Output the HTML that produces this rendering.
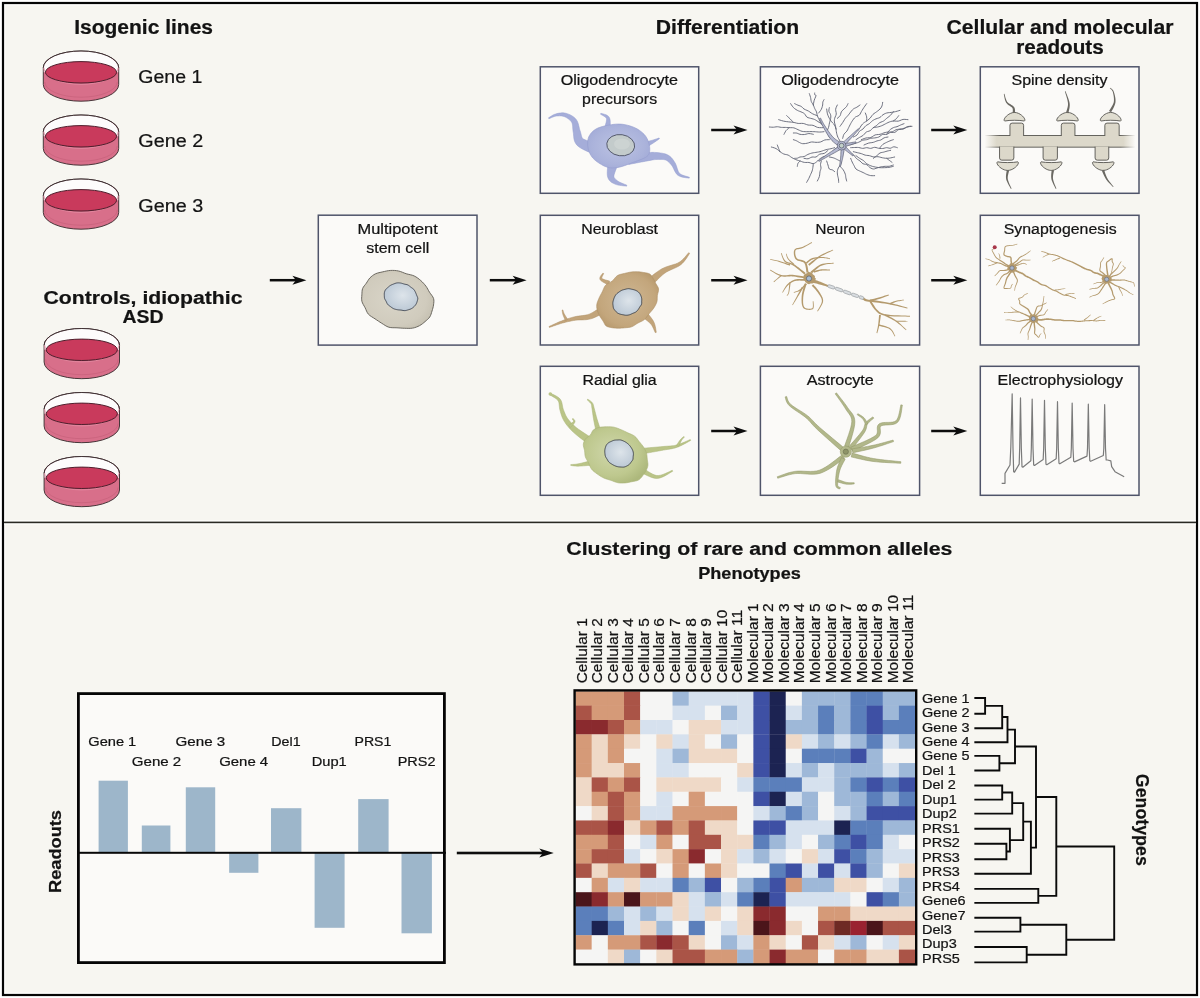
<!DOCTYPE html>
<html><head><meta charset="utf-8"><style>
html,body{margin:0;padding:0;background:#ffffff;}
svg{display:block;}
text{font-family:"Liberation Sans",sans-serif;fill:#131313;stroke:#131313;stroke-width:0.22px;}
svg{will-change:transform;}
</style></head><body>
<svg width="1200" height="998" viewBox="0 0 1200 998">
<rect x="0" y="0" width="1200" height="998" fill="#ffffff"/>
<rect x="4" y="4" width="1192" height="990" fill="#fcfcfa"/>
<rect x="5.5" y="5.5" width="1189" height="987" fill="#f7f6f1"/>
<rect x="3" y="3" width="1194" height="992" fill="none" stroke="#050505" stroke-width="2.2"/>
<rect x="4" y="520.2" width="1192" height="4.4" fill="#fdfdfb"/>
<rect x="4" y="521.6" width="1192" height="1.6" fill="#2a2a24"/>
<path d="M43.3 67.7 A37.7 16.7 0 0 1 118.7 67.7 L118.7 84.5 A37.7 16.7 0 0 1 43.3 84.5 Z" fill="#d86f8a" stroke="#3e3033" stroke-width="0.95"/>
<path d="M43.8 67.7 A37.2 16.4 0 0 1 118.2 67.7 L118.2 72.3 L43.8 72.3 Z" fill="#fdfcfc"/>
<path d="M43.9 67.7 A37.1 16.7 0 0 0 118.1 67.7" fill="none" stroke="#e48da3" stroke-width="0.8"/>
<path d="M44.8 82 A36.2 15.2 0 0 0 117.2 82" fill="none" stroke="#c9627c" stroke-width="0.8"/>
<ellipse cx="81" cy="72.3" rx="35.6" ry="10.7" fill="#c93a5c" stroke="#4e1e2c" stroke-width="1.0"/>
<path d="M43.3 67.7 A37.7 16.7 0 0 1 118.7 67.7" fill="none" stroke="#3e3033" stroke-width="0.95"/>
<path d="M43.3 131.7 A37.7 16.7 0 0 1 118.7 131.7 L118.7 148.5 A37.7 16.7 0 0 1 43.3 148.5 Z" fill="#d86f8a" stroke="#3e3033" stroke-width="0.95"/>
<path d="M43.8 131.7 A37.2 16.4 0 0 1 118.2 131.7 L118.2 136.3 L43.8 136.3 Z" fill="#fdfcfc"/>
<path d="M43.9 131.7 A37.1 16.7 0 0 0 118.1 131.7" fill="none" stroke="#e48da3" stroke-width="0.8"/>
<path d="M44.8 146 A36.2 15.2 0 0 0 117.2 146" fill="none" stroke="#c9627c" stroke-width="0.8"/>
<ellipse cx="81" cy="136.3" rx="35.6" ry="10.7" fill="#c93a5c" stroke="#4e1e2c" stroke-width="1.0"/>
<path d="M43.3 131.7 A37.7 16.7 0 0 1 118.7 131.7" fill="none" stroke="#3e3033" stroke-width="0.95"/>
<path d="M43.3 195.7 A37.7 16.7 0 0 1 118.7 195.7 L118.7 212.5 A37.7 16.7 0 0 1 43.3 212.5 Z" fill="#d86f8a" stroke="#3e3033" stroke-width="0.95"/>
<path d="M43.8 195.7 A37.2 16.4 0 0 1 118.2 195.7 L118.2 200.3 L43.8 200.3 Z" fill="#fdfcfc"/>
<path d="M43.9 195.7 A37.1 16.7 0 0 0 118.1 195.7" fill="none" stroke="#e48da3" stroke-width="0.8"/>
<path d="M44.8 210 A36.2 15.2 0 0 0 117.2 210" fill="none" stroke="#c9627c" stroke-width="0.8"/>
<ellipse cx="81" cy="200.3" rx="35.6" ry="10.7" fill="#c93a5c" stroke="#4e1e2c" stroke-width="1.0"/>
<path d="M43.3 195.7 A37.7 16.7 0 0 1 118.7 195.7" fill="none" stroke="#3e3033" stroke-width="0.95"/>
<path d="M44.1 345.2 A37.7 16.7 0 0 1 119.5 345.2 L119.5 362 A37.7 16.7 0 0 1 44.1 362 Z" fill="#d86f8a" stroke="#3e3033" stroke-width="0.95"/>
<path d="M44.6 345.2 A37.2 16.4 0 0 1 119 345.2 L119 349.8 L44.6 349.8 Z" fill="#fdfcfc"/>
<path d="M44.7 345.2 A37.1 16.7 0 0 0 118.9 345.2" fill="none" stroke="#e48da3" stroke-width="0.8"/>
<path d="M45.6 359.5 A36.2 15.2 0 0 0 118 359.5" fill="none" stroke="#c9627c" stroke-width="0.8"/>
<ellipse cx="81.8" cy="349.8" rx="35.6" ry="10.7" fill="#c93a5c" stroke="#4e1e2c" stroke-width="1.0"/>
<path d="M44.1 345.2 A37.7 16.7 0 0 1 119.5 345.2" fill="none" stroke="#3e3033" stroke-width="0.95"/>
<path d="M44.1 409.2 A37.7 16.7 0 0 1 119.5 409.2 L119.5 426 A37.7 16.7 0 0 1 44.1 426 Z" fill="#d86f8a" stroke="#3e3033" stroke-width="0.95"/>
<path d="M44.6 409.2 A37.2 16.4 0 0 1 119 409.2 L119 413.8 L44.6 413.8 Z" fill="#fdfcfc"/>
<path d="M44.7 409.2 A37.1 16.7 0 0 0 118.9 409.2" fill="none" stroke="#e48da3" stroke-width="0.8"/>
<path d="M45.6 423.5 A36.2 15.2 0 0 0 118 423.5" fill="none" stroke="#c9627c" stroke-width="0.8"/>
<ellipse cx="81.8" cy="413.8" rx="35.6" ry="10.7" fill="#c93a5c" stroke="#4e1e2c" stroke-width="1.0"/>
<path d="M44.1 409.2 A37.7 16.7 0 0 1 119.5 409.2" fill="none" stroke="#3e3033" stroke-width="0.95"/>
<path d="M44.1 473.2 A37.7 16.7 0 0 1 119.5 473.2 L119.5 490 A37.7 16.7 0 0 1 44.1 490 Z" fill="#d86f8a" stroke="#3e3033" stroke-width="0.95"/>
<path d="M44.6 473.2 A37.2 16.4 0 0 1 119 473.2 L119 477.8 L44.6 477.8 Z" fill="#fdfcfc"/>
<path d="M44.7 473.2 A37.1 16.7 0 0 0 118.9 473.2" fill="none" stroke="#e48da3" stroke-width="0.8"/>
<path d="M45.6 487.5 A36.2 15.2 0 0 0 118 487.5" fill="none" stroke="#c9627c" stroke-width="0.8"/>
<ellipse cx="81.8" cy="477.8" rx="35.6" ry="10.7" fill="#c93a5c" stroke="#4e1e2c" stroke-width="1.0"/>
<path d="M44.1 473.2 A37.7 16.7 0 0 1 119.5 473.2" fill="none" stroke="#3e3033" stroke-width="0.95"/>
<text x="74.2" y="34.1" font-size="19.33" font-weight="bold" textLength="138.81" lengthAdjust="spacingAndGlyphs">Isogenic lines</text>
<text x="138.3" y="83.3" font-size="19.19" textLength="64.01" lengthAdjust="spacingAndGlyphs">Gene 1</text>
<text x="138.3" y="147.4" font-size="19.19" textLength="65.01" lengthAdjust="spacingAndGlyphs">Gene 2</text>
<text x="138.3" y="211.6" font-size="19.19" textLength="65.01" lengthAdjust="spacingAndGlyphs">Gene 3</text>
<text x="43.5" y="303.5" font-size="19.19" font-weight="bold" textLength="198.99" lengthAdjust="spacingAndGlyphs">Controls, idiopathic</text>
<text x="122.5" y="323" font-size="19.19" font-weight="bold" textLength="41.01" lengthAdjust="spacingAndGlyphs">ASD</text>
<text x="655.8" y="34.3" font-size="19.33" font-weight="bold" textLength="143.3" lengthAdjust="spacingAndGlyphs">Differentiation</text>
<text x="946.5" y="34" font-size="19.33" font-weight="bold" textLength="226.99" lengthAdjust="spacingAndGlyphs">Cellular and molecular</text>
<text x="1016.3" y="54.2" font-size="19.33" font-weight="bold" textLength="87.5" lengthAdjust="spacingAndGlyphs">readouts</text>
<rect x="540.3" y="66.8" width="158.4" height="126.5" fill="#fbfaf8" stroke="#4f546a" stroke-width="1.5"/>
<rect x="540.3" y="215.3" width="158.4" height="129.7" fill="#fbfaf8" stroke="#4f546a" stroke-width="1.5"/>
<rect x="540.3" y="366.3" width="158.4" height="129" fill="#fbfaf8" stroke="#4f546a" stroke-width="1.5"/>
<rect x="760.4" y="66.8" width="159.2" height="126.5" fill="#fbfaf8" stroke="#4f546a" stroke-width="1.5"/>
<rect x="760.4" y="215.3" width="159.2" height="129.7" fill="#fbfaf8" stroke="#4f546a" stroke-width="1.5"/>
<rect x="760.4" y="366.3" width="159.2" height="129" fill="#fbfaf8" stroke="#4f546a" stroke-width="1.5"/>
<rect x="980.3" y="66.8" width="158.7" height="126.5" fill="#fbfaf8" stroke="#4f546a" stroke-width="1.5"/>
<rect x="980.3" y="215.3" width="158.7" height="129.7" fill="#fbfaf8" stroke="#4f546a" stroke-width="1.5"/>
<rect x="980.3" y="366.3" width="158.7" height="129" fill="#fbfaf8" stroke="#4f546a" stroke-width="1.5"/>
<rect x="318.3" y="215.2" width="158.7" height="129.9" fill="#fbfaf8" stroke="#4f546a" stroke-width="1.5"/>
<rect x="269.8" y="278.95" width="27.1" height="2.5" fill="#0d0d0d"/>
<path d="M306.4 280.2 L292.4 275.7 L295.9 280.2 L292.4 284.7Z" fill="#0d0d0d"/>
<rect x="489.8" y="278.95" width="27.3" height="2.5" fill="#0d0d0d"/>
<path d="M526.6 280.2 L512.6 275.7 L516.1 280.2 L512.6 284.7Z" fill="#0d0d0d"/>
<rect x="711.2" y="128.75" width="26.8" height="2.5" fill="#0d0d0d"/>
<path d="M747.5 130 L733.5 125.5 L737 130 L733.5 134.5Z" fill="#0d0d0d"/>
<rect x="931.2" y="128.75" width="26.6" height="2.5" fill="#0d0d0d"/>
<path d="M967.3 130 L953.3 125.5 L956.8 130 L953.3 134.5Z" fill="#0d0d0d"/>
<rect x="711.2" y="279" width="26.8" height="2.5" fill="#0d0d0d"/>
<path d="M747.5 280.25 L733.5 275.75 L737 280.25 L733.5 284.75Z" fill="#0d0d0d"/>
<rect x="931.2" y="279" width="26.6" height="2.5" fill="#0d0d0d"/>
<path d="M967.3 280.25 L953.3 275.75 L956.8 280.25 L953.3 284.75Z" fill="#0d0d0d"/>
<rect x="711.2" y="429.75" width="26.8" height="2.5" fill="#0d0d0d"/>
<path d="M747.5 431 L733.5 426.5 L737 431 L733.5 435.5Z" fill="#0d0d0d"/>
<rect x="931.2" y="429.75" width="26.6" height="2.5" fill="#0d0d0d"/>
<path d="M967.3 431 L953.3 426.5 L956.8 431 L953.3 435.5Z" fill="#0d0d0d"/>
<rect x="456.8" y="851.7" width="87" height="2.6" fill="#0d0d0d"/>
<path d="M553.8 853 L539.3 848.6 L542.8 853 L539.3 857.4Z" fill="#0d0d0d"/>
<text x="560.7" y="84.9" font-size="14.24" textLength="117.3" lengthAdjust="spacingAndGlyphs">Oligodendrocyte</text>
<text x="582.1" y="103.6" font-size="14.24" textLength="74.99" lengthAdjust="spacingAndGlyphs">precursors</text>
<text x="781.3" y="84.9" font-size="14.24" textLength="117.6" lengthAdjust="spacingAndGlyphs">Oligodendrocyte</text>
<text x="1011.5" y="84.5" font-size="14.24" textLength="96" lengthAdjust="spacingAndGlyphs">Spine density</text>
<text x="357.5" y="234.3" font-size="14.24" textLength="80.29" lengthAdjust="spacingAndGlyphs">Multipotent</text>
<text x="366.3" y="253.2" font-size="14.24" textLength="63.01" lengthAdjust="spacingAndGlyphs">stem cell</text>
<text x="581.2" y="234.2" font-size="14.24" textLength="76.8" lengthAdjust="spacingAndGlyphs">Neuroblast</text>
<text x="815.5" y="233.8" font-size="14.24" textLength="49.5" lengthAdjust="spacingAndGlyphs">Neuron</text>
<text x="1003.7" y="234.2" font-size="14.24" textLength="113" lengthAdjust="spacingAndGlyphs">Synaptogenesis</text>
<text x="582.5" y="384.7" font-size="14.24" textLength="74.19" lengthAdjust="spacingAndGlyphs">Radial glia</text>
<text x="806.7" y="384.7" font-size="14.24" textLength="67.1" lengthAdjust="spacingAndGlyphs">Astrocyte</text>
<text x="997.5" y="384.7" font-size="14.24" textLength="125.51" lengthAdjust="spacingAndGlyphs">Electrophysiology</text>
<text x="566.3" y="554.5" font-size="19.19" font-weight="bold" textLength="386.01" lengthAdjust="spacingAndGlyphs">Clustering of rare and common alleles</text>
<text x="698.2" y="579" font-size="16.28" font-weight="bold" textLength="102.6" lengthAdjust="spacingAndGlyphs">Phenotypes</text>
<defs><radialGradient id="gopc" cx="0.5" cy="0.5" r="0.6"><stop offset="0" stop-color="#bcc3e3"/><stop offset="0.7" stop-color="#abb3db"/><stop offset="1" stop-color="#a0a9d6"/></radialGradient><radialGradient id="gms" cx="0.45" cy="0.5" r="0.6"><stop offset="0" stop-color="#d9d5c8"/><stop offset="0.75" stop-color="#d0cbbd"/><stop offset="1" stop-color="#c4bfb0"/></radialGradient><radialGradient id="gnb" cx="0.5" cy="0.5" r="0.6"><stop offset="0" stop-color="#cfb793"/><stop offset="0.75" stop-color="#c3a67c"/><stop offset="1" stop-color="#b6986c"/></radialGradient><radialGradient id="grg" cx="0.45" cy="0.45" r="0.6"><stop offset="0" stop-color="#d0d7ab"/><stop offset="0.7" stop-color="#bec88e"/><stop offset="1" stop-color="#adb87c"/></radialGradient><radialGradient id="gnuc" cx="0.55" cy="0.45" r="0.6"><stop offset="0" stop-color="#dde4ea"/><stop offset="1" stop-color="#bac7d4"/></radialGradient></defs>
<path d="M595.07 142.9 L593.86 142.51 L592.24 142.05 L590.43 141.56 L588.54 141.01 L586.69 140.43 L585.04 139.82 L583.78 139.26 L583.06 138.86 L582.67 138.53 L582.29 138.04 L581.93 137.31 L581.59 136.34 L581.27 135.15 L580.96 133.8 L580.59 132.3 L580.14 130.88 L579.73 129.65 L579.4 128.4 L579.08 127.03 L578.74 125.56 L578.34 124.04 L577.83 122.49 L577.14 120.95 L576.23 119.52 L575.14 118.28 L573.94 117.21 L572.65 116.27 L571.31 115.44 L569.93 114.73 L568.55 114.13 L567.2 113.63 L565.87 113.24 L564.52 112.97 L563.16 112.85 L561.82 112.85 L560.51 112.94 L559.25 113.11 L558.03 113.34 L556.87 113.61 L555.76 113.91 L554.63 114.29 L553.51 114.79 L552.43 115.36 L551.42 115.97 L550.49 116.56 L549.67 117.09 L548.99 117.54 L548.47 117.85 L548.93 118.75 L549.51 118.51 L550.26 118.16 L551.14 117.76 L552.12 117.33 L553.16 116.92 L554.22 116.55 L555.25 116.27 L556.24 116.09 L557.27 115.99 L558.37 115.91 L559.49 115.87 L560.61 115.9 L561.72 115.99 L562.78 116.15 L563.78 116.41 L564.73 116.76 L565.72 117.23 L566.76 117.81 L567.81 118.48 L568.82 119.22 L569.76 120.02 L570.58 120.85 L571.27 121.69 L571.77 122.48 L572.1 123.28 L572.34 124.21 L572.51 125.33 L572.64 126.6 L572.74 127.99 L572.85 129.48 L573.02 131.05 L573.26 132.52 L573.45 133.77 L573.55 135.01 L573.66 136.41 L573.82 137.95 L574.12 139.63 L574.67 141.44 L575.57 143.31 L576.94 145.14 L578.72 146.73 L580.71 148.06 L582.78 149.23 L584.87 150.27 L586.87 151.2 L588.64 151.99 L590 152.62 L590.93 153.1Z" fill="#a5add9" stroke="#939cce" stroke-width="0.5" stroke-linejoin="round"/>
<path d="M609.97 130.42 L609.98 129.52 L610.05 128.22 L610.16 126.6 L610.25 124.78 L610.28 122.9 L610.21 121.05 L609.97 119.31 L609.46 117.73 L608.55 116.45 L607.39 115.53 L606.13 114.87 L604.83 114.38 L603.59 114 L602.46 113.71 L601.55 113.47 L600.92 113.25 L600.48 114.15 L601.09 114.54 L601.95 115.01 L602.95 115.55 L603.99 116.16 L604.97 116.84 L605.78 117.55 L606.32 118.25 L606.54 118.87 L606.56 119.7 L606.41 120.95 L606.1 122.47 L605.66 124.09 L605.18 125.72 L604.7 127.24 L604.29 128.58 L604.03 129.58Z" fill="#a5add9" stroke="#939cce" stroke-width="0.5" stroke-linejoin="round"/>
<path d="M646.09 147.52 L646.68 147.16 L647.47 146.67 L648.41 146.09 L649.46 145.44 L650.56 144.76 L651.66 144.07 L652.69 143.41 L653.62 142.81 L654.48 142.23 L655.36 141.63 L656.22 141.02 L657.04 140.43 L657.8 139.88 L658.48 139.38 L659.05 138.97 L659.48 138.66 L659.12 137.94 L658.6 138.12 L657.94 138.35 L657.15 138.63 L656.26 138.93 L655.31 139.25 L654.33 139.58 L653.34 139.89 L652.38 140.19 L651.36 140.48 L650.21 140.8 L648.98 141.13 L647.75 141.46 L646.56 141.77 L645.49 142.06 L644.58 142.3 L643.91 142.48Z" fill="#a5add9" stroke="#939cce" stroke-width="0.5" stroke-linejoin="round"/>
<path d="M628.65 164.46 L630 164.21 L631.83 163.85 L634 163.44 L636.4 162.98 L638.88 162.5 L641.3 162.04 L643.54 161.63 L645.48 161.27 L647.16 160.96 L648.69 160.67 L650.07 160.39 L651.33 160.14 L652.51 159.93 L653.63 159.75 L654.75 159.62 L655.95 159.53 L657.28 159.46 L658.64 159.41 L659.99 159.38 L661.29 159.39 L662.52 159.46 L663.65 159.58 L664.67 159.76 L665.55 160.01 L666.35 160.35 L667.1 160.76 L667.83 161.27 L668.55 161.88 L669.28 162.58 L670.02 163.38 L670.79 164.27 L671.54 165.16 L672.22 166.1 L672.86 167.23 L673.51 168.55 L674.18 169.98 L674.9 171.43 L675.72 172.85 L676.69 174.16 L677.86 175.28 L679.27 176.12 L680.83 176.72 L682.48 177.16 L684.14 177.48 L685.72 177.71 L687.15 177.88 L688.33 178.03 L689.18 178.18 L689.42 177.22 L688.57 176.94 L687.4 176.62 L686.02 176.25 L684.54 175.81 L683.04 175.3 L681.63 174.71 L680.43 174.04 L679.54 173.32 L678.88 172.47 L678.3 171.39 L677.79 170.12 L677.32 168.71 L676.86 167.22 L676.37 165.71 L675.77 164.21 L675.06 162.84 L674.33 161.68 L673.64 160.6 L672.91 159.55 L672.11 158.52 L671.23 157.54 L670.23 156.61 L669.11 155.75 L667.85 154.99 L666.45 154.35 L664.99 153.85 L663.48 153.47 L661.96 153.17 L660.44 152.94 L658.94 152.75 L657.48 152.61 L656.05 152.47 L654.61 152.38 L653.19 152.35 L651.81 152.37 L650.45 152.42 L649.08 152.5 L647.67 152.58 L646.17 152.66 L644.52 152.73 L642.55 152.81 L640.24 152.91 L637.76 153.03 L635.23 153.15 L632.78 153.27 L630.57 153.38 L628.71 153.47 L627.35 153.54Z" fill="#a5add9" stroke="#939cce" stroke-width="0.5" stroke-linejoin="round"/>
<path d="M608.66 158.69 L608.54 159.93 L608.32 161.69 L608.02 163.9 L607.72 166.35 L607.45 168.9 L607.27 171.41 L607.23 173.78 L607.43 175.91 L607.91 177.74 L608.61 179.28 L609.52 180.57 L610.56 181.61 L611.65 182.41 L612.75 183.03 L613.83 183.56 L614.99 184.09 L616.38 184.61 L617.98 185.02 L619.67 185.34 L621.36 185.59 L622.99 185.78 L624.46 185.93 L625.68 186.06 L626.57 186.18 L626.83 185.22 L626 184.86 L624.84 184.39 L623.48 183.85 L622 183.24 L620.51 182.58 L619.11 181.89 L617.93 181.19 L617.01 180.51 L616.21 179.82 L615.44 179.14 L614.83 178.51 L614.39 177.93 L614.12 177.39 L613.97 176.85 L613.92 176.23 L613.97 175.49 L614.22 174.35 L614.73 172.68 L615.46 170.68 L616.32 168.52 L617.23 166.38 L618.09 164.38 L618.83 162.62 L619.34 161.31Z" fill="#a5add9" stroke="#939cce" stroke-width="0.5" stroke-linejoin="round"/>
<path d="M596 129 L597.87 128.06 L599.99 127.25 L602.27 126.54 L604.64 125.94 L607.01 125.43 L609.3 125 L611.53 124.64 L613.76 124.35 L616 124.15 L618.24 124.06 L620.47 124.11 L622.7 124.3 L624.97 124.66 L627.29 125.16 L629.61 125.79 L631.87 126.54 L634.02 127.38 L636 128.3 L637.84 129.31 L639.59 130.44 L641.23 131.67 L642.74 132.97 L644.1 134.32 L645.3 135.7 L646.32 137.16 L647.17 138.71 L647.88 140.31 L648.46 141.93 L648.93 143.5 L649.3 145 L649.58 146.45 L649.74 147.89 L649.8 149.3 L649.74 150.64 L649.58 151.88 L649.3 153 L648.96 153.95 L648.56 154.75 L648.05 155.45 L647.37 156.11 L646.48 156.77 L645.3 157.5 L643.78 158.28 L641.94 159.08 L639.88 159.89 L637.69 160.7 L635.47 161.5 L633.3 162.3 L631.13 163.14 L628.87 164.02 L626.57 164.91 L624.29 165.73 L622.08 166.45 L620 167 L618.05 167.4 L616.19 167.7 L614.4 167.89 L612.67 167.96 L610.97 167.9 L609.3 167.7 L607.65 167.34 L606.05 166.81 L604.48 166.16 L602.95 165.41 L601.46 164.58 L600 163.7 L598.55 162.77 L597.09 161.76 L595.67 160.68 L594.32 159.53 L593.09 158.3 L592 157 L591.05 155.62 L590.2 154.14 L589.46 152.6 L588.84 151 L588.35 149.36 L588 147.7 L587.77 145.97 L587.64 144.14 L587.64 142.27 L587.8 140.42 L588.15 138.64 L588.7 137 L589.47 135.46 L590.42 133.99 L591.56 132.58 L592.88 131.27 L594.36 130.07Z" fill="url(#gopc)" stroke="#939cce" stroke-width="0.6"/>
<ellipse cx="620.7" cy="145.2" rx="14" ry="10.6" transform="rotate(8 620.7 145.2)" fill="#c3cbcb" stroke="#4f5468" stroke-width="0.9"/>
<ellipse cx="622" cy="144" rx="8" ry="5.5" fill="#d0d6d4" opacity="0.7"/>
<path d="M429.77 316.94 L428.79 318.2 L427.63 319.37 L426.37 320.48 L425.08 321.57 L423.8 322.66 L422.48 323.72 L421.09 324.72 L419.6 325.61 L418 326.4 L416.3 327.1 L414.52 327.69 L412.69 328.11 L410.78 328.33 L408.79 328.38 L406.77 328.34 L404.78 328.28 L402.83 328.21 L400.89 328.09 L398.94 327.94 L396.97 327.8 L394.93 327.74 L392.86 327.73 L390.8 327.6 L388.83 327.21 L386.95 326.46 L385.15 325.45 L383.4 324.32 L381.67 323.22 L379.99 322.17 L378.35 321.09 L376.72 319.99 L375.08 318.88 L373.34 317.77 L371.54 316.67 L369.84 315.5 L368.41 314.19 L367.35 312.71 L366.54 311.09 L365.85 309.41 L365.11 307.77 L364.22 306.17 L363.3 304.58 L362.49 302.98 L361.91 301.37 L361.66 299.75 L361.64 298.11 L361.75 296.47 L361.87 294.85 L361.94 293.22 L362.02 291.6 L362.21 290.01 L362.63 288.5 L363.34 287.11 L364.29 285.8 L365.33 284.53 L366.31 283.23 L367.17 281.87 L368 280.5 L368.88 279.16 L369.92 277.91 L371.13 276.75 L372.47 275.66 L373.92 274.67 L375.48 273.82 L377.18 273.16 L379.01 272.66 L380.91 272.25 L382.79 271.84 L384.65 271.41 L386.52 270.99 L388.42 270.65 L390.35 270.45 L392.35 270.39 L394.39 270.45 L396.44 270.64 L398.46 270.97 L400.41 271.51 L402.34 272.24 L404.26 273.02 L406.21 273.72 L408.21 274.25 L410.26 274.71 L412.27 275.23 L414.17 275.94 L415.95 276.9 L417.65 278.03 L419.25 279.27 L420.77 280.55 L422.19 281.86 L423.52 283.25 L424.76 284.68 L425.91 286.13 L426.91 287.62 L427.78 289.14 L428.62 290.68 L429.51 292.22 L430.58 293.76 L431.75 295.3 L432.81 296.85 L433.54 298.42 L433.86 300.04 L433.88 301.69 L433.73 303.34 L433.52 304.95 L433.27 306.51 L432.9 308.04 L432.47 309.55 L432.01 311.05 L431.56 312.56 L431.09 314.08 L430.52 315.56Z" fill="url(#gms)" stroke="#5e5a52" stroke-width="0.9"/>
<path d="M416.12 304.03 L415.71 304.68 L415.24 305.31 L414.73 305.91 L414.19 306.49 L413.61 307.05 L412.99 307.59 L412.33 308.09 L411.62 308.53 L410.86 308.91 L410.05 309.24 L409.2 309.53 L408.35 309.79 L407.5 310.06 L406.63 310.32 L405.74 310.53 L404.84 310.63 L403.91 310.59 L402.95 310.44 L401.99 310.24 L401.05 310.09 L400.11 310 L399.19 309.94 L398.26 309.86 L397.34 309.72 L396.4 309.54 L395.45 309.31 L394.52 309.04 L393.64 308.69 L392.81 308.25 L392.03 307.74 L391.27 307.19 L390.52 306.63 L389.76 306.09 L388.99 305.54 L388.28 304.96 L387.67 304.33 L387.19 303.64 L386.82 302.89 L386.5 302.12 L386.15 301.37 L385.74 300.64 L385.3 299.92 L384.91 299.2 L384.61 298.47 L384.44 297.72 L384.36 296.96 L384.33 296.19 L384.31 295.43 L384.29 294.67 L384.29 293.91 L384.33 293.15 L384.44 292.42 L384.63 291.69 L384.89 290.97 L385.21 290.28 L385.6 289.63 L386.1 289.04 L386.67 288.5 L387.29 287.98 L387.9 287.46 L388.49 286.94 L389.07 286.41 L389.68 285.92 L390.34 285.46 L391.06 285.07 L391.82 284.72 L392.61 284.4 L393.41 284.09 L394.22 283.76 L395.04 283.44 L395.89 283.16 L396.76 282.97 L397.68 282.88 L398.64 282.87 L399.6 282.93 L400.55 283.04 L401.47 283.23 L402.38 283.5 L403.3 283.79 L404.21 284.07 L405.15 284.27 L406.11 284.45 L407.04 284.67 L407.91 284.99 L408.7 285.45 L409.42 286.02 L410.12 286.62 L410.83 287.2 L411.59 287.73 L412.37 288.24 L413.12 288.78 L413.76 289.37 L414.28 290.03 L414.72 290.75 L415.1 291.49 L415.46 292.23 L415.79 292.96 L416.08 293.69 L416.35 294.42 L416.63 295.16 L416.96 295.92 L417.31 296.68 L417.61 297.45 L417.78 298.21 L417.77 298.96 L417.64 299.72 L417.44 300.46 L417.22 301.2 L417 301.93 L416.75 302.65 L416.46 303.35Z" fill="url(#gnuc)" stroke="#3c4350" stroke-width="0.9"/>
<path d="M651.48 285.81 L652.54 284.76 L653.91 283.35 L655.5 281.7 L657.26 279.89 L659.13 278.04 L661.04 276.24 L662.91 274.59 L664.67 273.21 L666.43 272.06 L668.39 271 L670.49 270.01 L672.67 269.04 L674.85 268.07 L676.99 267.06 L679.01 265.95 L680.83 264.71 L682.45 263.27 L683.92 261.68 L685.23 260.03 L686.41 258.38 L687.44 256.81 L688.33 255.4 L689.07 254.23 L689.67 253.37 L688.73 252.63 L688.01 253.43 L687.11 254.52 L686.07 255.79 L684.88 257.19 L683.57 258.61 L682.17 260 L680.69 261.25 L679.17 262.29 L677.5 263.15 L675.6 263.9 L673.51 264.6 L671.27 265.27 L668.94 265.97 L666.57 266.76 L664.21 267.68 L661.93 268.79 L659.69 270.15 L657.41 271.69 L655.14 273.36 L652.95 275.04 L650.92 276.67 L649.12 278.13 L647.64 279.32 L646.52 280.19Z" fill="#c2a47a" stroke="#ad8f64" stroke-width="0.5" stroke-linejoin="round"/>
<path d="M602.38 306.18 L601.3 306.87 L599.89 307.82 L598.26 308.92 L596.47 310.1 L594.59 311.3 L592.7 312.42 L590.87 313.39 L589.22 314.13 L587.62 314.65 L585.92 315.06 L584.13 315.37 L582.27 315.62 L580.38 315.84 L578.46 316.07 L576.54 316.36 L574.68 316.74 L572.92 317.19 L571.23 317.66 L569.59 318.14 L567.98 318.65 L566.39 319.18 L564.81 319.74 L563.23 320.31 L561.63 320.91 L559.94 321.59 L558.14 322.35 L556.3 323.17 L554.49 323.99 L552.79 324.78 L551.26 325.5 L549.98 326.09 L549.01 326.54 L549.39 327.46 L550.39 327.11 L551.73 326.64 L553.32 326.07 L555.08 325.45 L556.94 324.8 L558.83 324.17 L560.66 323.59 L562.37 323.09 L563.97 322.65 L565.57 322.23 L567.16 321.84 L568.75 321.47 L570.35 321.13 L571.98 320.81 L573.64 320.52 L575.32 320.26 L577.03 320.07 L578.81 319.97 L580.67 319.92 L582.6 319.88 L584.59 319.8 L586.63 319.64 L588.7 319.35 L590.78 318.87 L592.91 318.16 L595.1 317.25 L597.29 316.22 L599.4 315.15 L601.38 314.09 L603.12 313.14 L604.55 312.36 L605.62 311.82Z" fill="#c2a47a" stroke="#ad8f64" stroke-width="0.5" stroke-linejoin="round"/>
<path d="M567.66 319.41 L567.37 318.94 L566.97 318.32 L566.5 317.58 L565.99 316.77 L565.47 315.93 L564.97 315.12 L564.53 314.36 L564.19 313.72 L563.92 313.16 L563.7 312.59 L563.5 312.04 L563.34 311.52 L563.2 311.03 L563.08 310.59 L562.98 310.21 L562.89 309.92 L562.11 310.08 L562.15 310.38 L562.18 310.75 L562.23 311.21 L562.29 311.73 L562.37 312.31 L562.47 312.94 L562.62 313.6 L562.81 314.28 L563.07 315.03 L563.39 315.88 L563.75 316.8 L564.14 317.73 L564.51 318.62 L564.86 319.43 L565.14 320.1 L565.34 320.59Z" fill="#c2a47a" stroke="#ad8f64" stroke-width="0.5" stroke-linejoin="round"/>
<path d="M609.79 281.16 L609.03 280.92 L607.97 280.62 L606.75 280.29 L605.46 279.93 L604.21 279.53 L603.11 279.1 L602.31 278.7 L601.94 278.45 L601.83 278.26 L601.82 277.79 L601.99 277.09 L602.31 276.28 L602.71 275.46 L603.12 274.68 L603.48 274.01 L603.69 273.52 L602.91 273.08 L602.62 273.49 L602.17 274.04 L601.6 274.73 L600.99 275.52 L600.43 276.39 L599.99 277.33 L599.79 278.4 L600.06 279.55 L600.81 280.51 L601.81 281.32 L602.99 282.08 L604.25 282.79 L605.52 283.44 L606.67 284.02 L607.59 284.49 L608.21 284.84Z" fill="#c2a47a" stroke="#ad8f64" stroke-width="0.5" stroke-linejoin="round"/>
<path d="M643.83 318.07 L644.45 318.58 L645.28 319.24 L646.24 319.97 L647.27 320.78 L648.32 321.64 L649.33 322.52 L650.23 323.39 L650.97 324.21 L651.63 325.11 L652.28 326.21 L652.92 327.43 L653.52 328.68 L654.06 329.9 L654.54 331.02 L654.95 331.97 L655.28 332.67 L656.32 332.33 L656.18 331.59 L656.02 330.59 L655.83 329.38 L655.6 328.03 L655.31 326.6 L654.97 325.15 L654.55 323.73 L654.03 322.39 L653.36 321.11 L652.57 319.82 L651.7 318.57 L650.82 317.37 L649.96 316.27 L649.2 315.3 L648.6 314.52 L648.17 313.93Z" fill="#c2a47a" stroke="#ad8f64" stroke-width="0.5" stroke-linejoin="round"/>
<path d="M655.95 283.77 L656.69 285.02 L657.49 286.27 L658.18 287.56 L658.56 288.96 L658.51 290.5 L658.15 292.15 L657.69 293.83 L657.36 295.49 L657.25 297.09 L657.25 298.68 L657.18 300.27 L656.89 301.85 L656.31 303.45 L655.53 305.06 L654.63 306.65 L653.65 308.18 L652.59 309.63 L651.41 311.03 L650.2 312.4 L649 313.8 L647.89 315.28 L646.82 316.81 L645.68 318.26 L644.4 319.54 L642.91 320.57 L641.27 321.42 L639.58 322.2 L637.93 323.05 L636.35 324.03 L634.79 325.09 L633.22 326.06 L631.62 326.81 L629.96 327.27 L628.27 327.53 L626.58 327.67 L624.91 327.81 L623.28 327.97 L621.66 328.08 L620.05 328.15 L618.44 328.16 L616.84 328.14 L615.23 328.08 L613.64 327.95 L612.08 327.73 L610.49 327.45 L608.9 327.11 L607.4 326.64 L606.13 325.93 L605.15 324.9 L604.4 323.62 L603.74 322.25 L603.03 320.95 L602.23 319.79 L601.42 318.65 L600.63 317.51 L599.9 316.32 L599.21 315.06 L598.55 313.77 L597.96 312.43 L597.49 311.03 L597.12 309.55 L596.82 308 L596.68 306.41 L596.75 304.81 L597.08 303.16 L597.63 301.48 L598.32 299.8 L599.03 298.14 L599.77 296.54 L600.59 294.97 L601.45 293.4 L602.29 291.8 L603.03 290.13 L603.72 288.4 L604.52 286.73 L605.57 285.26 L607.01 284.09 L608.73 283.12 L610.51 282.18 L612.14 281.1 L613.52 279.73 L614.78 278.2 L616.05 276.73 L617.47 275.55 L619.1 274.77 L620.86 274.25 L622.66 273.86 L624.42 273.46 L626.12 273.03 L627.79 272.63 L629.45 272.29 L631.1 272.03 L632.74 271.86 L634.37 271.77 L635.98 271.75 L637.57 271.78 L639.15 271.87 L640.71 272.03 L642.25 272.24 L643.79 272.51 L645.38 272.77 L646.99 273.05 L648.52 273.45 L649.86 274.09 L650.93 275.02 L651.81 276.2 L652.59 277.48 L653.34 278.74 L654.05 279.97 L654.7 281.22 L655.32 282.49Z" fill="url(#gnb)" stroke="#ad8f64" stroke-width="0.6"/>
<path d="M641.68 298.42 L641.75 299.13 L641.75 299.86 L641.72 300.6 L641.68 301.33 L641.69 302.08 L641.71 302.83 L641.67 303.58 L641.51 304.31 L641.18 305.01 L640.72 305.68 L640.22 306.35 L639.75 307.02 L639.34 307.7 L638.95 308.38 L638.54 309.05 L638.07 309.7 L637.55 310.34 L636.99 310.96 L636.39 311.55 L635.73 312.06 L635.01 312.47 L634.22 312.79 L633.41 313.09 L632.62 313.41 L631.85 313.76 L631.1 314.13 L630.33 314.47 L629.55 314.75 L628.74 314.96 L627.92 315.12 L627.09 315.22 L626.27 315.26 L625.47 315.22 L624.69 315.1 L623.91 314.94 L623.13 314.78 L622.36 314.65 L621.58 314.51 L620.82 314.34 L620.08 314.13 L619.35 313.87 L618.64 313.57 L617.95 313.23 L617.32 312.83 L616.75 312.37 L616.23 311.85 L615.74 311.3 L615.27 310.74 L614.8 310.19 L614.33 309.62 L613.92 309.02 L613.58 308.4 L613.36 307.72 L613.22 307.01 L613.12 306.28 L613.04 305.55 L612.95 304.83 L612.87 304.11 L612.84 303.39 L612.86 302.67 L612.95 301.94 L613.11 301.21 L613.3 300.49 L613.52 299.76 L613.74 299.03 L613.99 298.31 L614.27 297.59 L614.59 296.88 L614.96 296.18 L615.37 295.48 L615.83 294.8 L616.35 294.17 L616.93 293.59 L617.59 293.06 L618.28 292.55 L618.97 292.06 L619.66 291.57 L620.36 291.1 L621.08 290.65 L621.83 290.27 L622.61 289.97 L623.42 289.74 L624.24 289.53 L625.06 289.34 L625.88 289.12 L626.7 288.91 L627.52 288.75 L628.33 288.67 L629.13 288.71 L629.92 288.84 L630.71 289.01 L631.48 289.19 L632.25 289.34 L633.01 289.5 L633.76 289.69 L634.5 289.91 L635.22 290.17 L635.93 290.47 L636.62 290.8 L637.27 291.18 L637.88 291.61 L638.45 292.09 L638.98 292.61 L639.46 293.16 L639.88 293.74 L640.25 294.37 L640.58 295.01 L640.87 295.67 L641.14 296.34 L641.37 297.02 L641.55 297.71Z" fill="url(#gnuc)" stroke="#3b3f47" stroke-width="0.9"/>
<path d="M592.03 438.15 L590.78 437.33 L589.09 436.25 L587.08 434.97 L584.89 433.55 L582.64 432.07 L580.45 430.59 L578.46 429.19 L576.79 427.92 L575.36 426.75 L574.03 425.58 L572.8 424.44 L571.66 423.3 L570.6 422.18 L569.61 421.06 L568.69 419.93 L567.84 418.8 L567.07 417.68 L566.41 416.56 L565.81 415.43 L565.27 414.28 L564.77 413.1 L564.3 411.9 L563.83 410.68 L563.37 409.49 L563 408.34 L562.71 407.13 L562.48 405.85 L562.24 404.51 L561.96 403.15 L561.59 401.8 L561.05 400.47 L560.28 399.23 L559.24 398.12 L557.99 397.15 L556.63 396.29 L555.24 395.53 L553.89 394.85 L552.66 394.28 L551.66 393.8 L550.96 393.42 L550.04 394.98 L550.76 395.44 L551.75 396.01 L552.91 396.68 L554.15 397.42 L555.39 398.24 L556.52 399.09 L557.46 399.95 L558.12 400.77 L558.55 401.63 L558.85 402.61 L559.06 403.73 L559.21 404.96 L559.33 406.28 L559.47 407.67 L559.69 409.11 L560.03 410.51 L560.41 411.82 L560.78 413.1 L561.18 414.4 L561.62 415.72 L562.12 417.07 L562.7 418.44 L563.38 419.82 L564.16 421.2 L565.03 422.56 L565.95 423.9 L566.94 425.23 L568.01 426.57 L569.16 427.92 L570.41 429.28 L571.75 430.66 L573.21 432.08 L574.92 433.62 L576.91 435.28 L579.05 437 L581.24 438.7 L583.34 440.31 L585.24 441.75 L586.82 442.96 L587.97 443.85Z" fill="#bac487" stroke="#a7b275" stroke-width="0.5" stroke-linejoin="round"/>
<path d="M570.46 427.52 L570.81 427.12 L571.34 426.55 L571.99 425.86 L572.7 425.09 L573.41 424.29 L574.05 423.5 L574.57 422.73 L574.93 421.98 L575.02 421.21 L574.84 420.52 L574.5 419.96 L574.1 419.51 L573.69 419.14 L573.31 418.83 L573.03 418.6 L572.85 418.42 L572.15 418.98 L572.32 419.24 L572.6 419.56 L572.9 419.91 L573.18 420.29 L573.41 420.66 L573.53 420.99 L573.54 421.23 L573.47 421.42 L573.2 421.76 L572.68 422.28 L571.99 422.87 L571.21 423.48 L570.41 424.08 L569.65 424.64 L569 425.12 L568.54 425.48Z" fill="#bac487" stroke="#a7b275" stroke-width="0.5" stroke-linejoin="round"/>
<path d="M601.41 432.34 L601.08 431.34 L600.63 430.01 L600.09 428.43 L599.5 426.67 L598.89 424.83 L598.28 422.98 L597.71 421.21 L597.21 419.59 L596.76 418.04 L596.32 416.43 L595.89 414.81 L595.48 413.21 L595.09 411.67 L594.72 410.22 L594.37 408.91 L594.06 407.77 L593.81 406.86 L593.63 406.12 L593.49 405.5 L593.36 404.95 L593.21 404.43 L593.01 403.92 L592.74 403.4 L592.37 402.84 L591.87 402.25 L591.27 401.68 L590.61 401.13 L589.93 400.61 L589.27 400.14 L588.67 399.72 L588.17 399.38 L587.82 399.12 L587.18 399.88 L587.52 400.2 L587.98 400.6 L588.52 401.08 L589.11 401.6 L589.7 402.16 L590.24 402.72 L590.7 403.26 L591.03 403.76 L591.25 404.19 L591.39 404.57 L591.48 404.92 L591.55 405.33 L591.61 405.83 L591.69 406.46 L591.79 407.26 L591.94 408.23 L592.12 409.38 L592.32 410.7 L592.53 412.17 L592.75 413.75 L592.98 415.4 L593.23 417.08 L593.5 418.77 L593.79 420.41 L594.12 422.12 L594.5 423.98 L594.9 425.91 L595.31 427.83 L595.71 429.64 L596.07 431.27 L596.37 432.64 L596.59 433.66Z" fill="#bac487" stroke="#a7b275" stroke-width="0.5" stroke-linejoin="round"/>
<path d="M643.36 453.73 L644.96 453.44 L647.14 453.05 L649.75 452.59 L652.61 452.08 L655.59 451.55 L658.51 451.03 L661.22 450.53 L663.54 450.1 L665.51 449.75 L667.31 449.46 L668.98 449.2 L670.59 448.94 L672.16 448.66 L673.74 448.32 L675.36 447.89 L677.06 447.34 L678.89 446.61 L680.84 445.72 L682.83 444.73 L684.79 443.7 L686.63 442.69 L688.29 441.77 L689.67 441 L690.71 440.45 L690.29 439.55 L689.19 440.01 L687.73 440.65 L686 441.41 L684.09 442.24 L682.07 443.08 L680.05 443.86 L678.11 444.54 L676.34 445.06 L674.75 445.42 L673.23 445.68 L671.74 445.86 L670.22 445.99 L668.64 446.1 L666.95 446.2 L665.09 446.33 L663.06 446.5 L660.69 446.72 L657.96 446.97 L655.01 447.22 L652.01 447.48 L649.11 447.73 L646.48 447.95 L644.27 448.13 L642.64 448.27Z" fill="#bac487" stroke="#a7b275" stroke-width="0.5" stroke-linejoin="round"/>
<path d="M678.54 446.59 L678.79 446.08 L679.11 445.39 L679.49 444.58 L679.9 443.69 L680.34 442.77 L680.78 441.88 L681.2 441.08 L681.58 440.42 L681.95 439.86 L682.35 439.33 L682.77 438.82 L683.18 438.36 L683.58 437.94 L683.94 437.57 L684.24 437.25 L684.48 436.99 L683.92 436.41 L683.67 436.63 L683.33 436.89 L682.92 437.22 L682.45 437.59 L681.95 438.02 L681.44 438.49 L680.92 439.01 L680.42 439.58 L679.9 440.24 L679.35 441.02 L678.77 441.86 L678.2 442.73 L677.65 443.56 L677.16 444.32 L676.76 444.95 L676.46 445.41Z" fill="#bac487" stroke="#a7b275" stroke-width="0.5" stroke-linejoin="round"/>
<path d="M638.79 471.19 L640.07 471.8 L641.82 472.73 L643.96 473.9 L646.37 475.15 L648.93 476.36 L651.55 477.4 L654.14 478.15 L656.62 478.46 L659.04 478.18 L661.44 477.46 L663.8 476.43 L666.05 475.24 L668.15 474 L670.01 472.84 L671.55 471.89 L672.71 471.25 L672.29 470.35 L671.02 470.86 L669.36 471.65 L667.4 472.59 L665.23 473.56 L662.97 474.45 L660.72 475.15 L658.62 475.54 L656.78 475.54 L654.94 475.1 L652.84 474.22 L650.61 473.02 L648.36 471.63 L646.2 470.18 L644.23 468.81 L642.52 467.63 L641.21 466.81Z" fill="#bac487" stroke="#a7b275" stroke-width="0.5" stroke-linejoin="round"/>
<path d="M590.63 460.78 L589.62 461.04 L588.25 461.4 L586.62 461.82 L584.83 462.29 L582.99 462.75 L581.2 463.19 L579.56 463.57 L578.19 463.86 L577 464.06 L575.86 464.2 L574.78 464.3 L573.78 464.37 L572.87 464.41 L572.06 464.44 L571.36 464.47 L570.81 464.5 L570.79 465.5 L571.32 465.56 L572 465.65 L572.8 465.76 L573.73 465.88 L574.77 465.99 L575.9 466.08 L577.12 466.13 L578.41 466.14 L579.89 466.09 L581.62 465.99 L583.49 465.86 L585.4 465.71 L587.26 465.56 L588.94 465.42 L590.34 465.3 L591.37 465.22Z" fill="#bac487" stroke="#a7b275" stroke-width="0.5" stroke-linejoin="round"/>
<circle cx="550.3" cy="394" r="1.8" fill="#bac487"/>
<path d="M642.66 475.76 L641.72 476.94 L640.74 478.11 L639.65 479.19 L638.4 480.07 L636.92 480.68 L635.26 481.09 L633.53 481.41 L631.82 481.73 L630.18 482.09 L628.54 482.43 L626.88 482.72 L625.18 482.92 L623.43 483.03 L621.64 483.07 L619.84 483.01 L618.04 482.78 L616.25 482.33 L614.47 481.71 L612.68 481.01 L610.9 480.36 L609.1 479.8 L607.3 479.26 L605.52 478.68 L603.78 477.98 L602.09 477.12 L600.43 476.15 L598.82 475.1 L597.25 474 L595.69 472.86 L594.14 471.67 L592.71 470.4 L591.48 469.04 L590.55 467.56 L589.85 465.97 L589.23 464.34 L588.55 462.77 L587.71 461.26 L586.81 459.78 L585.98 458.3 L585.35 456.81 L585 455.3 L584.85 453.78 L584.76 452.26 L584.59 450.71 L584.23 449.11 L583.77 447.47 L583.4 445.86 L583.32 444.32 L583.57 442.84 L584.07 441.41 L584.75 440.06 L585.57 438.82 L586.62 437.78 L587.88 436.89 L589.17 436.01 L590.31 435 L591.15 433.74 L591.82 432.33 L592.54 430.97 L593.51 429.83 L594.81 428.97 L596.32 428.29 L597.95 427.75 L599.62 427.33 L601.32 427.04 L603.1 426.88 L604.92 426.82 L606.73 426.8 L608.53 426.77 L610.34 426.79 L612.15 426.9 L613.96 427.17 L615.76 427.63 L617.56 428.26 L619.34 428.97 L621.09 429.69 L622.8 430.43 L624.46 431.21 L626.12 432.02 L627.79 432.83 L629.54 433.59 L631.33 434.33 L633.06 435.15 L634.62 436.13 L635.94 437.36 L637.1 438.76 L638.18 440.24 L639.28 441.67 L640.42 443.04 L641.57 444.39 L642.66 445.77 L643.64 447.18 L644.52 448.65 L645.3 450.15 L645.98 451.68 L646.52 453.2 L646.86 454.71 L647.03 456.23 L647.14 457.75 L647.27 459.27 L647.5 460.82 L647.76 462.39 L647.93 463.93 L647.9 465.43 L647.62 466.86 L647.15 468.25 L646.57 469.6 L645.92 470.91 L645.22 472.18 L644.43 473.41 L643.58 474.6Z" fill="url(#grg)" stroke="#a7b275" stroke-width="0.6"/>
<path d="M629.4 464.34 L628.83 464.8 L628.21 465.23 L627.56 465.61 L626.89 465.96 L626.21 466.3 L625.5 466.61 L624.78 466.87 L624.03 467.05 L623.25 467.13 L622.44 467.12 L621.62 467.07 L620.81 467.02 L620.01 466.97 L619.21 466.91 L618.42 466.83 L617.63 466.68 L616.84 466.48 L616.06 466.23 L615.29 465.94 L614.53 465.62 L613.78 465.27 L613.05 464.89 L612.33 464.47 L611.63 464.03 L610.91 463.58 L610.19 463.11 L609.51 462.61 L608.9 462.05 L608.39 461.41 L607.95 460.71 L607.54 459.99 L607.13 459.27 L606.69 458.58 L606.24 457.89 L605.82 457.19 L605.49 456.47 L605.26 455.72 L605.1 454.95 L604.99 454.18 L604.91 453.41 L604.83 452.65 L604.79 451.89 L604.78 451.14 L604.81 450.39 L604.9 449.66 L605.03 448.93 L605.2 448.21 L605.4 447.5 L605.62 446.79 L605.88 446.09 L606.18 445.41 L606.55 444.78 L606.99 444.2 L607.5 443.65 L608.05 443.15 L608.64 442.7 L609.26 442.31 L609.93 441.97 L610.63 441.67 L611.32 441.37 L612 441.05 L612.68 440.74 L613.37 440.47 L614.09 440.25 L614.84 440.13 L615.61 440.06 L616.4 440.03 L617.19 440 L617.99 439.95 L618.8 439.91 L619.6 439.9 L620.41 439.97 L621.21 440.15 L622.02 440.41 L622.81 440.71 L623.59 441.05 L624.36 441.41 L625.11 441.82 L625.84 442.25 L626.55 442.72 L627.23 443.22 L627.9 443.76 L628.54 444.33 L629.13 444.92 L629.69 445.55 L630.21 446.21 L630.7 446.89 L631.17 447.58 L631.61 448.29 L632.03 449.01 L632.41 449.74 L632.73 450.49 L632.99 451.25 L633.19 452.03 L633.34 452.81 L633.42 453.59 L633.43 454.35 L633.36 455.1 L633.26 455.85 L633.17 456.6 L633.12 457.37 L633.09 458.14 L633.01 458.89 L632.83 459.6 L632.51 460.25 L632.09 460.85 L631.62 461.44 L631.17 462.02 L630.75 462.62 L630.34 463.23 L629.89 463.81Z" fill="url(#gnuc)" stroke="#3b3f47" stroke-width="0.9"/>
<path d="M838.67 143.67 L837.74 143.26 L836.42 142.67 L835.18 141.96 L834.21 141.13 L833.32 140.19 L832.4 139.29 L831.34 138.54 L830.26 137.84 L829.33 137 L828.72 135.89 L828.26 134.64 L827.75 133.42 L827.08 132.31 L826.36 131.23 L825.65 130.14 L825 129.02 L824.37 127.89 L823.69 126.79 L822.93 125.76 L822.12 124.76 L821.33 123.67 L820.6 122.42 L819.9 121.07 L819.23 119.72 L818.54 118.37 L817.88 117 L817.33 115.67 L817.01 114.38 L816.81 113.13 L816.51 111.92 L815.97 110.77 L815.32 109.66 L814.72 108.53 L814.25 107.37 L813.83 106.18 L813.33 105 L812.65 103.84 L811.89 102.68 L811.29 101.47 L810.98 100.17 L810.82 98.81 L810.59 97.47 L810.17 96.05 L809.68 94.65 L809.33 93.67" fill="none" stroke="#5f6273" stroke-width="0.9" stroke-linecap="round" stroke-linejoin="round"/>
<path d="M837.33 147.67 L836.37 148.3 L835 149.22 L833.69 150.22 L832.63 151.28 L831.63 152.41 L830.55 153.44 L829.31 154.29 L827.98 155.03 L826.67 155.67 L825.39 156.14 L824.12 156.5 L822.9 156.95 L821.76 157.55 L820.66 158.25 L819.61 159.01 L818.63 159.89 L817.69 160.85 L816.7 161.72 L815.65 162.54 L814.55 163.28 L813.33 163.67 L811.95 163.47 L810.46 162.92 L808.95 162.49 L807.42 162.43 L805.87 162.48 L804.34 162.39 L802.87 162.03 L801.43 161.51 L800 161 L798.58 160.55 L797.17 160.1 L795.79 159.59 L794.44 158.99 L793.13 158.33 L791.84 157.61 L790.61 156.76 L789.42 155.84 L788.15 155.09 L786.72 154.66 L785.22 154.4 L783.78 154 L782.48 153.34 L781.25 152.55 L780 151.67 L778.73 150.64 L777.44 149.53 L776.07 148.59 L774.37 147.89 L772.59 147.36 L771.33 147" fill="none" stroke="#5f6273" stroke-width="0.9" stroke-linecap="round" stroke-linejoin="round"/>
<path d="M842.67 150.33 L842.77 151.28 L842.89 152.64 L842.85 153.97 L842.49 155.13 L841.97 156.27 L841.57 157.42 L841.43 158.6 L841.41 159.79 L841.33 161 L841.17 162.26 L840.94 163.54 L840.56 164.76 L839.87 165.86 L839.02 166.89 L838.31 167.98 L837.84 169.18 L837.52 170.43 L837.33 171.67 L837.3 172.87 L837.41 174.06 L837.59 175.25 L837.84 176.42 L838.17 177.58 L838.43 178.75 L838.56 180.07 L838.63 181.4 L838.67 182.33" fill="none" stroke="#5f6273" stroke-width="0.9" stroke-linecap="round" stroke-linejoin="round"/>
<path d="M845.33 142.33 L846.23 141.85 L847.49 141.13 L848.61 140.28 L849.33 139.22 L849.92 138.03 L850.61 136.94 L851.56 136.12 L852.62 135.4 L853.61 134.61 L854.43 133.65 L855.18 132.63 L856 131.67 L856.98 130.87 L858.03 130.14 L858.97 129.3 L859.69 128.24 L860.3 127.08 L860.97 125.97 L861.74 124.96 L862.56 124.01 L863.46 123.13 L864.47 122.39 L865.55 121.74 L866.67 121 L867.83 120.13 L869.01 119.18 L870.12 118.14 L871.06 116.94 L871.92 115.66 L872.88 114.49 L874.03 113.54 L875.29 112.7 L876.52 111.84 L877.75 110.92 L878.96 109.97 L880 109 L880.82 108.01 L881.47 107 L881.98 105.93 L882.33 104.63 L882.54 103.28 L882.67 102.33" fill="none" stroke="#5f6273" stroke-width="0.9" stroke-linecap="round" stroke-linejoin="round"/>
<path d="M846.67 145 L847.77 144.97 L849.34 144.9 L850.88 144.73 L852.22 144.4 L853.53 143.96 L854.84 143.51 L856.16 143.11 L857.48 142.69 L858.77 142.2 L860.03 141.55 L861.26 140.83 L862.54 140.26 L863.9 139.99 L865.29 139.87 L866.67 139.67 L867.98 139.23 L869.27 138.72 L870.59 138.31 L871.97 138.12 L873.37 138.04 L874.77 137.91 L876.14 137.7 L877.5 137.43 L878.81 137 L880.03 136.22 L881.2 135.27 L882.44 134.56 L883.82 134.38 L885.27 134.45 L886.67 134.33 L887.95 133.76 L889.18 132.99 L890.48 132.43 L891.94 132.36 L893.46 132.49 L894.89 132.34 L896.11 131.56 L897.24 130.5 L898.45 129.68 L899.85 129.43 L901.33 129.43 L902.76 129.27 L904.05 128.71 L905.3 128 L906.57 127.38 L908.07 126.93 L909.59 126.57 L910.67 126.33" fill="none" stroke="#5f6273" stroke-width="0.9" stroke-linecap="round" stroke-linejoin="round"/>
<path d="M846.67 149 L847.37 149.95 L848.4 151.3 L849.54 152.51 L850.83 153.31 L852.24 153.98 L853.52 154.8 L854.5 155.94 L855.36 157.22 L856.32 158.39 L857.51 159.33 L858.8 160.16 L860 161 L860.99 161.96 L861.9 162.92 L862.92 163.7 L864.19 164.1 L865.57 164.31 L866.84 164.71 L867.86 165.53 L868.77 166.53 L869.75 167.41 L870.88 168.12 L872.09 168.71 L873.33 169 L874.62 168.83 L875.95 168.37 L877.27 167.91 L878.58 167.52 L879.89 167.13 L881.21 166.81 L882.56 166.59 L883.91 166.44 L885.28 166.33 L886.66 166.32 L888.06 166.34 L889.42 166.24 L890.89 165.87 L892.33 165.37 L893.33 165" fill="none" stroke="#5f6273" stroke-width="0.9" stroke-linecap="round" stroke-linejoin="round"/>
<path d="M821.33 123.67 L820.46 123.12 L819.2 122.33 L817.95 121.55 L816.83 120.82 L815.72 120.09 L814.55 119.47 L813.28 119.02 L811.97 118.68 L810.67 118.33 L809.35 118 L808.05 117.66 L806.89 117.08 L806 116.04 L805.26 114.75 L804.41 113.65 L803.34 112.92 L802.16 112.36 L800.96 111.84 L799.78 111.36 L798.57 110.92 L797.33 110.33 L796.01 109.55 L794.66 108.62 L793.44 107.56 L792.33 106.2 L791.34 104.72 L790.67 103.67" fill="none" stroke="#5f6273" stroke-width="0.9" stroke-linecap="round" stroke-linejoin="round"/>
<path d="M817.33 115.67 L816.11 115.23 L814.37 114.59 L812.68 113.85 L811.27 112.98 L809.91 112 L808.51 111.09 L806.96 110.36 L805.38 109.7 L804 109 L802.99 108.15 L802.19 107.25 L801.31 106.48 L800.23 105.97 L799.07 105.6 L797.92 105.2 L796.7 104.65 L795.5 104.07 L794.67 103.67" fill="none" stroke="#5f6273" stroke-width="0.9" stroke-linecap="round" stroke-linejoin="round"/>
<path d="M822.67 127.67 L821.36 127.68 L819.49 127.66 L817.66 127.43 L816.09 126.8 L814.56 125.97 L812.99 125.33 L811.34 125.13 L809.66 125.14 L808 125 L806.41 124.51 L804.83 123.89 L803.23 123.44 L801.56 123.36 L799.86 123.45 L798.19 123.43 L796.56 123.12 L794.95 122.69 L793.33 122.33 L791.69 122.13 L790.03 122 L788.37 121.84 L786.73 121.64 L785.09 121.4 L783.46 121.09 L781.67 120.62 L779.9 120.06 L778.67 119.67" fill="none" stroke="#5f6273" stroke-width="0.9" stroke-linecap="round" stroke-linejoin="round"/>
<path d="M824 131.67 L822.88 131.8 L821.27 131.97 L819.67 132.06 L818.22 132 L816.78 131.86 L815.33 131.74 L813.89 131.67 L812.44 131.61 L811 131.58 L809.56 131.61 L808.12 131.66 L806.67 131.67 L805.17 131.65 L803.65 131.58 L802.17 131.37 L800.76 130.91 L799.38 130.29 L798 129.66 L796.63 129.01 L795.26 128.35 L793.85 127.87 L792.35 127.68 L790.81 127.68 L789.33 127.67 L787.96 127.58 L786.65 127.49 L785.34 127.42 L784 127.41 L782.67 127.42 L781.33 127.37 L780.01 127.16 L778.68 126.89 L777.35 126.75 L776.01 126.85 L774.67 127.07 L773.33 127.22 L771.85 127.19 L770.37 127.08 L769.33 127" fill="none" stroke="#5f6273" stroke-width="0.9" stroke-linecap="round" stroke-linejoin="round"/>
<path d="M813.33 134.33 L812.18 134.07 L810.53 133.71 L808.89 133.55 L807.41 133.79 L805.93 134.23 L804.44 134.53 L802.92 134.59 L801.39 134.52 L800 134.33 L798.84 133.96 L797.82 133.46 L796.78 133.1 L795.52 132.98 L794.24 132.98 L793.33 133" fill="none" stroke="#5f6273" stroke-width="0.9" stroke-linecap="round" stroke-linejoin="round"/>
<path d="M829.33 139.67 L828.14 139.69 L826.44 139.74 L824.77 139.98 L823.35 140.57 L821.97 141.35 L820.55 141.95 L819.05 142.22 L817.53 142.32 L816 142.33 L814.48 142.21 L812.97 142.01 L811.48 141.99 L810.01 142.31 L808.57 142.82 L807.11 143.23 L805.59 143.5 L804.06 143.67 L802.67 143.67 L801.5 143.42 L800.48 142.99 L799.48 142.5 L798.49 141.96 L797.52 141.35 L796.53 140.81 L795.36 140.34 L794.17 139.94 L793.33 139.67" fill="none" stroke="#5f6273" stroke-width="0.9" stroke-linecap="round" stroke-linejoin="round"/>
<path d="M834.67 147.67 L833.72 147.95 L832.37 148.34 L831.01 148.7 L829.76 148.94 L828.5 149.14 L827.25 149.38 L826.03 149.7 L824.82 150.07 L823.61 150.46 L822.42 150.87 L821.24 151.3 L820 151.67 L818.67 151.94 L817.29 152.17 L815.91 152.39 L814.54 152.6 L813.17 152.82 L811.81 153.1 L810.48 153.47 L809.17 153.91 L807.88 154.43 L806.64 155.13 L805.42 155.91 L804.16 156.52 L802.74 156.77 L801.28 156.85 L800 157 L799.04 157.37 L798.26 157.82 L797.46 158.15 L796.44 158.29 L795.4 158.32 L794.67 158.33" fill="none" stroke="#5f6273" stroke-width="0.9" stroke-linecap="round" stroke-linejoin="round"/>
<path d="M828 150.33 L827.11 151.18 L825.82 152.35 L824.41 153.29 L822.88 153.68 L821.22 153.83 L819.68 154.2 L818.39 155.09 L817.21 156.2 L816 157 L814.67 157.16 L813.3 157.01 L811.96 157.05 L810.66 157.57 L809.39 158.28 L808.1 158.75 L806.6 158.75 L805.07 158.52 L804 158.33" fill="none" stroke="#5f6273" stroke-width="0.9" stroke-linecap="round" stroke-linejoin="round"/>
<path d="M813.33 105 L813.53 103.75 L813.82 101.96 L814.22 100.21 L814.86 98.54 L815.6 96.91 L816 95.67 L815.74 95.09 L815.14 94.91 L814.69 94.66 L814.58 94.09 L814.62 93.45 L814.67 93" fill="none" stroke="#5f6273" stroke-width="0.9" stroke-linecap="round" stroke-linejoin="round"/>
<path d="M818.67 113 L819.4 112.07 L820.42 110.73 L821.3 109.32 L821.9 107.87 L822.35 106.35 L822.67 105 L822.76 103.94 L822.73 103.06 L822.8 102.2 L823.17 101.24 L823.65 100.31 L824 99.67" fill="none" stroke="#5f6273" stroke-width="0.9" stroke-linecap="round" stroke-linejoin="round"/>
<path d="M826.67 131.67 L827.19 130.57 L827.92 128.99 L828.55 127.39 L828.93 125.89 L829.21 124.35 L829.51 122.83 L829.92 121.29 L830.36 119.76 L830.67 118.33 L830.8 117.06 L830.8 115.88 L830.62 114.73 L830.09 113.59 L829.38 112.48 L828.9 111.33 L828.9 109.99 L829.14 108.63 L829.33 107.67" fill="none" stroke="#5f6273" stroke-width="0.9" stroke-linecap="round" stroke-linejoin="round"/>
<path d="M813.33 163.67 L813.23 164.62 L813.08 165.98 L812.9 167.34 L812.7 168.54 L812.46 169.74 L812.14 170.92 L811.72 172.05 L811.21 173.15 L810.67 174.33 L810.09 175.65 L809.48 177.04 L808.83 178.41 L808.05 179.88 L807.24 181.32 L806.67 182.33" fill="none" stroke="#5f6273" stroke-width="0.9" stroke-linecap="round" stroke-linejoin="round"/>
<path d="M821.33 161 L821.07 161.9 L820.72 163.2 L820.51 164.51 L820.64 165.73 L820.91 166.97 L821.01 168.18 L820.77 169.31 L820.37 170.41 L820 171.67 L819.81 173.2 L819.66 174.89 L819.36 176.53 L818.71 178.22 L817.91 179.86 L817.33 181" fill="none" stroke="#5f6273" stroke-width="0.9" stroke-linecap="round" stroke-linejoin="round"/>
<path d="M800 161 L799.43 161.58 L798.63 162.41 L797.98 163.32 L797.64 164.39 L797.45 165.53 L797.33 166.33" fill="none" stroke="#5f6273" stroke-width="0.9" stroke-linecap="round" stroke-linejoin="round"/>
<path d="M826.67 161 L827 162.04 L827.49 163.53 L827.97 165.01 L828.37 166.46 L828.76 167.9 L829.33 169 L830.21 169.47 L831.26 169.6 L832.25 169.83 L833.18 170.44 L834.06 171.15 L834.67 171.67" fill="none" stroke="#5f6273" stroke-width="0.9" stroke-linecap="round" stroke-linejoin="round"/>
<path d="M840 166.33 L840.9 167.23 L842.16 168.53 L843.28 169.92 L844.12 171.37 L844.81 172.91 L845.33 174.33 L845.61 175.53 L845.71 176.62 L845.85 177.7 L846.13 178.92 L846.44 180.15 L846.67 181" fill="none" stroke="#5f6273" stroke-width="0.9" stroke-linecap="round" stroke-linejoin="round"/>
<path d="M840 161 L839.31 160.65 L838.33 160.15 L837.34 159.65 L836.45 159.19 L835.56 158.74 L834.67 158.33 L833.79 158.01 L832.92 157.73 L832.04 157.5 L831.05 157.29 L830.04 157.12 L829.33 157" fill="none" stroke="#5f6273" stroke-width="0.9" stroke-linecap="round" stroke-linejoin="round"/>
<path d="M840 141 L839.43 140.04 L838.62 138.66 L837.9 137.25 L837.39 135.94 L836.97 134.6 L836.63 133.23 L836.37 131.81 L836.18 130.37 L836 129 L835.81 127.77 L835.62 126.61 L835.39 125.47 L835.04 124.3 L834.66 123.15 L834.41 121.98 L834.35 120.8 L834.44 119.6 L834.67 118.33 L835.18 116.96 L835.85 115.52 L836.26 114.03 L836.13 112.46 L835.75 110.85 L835.63 109.28 L836.09 107.66 L836.8 106.09 L837.33 105" fill="none" stroke="#5f6273" stroke-width="0.9" stroke-linecap="round" stroke-linejoin="round"/>
<path d="M836 129 L835.66 127.93 L835.14 126.42 L834.48 125 L833.61 123.9 L832.59 122.89 L831.63 121.84 L830.81 120.74 L830.05 119.59 L829.33 118.33 L828.63 116.92 L827.97 115.39 L827.44 113.83 L827.07 112.06 L826.83 110.26 L826.67 109" fill="none" stroke="#5f6273" stroke-width="0.9" stroke-linecap="round" stroke-linejoin="round"/>
<path d="M837.33 118.33 L838.12 117.68 L839.22 116.72 L840.14 115.64 L840.62 114.41 L840.92 113.06 L841.37 111.82 L842.15 110.79 L843.09 109.87 L844 109 L844.86 108.21 L845.7 107.48 L846.44 106.67 L847.09 105.6 L847.63 104.47 L848 103.67" fill="none" stroke="#5f6273" stroke-width="0.9" stroke-linecap="round" stroke-linejoin="round"/>
<path d="M840 126.33 L840.73 125.32 L841.76 123.87 L842.78 122.41 L843.64 121.02 L844.47 119.62 L845.33 118.33 L846.25 117.26 L847.19 116.3 L848.11 115.31 L848.95 114.24 L849.77 113.14 L850.61 112.06 L851.47 110.98 L852.36 109.92 L853.33 109 L854.44 108.33 L855.64 107.8 L856.8 107.22 L858.01 106.43 L859.18 105.59 L860 105" fill="none" stroke="#5f6273" stroke-width="0.9" stroke-linecap="round" stroke-linejoin="round"/>
<path d="M842.67 138.33 L842.94 137.25 L843.35 135.71 L843.95 134.27 L844.84 133.17 L845.9 132.17 L846.86 131.11 L847.57 129.91 L848.17 128.65 L848.77 127.39 L849.39 126.14 L850.02 124.89 L850.67 123.67 L851.34 122.47 L852.04 121.31 L852.79 120.19 L853.57 119.09 L854.4 118.03 L855.37 117.1 L856.63 116.44 L858.05 115.91 L859.26 115.19 L860.07 114.16 L860.68 112.94 L861.33 111.67 L862.13 110.34 L862.98 108.95 L863.86 107.57 L864.88 106.11 L865.93 104.67 L866.67 103.67" fill="none" stroke="#5f6273" stroke-width="0.9" stroke-linecap="round" stroke-linejoin="round"/>
<path d="M853.33 137 L854.34 136.52 L855.77 135.82 L857.04 134.94 L857.89 133.8 L858.6 132.47 L859.43 131.3 L860.55 130.47 L861.79 129.79 L862.95 129.02 L863.89 127.98 L864.75 126.85 L865.71 125.83 L866.88 125.06 L868.14 124.4 L869.33 123.67 L870.36 122.73 L871.33 121.72 L872.36 120.81 L873.5 120.08 L874.7 119.44 L875.94 118.87 L877.25 118.41 L878.6 118.02 L879.86 117.48 L880.94 116.63 L881.92 115.64 L882.97 114.75 L884.13 114.05 L885.35 113.46 L886.67 113 L888.11 112.72 L889.64 112.58 L891.17 112.41 L892.66 112.17 L894.15 111.91 L895.63 111.6 L897.26 111.16 L898.87 110.68 L900 110.33" fill="none" stroke="#5f6273" stroke-width="0.9" stroke-linecap="round" stroke-linejoin="round"/>
<path d="M856 139.67 L856.92 139.07 L858.23 138.22 L859.55 137.39 L860.8 136.72 L862.05 136.06 L863.22 135.28 L864.21 134.25 L865.13 133.1 L866.17 132.13 L867.48 131.56 L868.93 131.18 L870.26 130.64 L871.32 129.67 L872.26 128.54 L873.33 127.67 L874.66 127.29 L876.12 127.18 L877.55 127 L878.92 126.66 L880.27 126.25 L881.59 125.78 L882.88 125.2 L884.14 124.54 L885.41 123.89 L886.67 123.24 L887.94 122.6 L889.24 122.04 L890.55 121.59 L891.9 121.23 L893.33 121 L894.92 121.02 L896.61 121.18 L898.27 121.13 L899.87 120.62 L901.45 119.91 L903.05 119.42 L904.87 119.36 L906.71 119.53 L908 119.67" fill="none" stroke="#5f6273" stroke-width="0.9" stroke-linecap="round" stroke-linejoin="round"/>
<path d="M873.33 127.67 L874.21 127.08 L875.47 126.24 L876.69 125.36 L877.71 124.45 L878.7 123.5 L879.77 122.67 L881.01 122.08 L882.34 121.61 L883.58 121.02 L884.64 120.21 L885.62 119.29 L886.67 118.33 L887.89 117.4 L889.17 116.43 L890.38 115.38 L891.53 114.06 L892.6 112.66 L893.33 111.67" fill="none" stroke="#5f6273" stroke-width="0.9" stroke-linecap="round" stroke-linejoin="round"/>
<path d="M861.33 139.67 L862.51 139.2 L864.19 138.54 L865.91 138.01 L867.54 137.82 L869.2 137.75 L870.8 137.47 L872.26 136.7 L873.67 135.72 L875.13 134.95 L876.75 134.64 L878.43 134.53 L880 134.33 L881.37 133.89 L882.63 133.36 L883.9 132.9 L885.23 132.53 L886.58 132.23 L887.95 132.01 L889.36 131.96 L890.8 131.99 L892.18 131.82 L893.46 131.24 L894.67 130.45 L895.93 129.8 L897.26 129.44 L898.63 129.22 L900 129 L901.36 128.79 L902.71 128.59 L904.04 128.28 L905.31 127.71 L906.56 127.03 L907.84 126.52 L909.36 126.33 L910.91 126.32 L912 126.33" fill="none" stroke="#5f6273" stroke-width="0.9" stroke-linecap="round" stroke-linejoin="round"/>
<path d="M850.67 147.67 L851.7 147.62 L853.19 147.56 L854.67 147.51 L856 147.46 L857.33 147.43 L858.67 147.5 L860 147.79 L861.33 148.17 L862.67 148.38 L864 148.21 L865.33 147.86 L866.67 147.67 L868 147.87 L869.33 148.22 L870.67 148.38 L872 148.09 L873.33 147.59 L874.67 147.32 L876 147.52 L877.33 147.95 L878.67 148.29 L880 148.46 L881.33 148.53 L882.67 148.49 L884.02 148.24 L885.37 147.87 L886.67 147.67 L887.88 147.84 L889.05 148.17 L890.22 148.27 L891.41 147.85 L892.59 147.2 L893.78 146.81 L895.09 146.96 L896.41 147.36 L897.33 147.67" fill="none" stroke="#5f6273" stroke-width="0.9" stroke-linecap="round" stroke-linejoin="round"/>
<path d="M853.33 151.67 L854.37 151.92 L855.85 152.29 L857.34 152.66 L858.68 152.96 L860.02 153.27 L861.34 153.64 L862.63 154.13 L863.91 154.69 L865.22 155.14 L866.57 155.36 L867.94 155.48 L869.33 155.67 L870.73 156.07 L872.15 156.55 L873.58 156.88 L875.06 156.88 L876.56 156.73 L878.04 156.71 L879.48 156.99 L880.9 157.39 L882.32 157.75 L883.78 158.01 L885.24 158.23 L886.67 158.33 L888.04 158.28 L889.37 158.1 L890.7 157.88 L892.18 157.59 L893.64 157.24 L894.67 157" fill="none" stroke="#5f6273" stroke-width="0.9" stroke-linecap="round" stroke-linejoin="round"/>
<path d="M856 155.67 L856.92 156.37 L858.23 157.36 L859.57 158.31 L860.86 159.06 L862.18 159.77 L863.44 160.57 L864.52 161.57 L865.54 162.67 L866.67 163.67 L867.98 164.49 L869.41 165.22 L870.86 165.83 L872.33 166.33 L873.83 166.72 L875.34 167.04 L876.89 167.32 L878.45 167.53 L880 167.67 L881.51 167.72 L883 167.71 L884.49 167.66 L885.98 167.62 L887.47 167.54 L888.95 167.38 L890.58 167.05 L892.2 166.63 L893.33 166.33" fill="none" stroke="#5f6273" stroke-width="0.9" stroke-linecap="round" stroke-linejoin="round"/>
<path d="M850.67 158.33 L851.04 159.3 L851.59 160.67 L852.17 162.03 L852.76 163.21 L853.38 164.38 L854.02 165.55 L854.61 166.76 L855.22 167.97 L856 169 L857.05 169.76 L858.26 170.35 L859.49 170.91 L860.69 171.47 L861.91 171.99 L863.12 172.54 L864.3 173.14 L865.46 173.77 L866.67 174.33 L867.93 174.83 L869.24 175.26 L870.57 175.57 L872.07 175.69 L873.6 175.68 L874.67 175.67" fill="none" stroke="#5f6273" stroke-width="0.9" stroke-linecap="round" stroke-linejoin="round"/>
<path d="M873.33 158.33 L874.23 157.68 L875.5 156.74 L876.75 155.77 L877.84 154.79 L878.9 153.79 L880 153 L881.17 152.58 L882.37 152.38 L883.57 152.16 L884.74 151.81 L885.91 151.44 L887.08 151.11 L888.4 150.8 L889.73 150.52 L890.67 150.33" fill="none" stroke="#5f6273" stroke-width="0.9" stroke-linecap="round" stroke-linejoin="round"/>
<path d="M880 147.67 L880.7 146.77 L881.72 145.52 L882.85 144.4 L884.07 143.6 L885.4 142.93 L886.67 142.33 L887.79 141.78 L888.86 141.3 L889.94 140.85 L891.19 140.39 L892.45 139.96 L893.33 139.67" fill="none" stroke="#5f6273" stroke-width="0.9" stroke-linecap="round" stroke-linejoin="round"/>
<path d="M864 145 L865.16 144.48 L866.82 143.75 L868.52 143.14 L870.14 142.81 L871.8 142.61 L873.33 142.33 L874.63 141.89 L875.79 141.37 L876.97 140.92 L878.25 140.62 L879.54 140.38 L880.79 140 L881.93 139.32 L883.01 138.51 L884.15 137.84 L885.54 137.43 L886.99 137.17 L888 137" fill="none" stroke="#5f6273" stroke-width="0.9" stroke-linecap="round" stroke-linejoin="round"/>
<path d="M886.67 134.33 L887.32 133.26 L888.27 131.74 L889.37 130.37 L890.6 129.31 L891.99 128.39 L893.33 127.67 L894.59 127.23 L895.81 126.98 L897.01 126.66 L898.18 126.17 L899.32 125.6 L900.47 125.07 L901.77 124.53 L903.08 124.02 L904 123.67" fill="none" stroke="#5f6273" stroke-width="0.9" stroke-linecap="round" stroke-linejoin="round"/>
<path d="M893.33 121 L894.14 120.42 L895.28 119.59 L896.35 118.68 L897.26 117.61 L898.09 116.47 L898.67 115.67" fill="none" stroke="#5f6273" stroke-width="0.9" stroke-linecap="round" stroke-linejoin="round"/>
<path d="M886.67 158.33 L887.35 158.86 L888.33 159.61 L889.31 160.36 L890.31 161.09 L891.3 161.82 L892 162.33" fill="none" stroke="#5f6273" stroke-width="0.9" stroke-linecap="round" stroke-linejoin="round"/>
<path d="M793.33 122.33 L792.5 121.43 L791.32 120.15 L790.11 118.89 L788.85 117.68 L787.57 116.5 L786.67 115.67" fill="none" stroke="#5f6273" stroke-width="0.9" stroke-linecap="round" stroke-linejoin="round"/>
<path d="M789.33 127.67 L788.45 128.38 L787.21 129.41 L786.1 130.54 L785.23 131.88 L784.5 133.32 L784 134.33" fill="none" stroke="#5f6273" stroke-width="0.9" stroke-linecap="round" stroke-linejoin="round"/>
<path d="M780 151.67 L779.63 150.81 L779.09 149.59 L778.58 148.37 L778.11 147.13 L777.65 145.88 L777.33 145" fill="none" stroke="#5f6273" stroke-width="0.9" stroke-linecap="round" stroke-linejoin="round"/>
<path d="M866.67 121 L866.71 119.93 L866.76 118.4 L866.66 116.89 L866.26 115.43 L865.73 114 L865.33 113" fill="none" stroke="#5f6273" stroke-width="0.9" stroke-linecap="round" stroke-linejoin="round"/>
<path d="M841.82 143.37 L841.1 142.9 L840.15 142.32 L839.06 141.67 L837.87 140.93 L836.63 140.12 L835.4 139.24 L834.22 138.29 L833.15 137.29 L832.11 136.14 L831.01 134.79 L829.88 133.3 L828.77 131.74 L827.68 130.16 L826.64 128.61 L825.69 127.15 L824.83 125.84 L824.07 124.65 L823.38 123.47 L822.75 122.34 L822.17 121.26 L821.67 120.28 L821.23 119.4 L820.85 118.66 L820.54 118.08 L819.46 118.59 L819.71 119.19 L820.02 119.95 L820.39 120.86 L820.83 121.9 L821.32 123.04 L821.87 124.26 L822.49 125.53 L823.17 126.82 L823.92 128.21 L824.76 129.75 L825.68 131.39 L826.65 133.09 L827.67 134.79 L828.71 136.44 L829.77 137.98 L830.85 139.37 L832 140.64 L833.25 141.83 L834.53 142.92 L835.8 143.9 L836.98 144.78 L838.04 145.53 L838.89 146.15 L839.51 146.63Z" fill="#b6bad2" stroke="#5f6273" stroke-width="0.7" stroke-linejoin="round"/>
<path d="M839.05 146.14 L838.25 146.7 L837.19 147.44 L835.93 148.32 L834.53 149.3 L833.05 150.33 L831.55 151.38 L830.08 152.41 L828.72 153.36 L827.36 154.31 L825.9 155.33 L824.4 156.38 L822.92 157.42 L821.52 158.4 L820.26 159.28 L819.2 160.02 L818.4 160.58 L818.93 161.42 L819.78 160.95 L820.91 160.33 L822.25 159.58 L823.75 158.75 L825.33 157.87 L826.93 156.98 L828.49 156.11 L829.94 155.31 L831.39 154.5 L832.95 153.64 L834.56 152.75 L836.14 151.87 L837.63 151.04 L838.98 150.29 L840.1 149.66 L840.95 149.19Z" fill="#b6bad2" stroke="#5f6273" stroke-width="0.7" stroke-linejoin="round"/>
<path d="M841.08 148.83 L841.04 149.57 L841 150.56 L840.96 151.73 L840.9 153.02 L840.84 154.38 L840.77 155.74 L840.69 157.02 L840.6 158.18 L840.49 159.29 L840.35 160.45 L840.19 161.63 L840.03 162.77 L839.87 163.84 L839.72 164.8 L839.6 165.61 L839.51 166.23 L840.49 166.44 L840.65 165.84 L840.88 165.05 L841.14 164.12 L841.44 163.06 L841.74 161.94 L842.05 160.78 L842.34 159.61 L842.6 158.49 L842.84 157.31 L843.09 156.01 L843.33 154.66 L843.56 153.31 L843.78 152.02 L843.97 150.86 L844.13 149.89 L844.26 149.17Z" fill="#b6bad2" stroke="#5f6273" stroke-width="0.7" stroke-linejoin="round"/>
<path d="M845.13 144.8 L845.72 144.14 L846.52 143.25 L847.47 142.19 L848.52 141.02 L849.63 139.8 L850.72 138.58 L851.77 137.42 L852.71 136.37 L853.6 135.38 L854.52 134.36 L855.44 133.33 L856.34 132.34 L857.17 131.41 L857.92 130.58 L858.54 129.89 L859.02 129.35 L858.31 128.65 L857.78 129.12 L857.08 129.75 L856.26 130.5 L855.33 131.33 L854.34 132.22 L853.31 133.14 L852.29 134.07 L851.29 134.96 L850.25 135.9 L849.09 136.94 L847.87 138.04 L846.64 139.14 L845.47 140.19 L844.42 141.14 L843.53 141.94 L842.87 142.54Z" fill="#b6bad2" stroke="#5f6273" stroke-width="0.7" stroke-linejoin="round"/>
<path d="M845.7 146.46 L847 146 L848.3 145.55 L849.61 145.09 L850.91 144.64 L852.21 144.18 L853.52 143.73 L854.82 143.27 L856.12 142.82 L855.88 141.85 L854.52 142.06 L853.15 142.27 L851.79 142.48 L850.42 142.7 L849.06 142.91 L847.7 143.12 L846.33 143.33 L844.97 143.54Z" fill="#b6bad2" stroke="#5f6273" stroke-width="0.7" stroke-linejoin="round"/>
<path d="M844.39 149.37 L845.46 150.2 L846.54 151.03 L847.62 151.87 L848.69 152.7 L849.77 153.53 L850.84 154.37 L851.92 155.2 L853 156.04 L853.67 155.3 L852.75 154.3 L851.82 153.3 L850.9 152.3 L849.98 151.3 L849.05 150.3 L848.13 149.3 L847.2 148.3 L846.28 147.3Z" fill="#b6bad2" stroke="#5f6273" stroke-width="0.7" stroke-linejoin="round"/>
<circle cx="841.6" cy="145.67" r="4.3" fill="#b6bad2" stroke="#5f6273" stroke-width="0.7"/>
<circle cx="841.6" cy="145.67" r="2.4" fill="#c2d0c8" stroke="#4b4f60" stroke-width="0.7"/>
<defs><linearGradient id="shaftg" x1="0" x2="1" y1="0" y2="0"><stop offset="0" stop-color="#dcd8ca" stop-opacity="0"/><stop offset="0.08" stop-color="#dcd8ca"/><stop offset="0.92" stop-color="#dcd8ca"/><stop offset="1" stop-color="#dcd8ca" stop-opacity="0"/></linearGradient><linearGradient id="shafte" x1="0" x2="1" y1="0" y2="0"><stop offset="0" stop-color="#55544f" stop-opacity="0"/><stop offset="0.1" stop-color="#55544f"/><stop offset="0.9" stop-color="#55544f"/><stop offset="1" stop-color="#55544f" stop-opacity="0"/></linearGradient></defs>
<rect x="984.6" y="135.45" width="150.81" height="11.7" fill="url(#shaftg)"/>
<rect x="984.6" y="135" width="150.81" height="0.9" fill="url(#shafte)"/>
<rect x="984.6" y="146.7" width="150.81" height="0.9" fill="url(#shafte)"/>
<path d="M1009.95 135.95 L1009.95 125.3 Q1009.95 123.1 1012.15 123.1 L1021.4 123.1 Q1023.6 123.1 1023.6 125.3 L1023.6 135.95Z" fill="#dcd8ca"/>
<path d="M1009.95 135.95 L1009.95 125.3 Q1009.95 123.1 1012.15 123.1 L1021.4 123.1 Q1023.6 123.1 1023.6 125.3 L1023.6 135.95" fill="none" stroke="#55544f" stroke-width="0.9"/>
<path d="M1061.3 135.95 L1061.3 125.3 Q1061.3 123.1 1063.5 123.1 L1072.75 123.1 Q1074.95 123.1 1074.95 125.3 L1074.95 135.95Z" fill="#dcd8ca"/>
<path d="M1061.3 135.95 L1061.3 125.3 Q1061.3 123.1 1063.5 123.1 L1072.75 123.1 Q1074.95 123.1 1074.95 125.3 L1074.95 135.95" fill="none" stroke="#55544f" stroke-width="0.9"/>
<path d="M1104.85 135.95 L1104.85 125.3 Q1104.85 123.1 1107.05 123.1 L1116.96 123.1 Q1119.16 123.1 1119.16 125.3 L1119.16 135.95Z" fill="#dcd8ca"/>
<path d="M1104.85 135.95 L1104.85 125.3 Q1104.85 123.1 1107.05 123.1 L1116.96 123.1 Q1119.16 123.1 1119.16 125.3 L1119.16 135.95" fill="none" stroke="#55544f" stroke-width="0.9"/>
<path d="M999.55 146.65 L999.55 157.95 Q999.55 160.15 1001.75 160.15 L1011.65 160.15 Q1013.85 160.15 1013.85 157.95 L1013.85 146.65Z" fill="#dcd8ca"/>
<path d="M999.55 146.65 L999.55 157.95 Q999.55 160.15 1001.75 160.15 L1011.65 160.15 Q1013.85 160.15 1013.85 157.95 L1013.85 146.65" fill="none" stroke="#55544f" stroke-width="0.9"/>
<path d="M1043.1 146.65 L1043.1 157.95 Q1043.1 160.15 1045.3 160.15 L1055.2 160.15 Q1057.4 160.15 1057.4 157.95 L1057.4 146.65Z" fill="#dcd8ca"/>
<path d="M1043.1 146.65 L1043.1 157.95 Q1043.1 160.15 1045.3 160.15 L1055.2 160.15 Q1057.4 160.15 1057.4 157.95 L1057.4 146.65" fill="none" stroke="#55544f" stroke-width="0.9"/>
<path d="M1095.1 146.65 L1095.1 157.95 Q1095.1 160.15 1097.3 160.15 L1106.56 160.15 Q1108.76 160.15 1108.76 157.95 L1108.76 146.65Z" fill="#dcd8ca"/>
<path d="M1095.1 146.65 L1095.1 157.95 Q1095.1 160.15 1097.3 160.15 L1106.56 160.15 Q1108.76 160.15 1108.76 157.95 L1108.76 146.65" fill="none" stroke="#55544f" stroke-width="0.9"/>
<path d="M1004.65 121.02 C1002.25 119.52 1008.45 112.44 1014.5 112.44 C1020.55 112.44 1026.75 119.52 1024.35 121.02 C1019.55 120.02 1009.45 120.02 1004.65 121.02 Z" fill="#e0ddd0" stroke="#55544f" stroke-width="0.9"/>
<path d="M1057.3 121.02 C1054.9 119.52 1061.1 112.44 1067.48 112.44 C1073.85 112.44 1080.05 119.52 1077.65 121.02 C1072.85 120.02 1062.1 120.02 1057.3 121.02 Z" fill="#e0ddd0" stroke="#55544f" stroke-width="0.9"/>
<path d="M1100.85 121.02 C1098.45 119.52 1104.65 112.44 1110.71 112.44 C1116.76 112.44 1122.96 119.52 1120.56 121.02 C1115.76 120.02 1105.65 120.02 1100.85 121.02 Z" fill="#e0ddd0" stroke="#55544f" stroke-width="0.9"/>
<path d="M997.5 161.84 C995.1 163.34 1001.3 170.42 1007.68 170.42 C1014.05 170.42 1020.25 163.34 1017.85 161.84 C1013.05 162.84 1002.3 162.84 997.5 161.84 Z" fill="#e0ddd0" stroke="#55544f" stroke-width="0.9"/>
<path d="M1041.05 161.84 C1038.65 163.34 1044.85 170.42 1051.23 170.42 C1057.6 170.42 1063.8 163.34 1061.4 161.84 C1056.6 162.84 1045.85 162.84 1041.05 161.84 Z" fill="#e0ddd0" stroke="#55544f" stroke-width="0.9"/>
<path d="M1093.05 161.84 C1090.65 163.34 1096.85 170.42 1103.23 170.42 C1109.61 170.42 1115.81 163.34 1113.41 161.84 C1108.61 162.84 1097.85 162.84 1093.05 161.84 Z" fill="#e0ddd0" stroke="#55544f" stroke-width="0.9"/>
<path d="M1015.05 112.93 L1015.03 112.56 L1015.03 112.04 L1015.05 111.35 L1015.04 110.55 L1014.98 109.67 L1014.82 108.75 L1014.52 107.83 L1014.02 106.94 L1013.3 106.16 L1012.44 105.51 L1011.5 104.93 L1010.52 104.37 L1009.56 103.81 L1008.66 103.23 L1007.88 102.6 L1007.26 101.92 L1006.75 101.07 L1006.28 100.02 L1005.85 98.85 L1005.48 97.63 L1005.16 96.44 L1004.88 95.36 L1004.64 94.44 L1004.44 93.76 L1003.76 93.94 L1003.91 94.61 L1004.08 95.53 L1004.27 96.64 L1004.51 97.87 L1004.8 99.15 L1005.16 100.42 L1005.59 101.62 L1006.14 102.68 L1006.85 103.61 L1007.72 104.42 L1008.66 105.14 L1009.62 105.8 L1010.54 106.42 L1011.35 107 L1011.98 107.56 L1012.38 108.06 L1012.62 108.59 L1012.76 109.2 L1012.83 109.87 L1012.82 110.56 L1012.78 111.25 L1012.71 111.91 L1012.66 112.51 L1012.65 112.99Z" fill="#6a6862"/>
<path d="M1068.32 113.24 L1068.45 112.56 L1068.67 111.67 L1068.95 110.56 L1069.24 109.31 L1069.5 107.93 L1069.69 106.49 L1069.77 105.01 L1069.68 103.53 L1069.39 101.97 L1068.92 100.25 L1068.33 98.46 L1067.67 96.66 L1067.01 94.94 L1066.4 93.39 L1065.89 92.1 L1065.54 91.14 L1064.87 91.36 L1065.15 92.35 L1065.57 93.69 L1066.06 95.27 L1066.58 97.02 L1067.09 98.83 L1067.53 100.62 L1067.85 102.27 L1068.01 103.68 L1067.99 104.95 L1067.82 106.25 L1067.55 107.55 L1067.21 108.8 L1066.84 109.97 L1066.49 111.03 L1066.19 111.96 L1065.99 112.68Z" fill="#6a6862"/>
<path d="M1111.11 112.24 L1111.46 111.53 L1111.99 110.59 L1112.63 109.44 L1113.33 108.14 L1114.02 106.75 L1114.65 105.31 L1115.15 103.86 L1115.45 102.45 L1115.55 101.05 L1115.51 99.59 L1115.35 98.12 L1115.11 96.65 L1114.81 95.25 L1114.48 93.93 L1114.13 92.75 L1113.79 91.73 L1113.41 90.86 L1112.93 90.11 L1112.41 89.5 L1111.88 89 L1111.37 88.59 L1110.92 88.25 L1110.56 87.98 L1110.3 87.75 L1109.81 88.25 L1110.08 88.53 L1110.45 88.84 L1110.87 89.2 L1111.32 89.6 L1111.76 90.08 L1112.17 90.64 L1112.53 91.29 L1112.82 92.07 L1113.07 93.04 L1113.33 94.2 L1113.57 95.49 L1113.77 96.86 L1113.91 98.27 L1113.96 99.65 L1113.92 100.97 L1113.76 102.15 L1113.42 103.31 L1112.9 104.56 L1112.24 105.85 L1111.5 107.12 L1110.74 108.32 L1110.03 109.42 L1109.43 110.36 L1109 111.09Z" fill="#6a6862"/>
<path d="M1006.82 169.96 L1006.74 170.61 L1006.59 171.49 L1006.39 172.57 L1006.2 173.79 L1006.04 175.1 L1005.95 176.46 L1005.98 177.83 L1006.16 179.14 L1006.55 180.47 L1007.11 181.86 L1007.8 183.28 L1008.54 184.68 L1009.28 186 L1009.97 187.18 L1010.54 188.17 L1010.94 188.91 L1011.57 188.6 L1011.23 187.82 L1010.74 186.78 L1010.16 185.54 L1009.54 184.18 L1008.94 182.76 L1008.41 181.35 L1008 180.02 L1007.76 178.86 L1007.71 177.76 L1007.79 176.58 L1007.97 175.36 L1008.23 174.16 L1008.51 173.02 L1008.79 171.97 L1009.03 171.07 L1009.18 170.37Z" fill="#6a6862"/>
<path d="M1051.66 170.02 L1051.61 170.67 L1051.51 171.55 L1051.39 172.63 L1051.26 173.84 L1051.17 175.15 L1051.14 176.5 L1051.21 177.84 L1051.4 179.14 L1051.77 180.45 L1052.3 181.84 L1052.93 183.26 L1053.6 184.66 L1054.28 185.98 L1054.9 187.17 L1055.42 188.16 L1055.78 188.89 L1056.42 188.61 L1056.12 187.84 L1055.69 186.8 L1055.17 185.56 L1054.62 184.2 L1054.08 182.78 L1053.6 181.37 L1053.22 180.04 L1053 178.86 L1052.93 177.75 L1052.98 176.55 L1053.11 175.32 L1053.31 174.11 L1053.53 172.96 L1053.75 171.91 L1053.93 171 L1054.04 170.31Z" fill="#6a6862"/>
<path d="M1101.79 170.62 L1102.1 171.28 L1102.49 172.18 L1102.97 173.27 L1103.5 174.48 L1104.1 175.76 L1104.74 177.04 L1105.42 178.28 L1106.14 179.42 L1106.95 180.51 L1107.88 181.63 L1108.88 182.74 L1109.89 183.82 L1110.87 184.82 L1111.76 185.72 L1112.5 186.46 L1113.04 187.03 L1113.57 186.57 L1113.07 185.95 L1112.39 185.14 L1111.59 184.17 L1110.71 183.1 L1109.8 181.96 L1108.92 180.79 L1108.13 179.65 L1107.47 178.59 L1106.91 177.49 L1106.37 176.28 L1105.86 175 L1105.39 173.71 L1104.97 172.49 L1104.6 171.37 L1104.27 170.42 L1104.01 169.71Z" fill="#6a6862"/>
<path d="M808.52 272.31 L808.36 271.53 L808.2 270.42 L808 269.07 L807.76 267.57 L807.44 266.02 L807.02 264.51 L806.46 263.11 L805.69 261.92 L804.64 261.02 L803.4 260.42 L802.07 260.03 L800.74 259.72 L799.47 259.45 L798.34 259.13 L797.45 258.74 L796.84 258.24 L796.36 257.49 L795.92 256.51 L795.57 255.39 L795.33 254.2 L795.21 253.02 L795.22 251.92 L795.35 251 L795.58 250.34 L795.93 249.92 L796.48 249.59 L797.25 249.34 L798.2 249.13 L799.27 248.95 L800.41 248.74 L801.58 248.45 L802.72 248.03 L803.89 247.46 L805.18 246.79 L806.54 246.05 L807.9 245.28 L809.2 244.54 L810.37 243.86 L811.36 243.3 L812.09 242.89 L811.66 242.11 L810.92 242.51 L809.92 243.05 L808.73 243.7 L807.42 244.41 L806.04 245.13 L804.68 245.83 L803.4 246.46 L802.28 246.97 L801.25 247.33 L800.17 247.57 L799.07 247.74 L797.98 247.9 L796.93 248.09 L795.95 248.4 L795.08 248.9 L794.42 249.66 L794.02 250.66 L793.83 251.81 L793.79 253.07 L793.89 254.4 L794.13 255.73 L794.49 257.02 L794.99 258.21 L795.66 259.26 L796.6 260.09 L797.77 260.65 L799.05 261.05 L800.35 261.37 L801.62 261.69 L802.75 262.06 L803.67 262.51 L804.31 263.08 L804.8 263.92 L805.23 265.08 L805.57 266.45 L805.84 267.9 L806.04 269.35 L806.2 270.69 L806.34 271.84 L806.48 272.69Z" fill="#b49a6d"/>
<path d="M806.75 263.76 L807.21 263.38 L807.8 262.86 L808.47 262.25 L809.22 261.6 L810.04 260.95 L810.91 260.33 L811.81 259.8 L812.73 259.39 L813.75 259.07 L814.92 258.79 L816.17 258.55 L817.49 258.36 L818.81 258.22 L820.12 258.11 L821.36 258.05 L822.49 258.01 L823.57 258.04 L824.66 258.14 L825.75 258.29 L826.79 258.48 L827.75 258.67 L828.62 258.86 L829.35 259.02 L829.92 259.13 L830.08 258.37 L829.52 258.25 L828.8 258.07 L827.94 257.85 L826.96 257.62 L825.9 257.39 L824.79 257.2 L823.65 257.05 L822.51 256.99 L821.33 256.99 L820.06 257.01 L818.72 257.08 L817.36 257.18 L816 257.33 L814.67 257.53 L813.42 257.79 L812.27 258.11 L811.19 258.55 L810.15 259.12 L809.18 259.76 L808.28 260.43 L807.47 261.08 L806.77 261.67 L806.2 262.15 L805.75 262.49Z" fill="#b49a6d"/>
<path d="M809.33 265.72 L810.18 265 L811.29 264.04 L812.6 262.9 L814.06 261.64 L815.62 260.33 L817.23 259.05 L818.82 257.85 L820.34 256.81 L821.94 255.85 L823.72 254.89 L825.59 253.94 L827.47 253.04 L829.27 252.2 L830.9 251.46 L832.26 250.84 L833.28 250.35 L832.97 249.65 L831.94 250.09 L830.55 250.67 L828.89 251.35 L827.06 252.12 L825.13 252.96 L823.2 253.84 L821.34 254.76 L819.66 255.69 L818.03 256.72 L816.36 257.88 L814.68 259.13 L813.05 260.39 L811.52 261.6 L810.17 262.7 L809.03 263.61 L808.17 264.28Z" fill="#b49a6d"/>
<path d="M811.91 273.3 L812.66 272.65 L813.63 271.75 L814.77 270.7 L816.04 269.55 L817.39 268.4 L818.79 267.31 L820.18 266.37 L821.52 265.66 L822.96 265.13 L824.61 264.71 L826.38 264.37 L828.18 264.12 L829.91 263.93 L831.48 263.77 L832.8 263.64 L833.79 263.51 L833.71 262.74 L832.73 262.82 L831.41 262.89 L829.83 262.96 L828.07 263.07 L826.23 263.23 L824.37 263.48 L822.6 263.84 L820.98 264.34 L819.44 265.06 L817.89 266 L816.36 267.06 L814.9 268.18 L813.54 269.28 L812.34 270.29 L811.35 271.11 L810.59 271.7Z" fill="#b49a6d"/>
<path d="M813.99 272.76 L814.57 272.58 L815.32 272.33 L816.2 272.04 L817.17 271.72 L818.21 271.4 L819.27 271.1 L820.32 270.85 L821.33 270.66 L822.38 270.54 L823.57 270.46 L824.82 270.42 L826.08 270.39 L827.29 270.39 L828.38 270.39 L829.31 270.39 L829.99 270.38 L830.01 269.62 L829.33 269.58 L828.41 269.52 L827.32 269.45 L826.11 269.37 L824.83 269.31 L823.54 269.27 L822.31 269.28 L821.17 269.34 L820.08 269.46 L818.95 269.66 L817.82 269.9 L816.73 270.16 L815.72 270.42 L814.82 270.66 L814.07 270.85 L813.51 270.99Z" fill="#b49a6d"/>
<path d="M805.65 272.94 L804.75 272.25 L803.54 271.3 L802.09 270.16 L800.49 268.9 L798.81 267.62 L797.15 266.38 L795.57 265.27 L794.14 264.36 L792.82 263.67 L791.51 263.16 L790.26 262.78 L789.09 262.46 L788 262.16 L787.02 261.82 L786.15 261.4 L785.39 260.84 L784.71 260.07 L784.08 259.09 L783.51 257.97 L783.01 256.79 L782.58 255.63 L782.2 254.56 L781.88 253.65 L781.61 252.99 L780.89 253.26 L781.13 253.92 L781.41 254.82 L781.75 255.91 L782.14 257.12 L782.61 258.36 L783.17 259.58 L783.83 260.7 L784.61 261.66 L785.52 262.39 L786.53 262.93 L787.61 263.35 L788.72 263.71 L789.87 264.06 L791.03 264.47 L792.19 264.98 L793.36 265.64 L794.66 266.56 L796.16 267.7 L797.75 268.98 L799.35 270.31 L800.9 271.62 L802.3 272.82 L803.48 273.83 L804.35 274.56Z" fill="#b49a6d"/>
<path d="M794.23 263.88 L793.75 263.44 L793.09 262.87 L792.31 262.19 L791.46 261.45 L790.6 260.66 L789.78 259.88 L789.07 259.14 L788.51 258.48 L788.1 257.84 L787.74 257.17 L787.45 256.47 L787.21 255.79 L787.01 255.14 L786.84 254.55 L786.7 254.04 L786.57 253.65 L785.93 253.85 L786.04 254.22 L786.16 254.72 L786.29 255.33 L786.46 256.01 L786.68 256.75 L786.95 257.51 L787.3 258.28 L787.74 259.02 L788.31 259.79 L789.02 260.61 L789.81 261.46 L790.65 262.3 L791.47 263.11 L792.21 263.83 L792.83 264.43 L793.27 264.87Z" fill="#b49a6d"/>
<path d="M790.22 264.35 L789.33 264.06 L788.13 263.67 L786.7 263.19 L785.12 262.68 L783.46 262.15 L781.82 261.63 L780.26 261.17 L778.88 260.78 L777.59 260.46 L776.28 260.18 L774.99 259.92 L773.75 259.69 L772.6 259.49 L771.58 259.32 L770.72 259.17 L770.06 259.05 L769.94 259.7 L770.59 259.84 L771.45 260.02 L772.46 260.23 L773.6 260.47 L774.82 260.73 L776.08 261.03 L777.36 261.36 L778.62 261.72 L779.96 262.14 L781.48 262.65 L783.1 263.22 L784.73 263.81 L786.29 264.38 L787.71 264.9 L788.9 265.33 L789.78 265.65Z" fill="#b49a6d"/>
<path d="M805.17 276.48 L804.2 276.34 L802.89 276.14 L801.34 275.9 L799.6 275.64 L797.78 275.38 L795.95 275.14 L794.18 274.95 L792.56 274.82 L791.03 274.79 L789.56 274.87 L788.13 275 L786.74 275.15 L785.38 275.27 L784.05 275.32 L782.73 275.25 L781.4 275.03 L779.97 274.61 L778.4 273.98 L776.77 273.22 L775.16 272.39 L773.62 271.55 L772.24 270.77 L771.07 270.12 L770.18 269.66 L769.82 270.34 L770.67 270.82 L771.81 271.51 L773.17 272.34 L774.69 273.24 L776.3 274.14 L777.95 274.98 L779.56 275.7 L781.1 276.22 L782.57 276.51 L784.02 276.64 L785.44 276.64 L786.85 276.57 L788.25 276.47 L789.64 276.38 L791.03 276.36 L792.44 276.43 L793.99 276.62 L795.71 276.87 L797.51 277.17 L799.3 277.49 L801.01 277.8 L802.56 278.1 L803.86 278.35 L804.83 278.52Z" fill="#b49a6d"/>
<path d="M780.85 275.14 L779.93 275.95 L779.02 276.76 L778.11 277.57 L777.19 278.38 L776.28 279.19 L775.37 280 L774.45 280.81 L773.54 281.62 L773.96 282.13 L774.92 281.38 L775.88 280.62 L776.85 279.87 L777.81 279.12 L778.77 278.37 L779.73 277.62 L780.69 276.86 L781.65 276.11Z" fill="#b49a6d"/>
<path d="M806.26 279.08 L805.38 279.09 L804.18 279.06 L802.72 279.02 L801.11 279 L799.43 279.02 L797.77 279.1 L796.2 279.27 L794.83 279.56 L793.63 279.96 L792.52 280.45 L791.48 281.02 L790.51 281.65 L789.59 282.34 L788.73 283.06 L787.91 283.82 L787.11 284.62 L786.31 285.52 L785.55 286.56 L784.82 287.68 L784.14 288.81 L783.52 289.9 L782.98 290.88 L782.53 291.7 L782.17 292.3 L782.83 292.7 L783.21 292.11 L783.7 291.3 L784.28 290.34 L784.92 289.28 L785.63 288.2 L786.37 287.15 L787.13 286.2 L787.89 285.38 L788.68 284.66 L789.49 283.96 L790.34 283.3 L791.21 282.69 L792.13 282.15 L793.09 281.66 L794.1 281.26 L795.17 280.94 L796.4 280.73 L797.86 280.63 L799.45 280.61 L801.08 280.65 L802.66 280.73 L804.1 280.82 L805.33 280.89 L806.24 280.92Z" fill="#b49a6d"/>
<path d="M789.37 282.43 L789.3 283.25 L789.2 284.4 L789.09 285.76 L788.97 287.25 L788.83 288.75 L788.68 290.19 L788.52 291.44 L788.35 292.4 L788.16 293.11 L787.94 293.67 L787.7 294.11 L787.46 294.46 L787.21 294.74 L786.98 294.98 L786.77 295.21 L786.61 295.42 L787.14 295.83 L787.28 295.65 L787.47 295.47 L787.72 295.22 L788.01 294.91 L788.32 294.51 L788.62 294 L788.9 293.37 L789.15 292.6 L789.37 291.58 L789.59 290.31 L789.81 288.87 L790.02 287.36 L790.21 285.88 L790.38 284.52 L790.52 283.38 L790.63 282.57Z" fill="#b49a6d"/>
<path d="M805.67 283.2 L805.19 283.72 L804.57 284.45 L803.83 285.31 L803.02 286.25 L802.16 287.21 L801.29 288.12 L800.46 288.92 L799.69 289.56 L798.93 290.07 L798.09 290.51 L797.22 290.91 L796.35 291.25 L795.52 291.54 L794.77 291.79 L794.13 292 L793.64 292.19 L793.86 292.81 L794.34 292.66 L794.98 292.49 L795.75 292.28 L796.62 292.04 L797.54 291.74 L798.49 291.38 L799.42 290.95 L800.31 290.44 L801.19 289.79 L802.12 288.99 L803.08 288.11 L804.01 287.19 L804.89 286.29 L805.69 285.47 L806.34 284.79 L806.83 284.3Z" fill="#b49a6d"/>
<path d="M801.8 287.1 L801.43 287.78 L800.94 288.69 L800.35 289.78 L799.7 290.98 L799.02 292.25 L798.32 293.54 L797.64 294.8 L797.01 295.97 L796.38 297.14 L795.7 298.39 L795 299.68 L794.31 300.96 L793.66 302.16 L793.07 303.24 L792.58 304.15 L792.21 304.84 L792.79 305.16 L793.19 304.5 L793.72 303.61 L794.36 302.56 L795.06 301.39 L795.81 300.15 L796.57 298.89 L797.31 297.67 L797.99 296.53 L798.68 295.39 L799.42 294.17 L800.17 292.92 L800.92 291.68 L801.63 290.5 L802.26 289.45 L802.8 288.57 L803.2 287.9Z" fill="#b49a6d"/>
<path d="M804.63 283.47 L804.38 284.44 L804.01 285.74 L803.56 287.3 L803.08 289.04 L802.6 290.88 L802.18 292.73 L801.86 294.52 L801.67 296.17 L801.59 297.74 L801.55 299.37 L801.56 301.01 L801.65 302.63 L801.84 304.17 L802.14 305.6 L802.6 306.86 L803.25 307.92 L804.19 308.73 L805.38 309.3 L806.71 309.67 L808.1 309.87 L809.49 309.92 L810.77 309.82 L811.89 309.58 L812.8 309.16 L813.41 308.41 L813.71 307.41 L813.82 306.27 L813.8 305.07 L813.72 303.87 L813.61 302.77 L813.53 301.87 L813.51 301.25 L812.74 301.25 L812.74 301.91 L812.8 302.84 L812.87 303.93 L812.91 305.09 L812.89 306.22 L812.77 307.22 L812.53 307.95 L812.2 308.34 L811.59 308.58 L810.64 308.76 L809.48 308.81 L808.22 308.72 L806.97 308.5 L805.82 308.15 L804.89 307.66 L804.25 307.08 L803.81 306.3 L803.47 305.24 L803.24 303.96 L803.11 302.53 L803.08 300.99 L803.11 299.4 L803.2 297.83 L803.33 296.33 L803.55 294.8 L803.91 293.11 L804.37 291.33 L804.89 289.55 L805.42 287.86 L805.92 286.31 L806.33 285.01 L806.62 284.03Z" fill="#b49a6d"/>
<path d="M811.72 285.68 L812.24 286.25 L812.95 286.99 L813.78 287.86 L814.68 288.83 L815.62 289.86 L816.52 290.91 L817.35 291.95 L818.06 292.95 L818.72 293.96 L819.41 294.98 L820.08 296.01 L820.68 297.05 L821.2 298.09 L821.59 299.12 L821.82 300.16 L821.88 301.2 L821.69 302.35 L821.23 303.67 L820.58 305.1 L819.81 306.55 L819 307.93 L818.24 309.19 L817.6 310.26 L817.17 311.06 L817.83 311.44 L818.29 310.68 L818.97 309.65 L819.79 308.42 L820.66 307.05 L821.52 305.59 L822.27 304.12 L822.83 302.67 L823.12 301.3 L823.11 300.01 L822.88 298.77 L822.49 297.56 L821.97 296.39 L821.37 295.26 L820.73 294.16 L820.08 293.09 L819.44 292.05 L818.74 290.95 L817.91 289.81 L817.01 288.68 L816.1 287.58 L815.22 286.56 L814.42 285.65 L813.76 284.89 L813.28 284.32Z" fill="#b49a6d"/>
<path d="M811.34 282.39 L811.98 282.54 L812.83 282.75 L813.84 282.99 L814.96 283.26 L816.14 283.55 L817.33 283.84 L818.49 284.14 L819.57 284.42 L820.65 284.72 L821.82 285.05 L823.02 285.4 L824.2 285.75 L825.32 286.08 L826.34 286.38 L827.19 286.64 L827.83 286.83 L828.42 285.17 L827.81 284.91 L826.99 284.57 L826.02 284.15 L824.94 283.69 L823.79 283.21 L822.63 282.72 L821.49 282.26 L820.43 281.83 L819.36 281.42 L818.22 280.99 L817.05 280.56 L815.9 280.13 L814.82 279.74 L813.84 279.38 L813.02 279.09 L812.41 278.86Z" fill="#b49a6d"/>
<path d="M862.62 299.54 L863 299.7 L863.44 299.99 L864.07 300.41 L864.89 300.88 L865.89 301.31 L867.1 301.62 L868.51 301.73 L870.13 301.6 L872.12 301.17 L874.53 300.49 L877.23 299.62 L880.04 298.67 L882.79 297.7 L885.3 296.8 L887.4 296.04 L888.92 295.52 L888.58 294.48 L887.04 294.93 L884.9 295.59 L882.35 296.38 L879.57 297.22 L876.74 298.05 L874.05 298.78 L871.69 299.34 L869.87 299.65 L868.54 299.7 L867.47 299.56 L866.61 299.29 L865.9 298.95 L865.28 298.55 L864.72 298.14 L864.15 297.74 L863.63 297.46Z" fill="#b49a6d"/>
<path d="M869.85 301.65 L871.41 301.86 L873.51 302.13 L876.01 302.45 L878.77 302.81 L881.67 303.21 L884.57 303.62 L887.35 304.05 L889.85 304.48 L892.27 304.96 L894.8 305.52 L897.36 306.11 L899.85 306.72 L902.18 307.3 L904.27 307.83 L906.04 308.28 L907.38 308.6 L907.62 307.65 L906.3 307.28 L904.55 306.79 L902.48 306.2 L900.15 305.55 L897.67 304.87 L895.12 304.2 L892.58 303.57 L890.15 303.02 L887.62 302.5 L884.84 301.99 L881.94 301.49 L879.04 301.02 L876.28 300.58 L873.79 300.18 L871.71 299.86 L870.15 299.6Z" fill="#b49a6d"/>
<path d="M890.29 304.44 L890.77 304.22 L891.39 303.93 L892.11 303.58 L892.92 303.2 L893.79 302.81 L894.67 302.43 L895.56 302.09 L896.4 301.81 L897.3 301.57 L898.31 301.34 L899.38 301.13 L900.46 300.93 L901.49 300.76 L902.43 300.61 L903.22 300.48 L903.81 300.38 L903.69 299.62 L903.11 299.69 L902.32 299.78 L901.37 299.88 L900.32 300 L899.22 300.14 L898.12 300.3 L897.06 300.49 L896.1 300.69 L895.18 300.95 L894.23 301.26 L893.29 301.6 L892.39 301.96 L891.55 302.3 L890.8 302.62 L890.18 302.88 L889.71 303.06Z" fill="#b49a6d"/>
<path d="M869.12 301.17 L869.59 301.9 L870.19 302.92 L870.92 304.15 L871.75 305.5 L872.65 306.91 L873.61 308.29 L874.61 309.56 L875.61 310.62 L876.49 311.48 L877.28 312.26 L878.08 313 L878.98 313.69 L880.04 314.32 L881.33 314.87 L882.91 315.34 L884.87 315.75 L887.44 316.07 L890.65 316.29 L894.25 316.44 L898.03 316.53 L901.73 316.58 L905.12 316.62 L907.95 316.65 L909.98 316.69 L910.02 315.81 L907.97 315.71 L905.14 315.61 L901.76 315.49 L898.07 315.35 L894.31 315.16 L890.74 314.92 L887.6 314.62 L885.13 314.25 L883.31 313.83 L881.89 313.36 L880.79 312.86 L879.93 312.32 L879.19 311.72 L878.49 311.03 L877.73 310.24 L876.89 309.38 L876 308.39 L875.12 307.2 L874.24 305.87 L873.41 304.5 L872.63 303.15 L871.94 301.91 L871.34 300.85 L870.88 300.08Z" fill="#b49a6d"/>
<path d="M884.62 315.71 L885.51 316.17 L886.7 316.75 L888.11 317.44 L889.67 318.21 L891.3 319.05 L892.93 319.93 L894.49 320.84 L895.9 321.74 L897.28 322.73 L898.72 323.88 L900.19 325.11 L901.63 326.37 L902.98 327.58 L904.19 328.68 L905.21 329.6 L905.99 330.29 L906.51 329.71 L905.76 329.01 L904.77 328.06 L903.59 326.92 L902.28 325.66 L900.87 324.35 L899.42 323.05 L897.98 321.84 L896.6 320.76 L895.16 319.78 L893.59 318.8 L891.96 317.85 L890.33 316.95 L888.79 316.12 L887.4 315.38 L886.24 314.76 L885.38 314.29Z" fill="#b49a6d"/>
<path d="M879.09 314.89 L879.01 315.68 L878.92 316.74 L878.82 318.01 L878.7 319.4 L878.56 320.85 L878.42 322.3 L878.26 323.67 L878.1 324.89 L877.92 326.04 L877.7 327.23 L877.46 328.41 L877.22 329.56 L876.98 330.63 L876.76 331.59 L876.58 332.4 L876.45 333.02 L877.3 333.23 L877.47 332.62 L877.69 331.83 L877.96 330.88 L878.25 329.81 L878.56 328.67 L878.86 327.48 L879.15 326.28 L879.4 325.11 L879.63 323.87 L879.86 322.49 L880.08 321.04 L880.29 319.58 L880.48 318.19 L880.66 316.94 L880.8 315.89 L880.91 315.11Z" fill="#b49a6d"/>
<path d="M878.54 325.72 L879.47 325.97 L880.74 326.27 L882.25 326.63 L883.89 327.03 L885.56 327.5 L887.15 328.01 L888.57 328.58 L889.69 329.2 L890.59 329.93 L891.41 330.84 L892.15 331.87 L892.81 332.95 L893.38 334.02 L893.88 335 L894.31 335.83 L894.67 336.44 L895.33 336.06 L895.01 335.46 L894.62 334.63 L894.15 333.63 L893.6 332.52 L892.95 331.36 L892.2 330.23 L891.32 329.19 L890.31 328.3 L889.06 327.57 L887.57 326.91 L885.93 326.31 L884.24 325.78 L882.59 325.31 L881.09 324.9 L879.85 324.56 L878.96 324.28Z" fill="#b49a6d"/>
<path d="M896.25 321.88 L896.74 321.87 L897.4 321.85 L898.19 321.83 L899.06 321.81 L899.97 321.78 L900.88 321.76 L901.74 321.73 L902.5 321.71 L903.22 321.7 L903.96 321.68 L904.69 321.66 L905.39 321.64 L906.05 321.62 L906.63 321.6 L907.12 321.59 L907.5 321.58 L907.5 320.92 L907.12 320.91 L906.63 320.9 L906.05 320.88 L905.39 320.86 L904.69 320.84 L903.96 320.82 L903.22 320.8 L902.5 320.79 L901.74 320.77 L900.88 320.74 L899.97 320.72 L899.06 320.69 L898.19 320.67 L897.4 320.65 L896.74 320.63 L896.25 320.62Z" fill="#b49a6d"/>
<path d="M814.16 282.38 L813.95 282.62 L813.69 282.82 L813.39 283 L813.09 283.15 L812.79 283.29 L812.47 283.4 L812.15 283.49 L811.82 283.55 L811.48 283.56 L811.15 283.53 L810.81 283.5 L810.47 283.53 L810.14 283.67 L809.83 283.87 L809.5 284.06 L809.17 284.16 L808.82 284.17 L808.45 284.11 L808.09 284 L807.75 283.87 L807.44 283.69 L807.14 283.46 L806.85 283.22 L806.57 282.99 L806.27 282.79 L805.98 282.6 L805.69 282.4 L805.45 282.17 L805.24 281.9 L805.06 281.6 L804.91 281.3 L804.77 280.99 L804.66 280.7 L804.58 280.4 L804.49 280.1 L804.37 279.81 L804.19 279.53 L803.97 279.26 L803.76 279 L803.58 278.71 L803.43 278.4 L803.3 278.07 L803.22 277.74 L803.22 277.42 L803.36 277.15 L803.61 276.9 L803.86 276.64 L804.01 276.34 L803.97 275.98 L803.82 275.57 L803.69 275.17 L803.7 274.85 L803.92 274.64 L804.27 274.5 L804.66 274.38 L805 274.24 L805.26 274.05 L805.48 273.84 L805.7 273.64 L805.94 273.48 L806.23 273.39 L806.54 273.36 L806.85 273.3 L807.14 273.16 L807.39 272.86 L807.61 272.47 L807.83 272.09 L808.1 271.85 L808.44 271.81 L808.81 271.91 L809.2 272.04 L809.58 272.15 L809.95 272.18 L810.32 272.2 L810.68 272.23 L811.02 272.31 L811.35 272.47 L811.68 272.67 L811.97 272.91 L812.24 273.17 L812.44 273.47 L812.6 273.82 L812.75 274.16 L812.95 274.45 L813.2 274.67 L813.5 274.84 L813.8 275 L814.07 275.2 L814.32 275.44 L814.56 275.7 L814.77 275.98 L814.91 276.27 L814.94 276.58 L814.88 276.9 L814.83 277.24 L814.88 277.57 L815.11 277.9 L815.47 278.23 L815.8 278.56 L815.96 278.87 L815.87 279.17 L815.63 279.47 L815.33 279.75 L815.08 280.02 L814.89 280.27 L814.7 280.51 L814.53 280.75 L814.4 281.02 L814.32 281.35 L814.3 281.72 L814.26 282.07Z" fill="#b49a6d"/>
<circle cx="809" cy="278.5" r="2.6" fill="#a8bcd2" stroke="#4a5060" stroke-width="0.6"/>
<rect x="827.6" y="285.43" width="7.31" height="2.9" rx="1.4" transform="rotate(18.43 831.25 286.88)" fill="#d8dce0" stroke="#8d9296" stroke-width="0.55"/>
<rect x="835.05" y="288.11" width="8.02" height="2.9" rx="1.4" transform="rotate(19.49 839.06 289.56)" fill="#d8dce0" stroke="#8d9296" stroke-width="0.55"/>
<rect x="843.16" y="291.05" width="8.06" height="2.9" rx="1.4" transform="rotate(20.27 847.19 292.5)" fill="#d8dce0" stroke="#8d9296" stroke-width="0.55"/>
<rect x="851.33" y="293.86" width="7.35" height="2.9" rx="1.4" transform="rotate(19.29 855 295.31)" fill="#d8dce0" stroke="#8d9296" stroke-width="0.55"/>
<rect x="858.89" y="296.11" width="4.97" height="2.9" rx="1.4" transform="rotate(19.65 861.38 297.56)" fill="#d8dce0" stroke="#8d9296" stroke-width="0.55"/>
<path d="M1012.78 265.16 L1012.71 264.85 L1012.61 264.44 L1012.49 263.96 L1012.36 263.43 L1012.22 262.87 L1012.09 262.3 L1011.98 261.75 L1011.88 261.26 L1011.82 260.79 L1011.8 260.28 L1011.79 259.72 L1011.78 259.15 L1011.75 258.57 L1011.68 257.99 L1011.51 257.43 L1011.2 256.9 L1010.74 256.5 L1010.22 256.26 L1009.69 256.13 L1009.17 256.07 L1008.66 256.02 L1008.19 255.98 L1007.76 255.91 L1007.38 255.8 L1006.95 255.65 L1006.47 255.49 L1006.01 255.33 L1005.57 255.17 L1005.19 254.99 L1004.88 254.8 L1004.66 254.62 L1004.54 254.43 L1004.47 254.19 L1004.46 253.85 L1004.5 253.42 L1004.6 252.93 L1004.73 252.4 L1004.88 251.85 L1005.02 251.29 L1005.13 250.74 L1005.19 250.18 L1005.22 249.62 L1005.23 249.06 L1005.26 248.52 L1005.3 248.03 L1005.39 247.6 L1005.51 247.25 L1005.68 246.98 L1005.93 246.78 L1006.27 246.6 L1006.69 246.45 L1007.18 246.33 L1007.72 246.23 L1008.27 246.15 L1008.82 246.07 L1009.35 245.98 L1009.85 245.89 L1010.34 245.83 L1010.85 245.79 L1011.36 245.76 L1011.88 245.72 L1012.41 245.67 L1012.94 245.61 L1013.46 245.52 L1014.01 245.39 L1014.58 245.23 L1015.15 245.05 L1015.72 244.87 L1016.25 244.69 L1016.73 244.52 L1017.12 244.38 L1017.42 244.29 L1017.24 243.71 L1016.94 243.81 L1016.53 243.93 L1016.05 244.08 L1015.52 244.25 L1014.96 244.42 L1014.39 244.57 L1013.84 244.71 L1013.33 244.82 L1012.84 244.89 L1012.34 244.93 L1011.84 244.96 L1011.32 244.99 L1010.8 245.01 L1010.27 245.04 L1009.74 245.09 L1009.22 245.16 L1008.7 245.23 L1008.15 245.3 L1007.59 245.37 L1007.01 245.46 L1006.45 245.58 L1005.92 245.75 L1005.42 246 L1004.99 246.35 L1004.66 246.81 L1004.46 247.33 L1004.33 247.87 L1004.26 248.44 L1004.22 249.01 L1004.19 249.56 L1004.15 250.09 L1004.08 250.57 L1003.98 251.05 L1003.83 251.57 L1003.67 252.11 L1003.52 252.67 L1003.39 253.23 L1003.31 253.79 L1003.32 254.35 L1003.46 254.9 L1003.76 255.38 L1004.16 255.75 L1004.61 256.05 L1005.09 256.28 L1005.58 256.49 L1006.06 256.67 L1006.52 256.83 L1006.97 257 L1007.47 257.16 L1008 257.26 L1008.52 257.33 L1009.01 257.38 L1009.44 257.45 L1009.78 257.54 L1010 257.65 L1010.13 257.76 L1010.23 257.95 L1010.3 258.26 L1010.35 258.68 L1010.36 259.17 L1010.35 259.72 L1010.34 260.3 L1010.35 260.89 L1010.41 261.47 L1010.5 262.03 L1010.61 262.61 L1010.72 263.2 L1010.85 263.77 L1010.96 264.31 L1011.07 264.8 L1011.16 265.21 L1011.22 265.51Z" fill="#b49a6d"/>
<path d="M1013.08 264.56 L1013.38 264.33 L1013.79 264.03 L1014.28 263.66 L1014.82 263.25 L1015.4 262.81 L1015.97 262.35 L1016.53 261.89 L1017.04 261.43 L1017.5 260.96 L1017.94 260.46 L1018.36 259.95 L1018.76 259.45 L1019.15 258.96 L1019.54 258.51 L1019.93 258.1 L1020.32 257.75 L1020.73 257.45 L1021.16 257.19 L1021.6 256.96 L1022.06 256.75 L1022.54 256.55 L1023.02 256.33 L1023.51 256.1 L1023.98 255.84 L1024.44 255.56 L1024.89 255.28 L1025.34 254.99 L1025.78 254.7 L1026.22 254.4 L1026.65 254.1 L1027.08 253.8 L1027.51 253.49 L1027.96 253.16 L1028.44 252.8 L1028.92 252.42 L1029.4 252.05 L1029.85 251.69 L1030.25 251.37 L1030.59 251.11 L1030.85 250.91 L1030.49 250.43 L1030.22 250.62 L1029.87 250.88 L1029.46 251.18 L1029 251.52 L1028.51 251.87 L1028.02 252.23 L1027.53 252.57 L1027.08 252.88 L1026.65 253.16 L1026.21 253.45 L1025.77 253.73 L1025.33 254.01 L1024.89 254.28 L1024.44 254.55 L1024 254.81 L1023.55 255.06 L1023.1 255.28 L1022.65 255.48 L1022.17 255.67 L1021.68 255.86 L1021.19 256.07 L1020.68 256.3 L1020.18 256.58 L1019.68 256.92 L1019.2 257.32 L1018.74 257.76 L1018.31 258.24 L1017.89 258.73 L1017.47 259.21 L1017.05 259.68 L1016.64 260.13 L1016.21 260.53 L1015.73 260.93 L1015.19 261.35 L1014.62 261.78 L1014.04 262.19 L1013.49 262.57 L1012.99 262.92 L1012.57 263.21 L1012.25 263.44Z" fill="#b49a6d"/>
<path d="M1014.31 265.96 L1014.54 265.84 L1014.85 265.68 L1015.22 265.49 L1015.63 265.27 L1016.07 265.04 L1016.51 264.8 L1016.94 264.56 L1017.34 264.32 L1017.72 264.08 L1018.08 263.83 L1018.43 263.58 L1018.78 263.33 L1019.13 263.08 L1019.47 262.83 L1019.81 262.58 L1020.16 262.33 L1020.51 262.06 L1020.86 261.77 L1021.18 261.48 L1021.5 261.21 L1021.81 260.97 L1022.12 260.76 L1022.44 260.59 L1022.78 260.46 L1023.16 260.39 L1023.58 260.36 L1024.05 260.37 L1024.55 260.4 L1025.07 260.45 L1025.6 260.5 L1026.13 260.54 L1026.66 260.55 L1027.2 260.53 L1027.77 260.5 L1028.36 260.47 L1028.93 260.43 L1029.48 260.39 L1029.96 260.35 L1030.37 260.32 L1030.68 260.3 L1030.65 259.7 L1030.34 259.71 L1029.93 259.72 L1029.44 259.74 L1028.9 259.75 L1028.33 259.77 L1027.75 259.78 L1027.19 259.78 L1026.67 259.77 L1026.18 259.74 L1025.68 259.69 L1025.16 259.62 L1024.64 259.54 L1024.11 259.48 L1023.58 259.45 L1023.06 259.46 L1022.55 259.54 L1022.07 259.69 L1021.63 259.89 L1021.23 260.14 L1020.86 260.41 L1020.51 260.68 L1020.18 260.95 L1019.86 261.2 L1019.52 261.43 L1019.17 261.66 L1018.81 261.89 L1018.46 262.13 L1018.11 262.37 L1017.76 262.6 L1017.41 262.82 L1017.06 263.04 L1016.71 263.24 L1016.33 263.44 L1015.91 263.66 L1015.48 263.87 L1015.04 264.08 L1014.62 264.27 L1014.25 264.45 L1013.93 264.59 L1013.69 264.71Z" fill="#b49a6d"/>
<path d="M1014.84 266.57 L1015.15 266.48 L1015.56 266.34 L1016.05 266.19 L1016.6 266.01 L1017.17 265.82 L1017.76 265.63 L1018.33 265.44 L1018.86 265.25 L1019.38 265.05 L1019.92 264.83 L1020.45 264.6 L1020.97 264.38 L1021.47 264.17 L1021.94 263.98 L1022.37 263.83 L1022.75 263.73 L1023.07 263.67 L1023.35 263.64 L1023.59 263.64 L1023.8 263.66 L1024.01 263.71 L1024.23 263.76 L1024.45 263.83 L1024.69 263.9 L1024.92 263.99 L1025.18 264.11 L1025.44 264.25 L1025.7 264.41 L1025.94 264.56 L1026.17 264.71 L1026.36 264.83 L1026.51 264.92 L1026.83 264.41 L1026.69 264.32 L1026.51 264.2 L1026.29 264.04 L1026.05 263.87 L1025.78 263.69 L1025.5 263.52 L1025.21 263.37 L1024.93 263.25 L1024.68 263.16 L1024.44 263.07 L1024.2 262.99 L1023.93 262.93 L1023.64 262.89 L1023.33 262.87 L1022.98 262.89 L1022.59 262.94 L1022.15 263.04 L1021.67 263.18 L1021.16 263.35 L1020.64 263.55 L1020.1 263.75 L1019.57 263.95 L1019.04 264.14 L1018.54 264.3 L1018.02 264.46 L1017.45 264.62 L1016.86 264.78 L1016.28 264.94 L1015.73 265.09 L1015.23 265.23 L1014.81 265.34 L1014.5 265.43Z" fill="#b49a6d"/>
<path d="M1009.04 265.41 L1008.78 265.25 L1008.44 265.05 L1008.04 264.81 L1007.6 264.54 L1007.13 264.25 L1006.66 263.96 L1006.2 263.68 L1005.78 263.41 L1005.39 263.15 L1005 262.89 L1004.61 262.62 L1004.22 262.34 L1003.82 262.06 L1003.43 261.79 L1003.03 261.51 L1002.62 261.24 L1002.21 260.98 L1001.79 260.72 L1001.38 260.47 L1000.97 260.22 L1000.56 259.98 L1000.15 259.73 L999.75 259.48 L999.36 259.22 L998.95 258.95 L998.55 258.69 L998.14 258.44 L997.75 258.18 L997.37 257.91 L997.01 257.63 L996.67 257.34 L996.35 257.02 L996.05 256.66 L995.77 256.27 L995.49 255.86 L995.22 255.42 L994.96 254.96 L994.7 254.5 L994.45 254.03 L994.19 253.56 L993.91 253.08 L993.62 252.57 L993.31 252.05 L993.03 251.54 L992.77 251.05 L992.56 250.61 L992.41 250.23 L992.35 249.97 L992.35 249.84 L992.38 249.79 L992.45 249.74 L992.6 249.67 L992.81 249.61 L993.05 249.54 L993.31 249.45 L993.55 249.32 L993.74 249.17 L993.93 249.02 L994.12 248.86 L994.3 248.7 L994.47 248.56 L994.63 248.43 L994.76 248.31 L994.86 248.23 L994.48 247.77 L994.38 247.85 L994.24 247.96 L994.08 248.08 L993.91 248.22 L993.72 248.37 L993.53 248.52 L993.35 248.66 L993.19 248.78 L993.05 248.85 L992.86 248.91 L992.63 248.97 L992.38 249.04 L992.11 249.15 L991.86 249.34 L991.68 249.65 L991.65 250.03 L991.73 250.44 L991.89 250.89 L992.1 251.37 L992.36 251.89 L992.64 252.43 L992.92 252.96 L993.21 253.48 L993.46 253.96 L993.7 254.42 L993.95 254.9 L994.19 255.38 L994.45 255.86 L994.72 256.33 L995.01 256.79 L995.31 257.23 L995.65 257.65 L996 258.03 L996.38 258.38 L996.77 258.7 L997.17 259 L997.58 259.28 L997.98 259.56 L998.37 259.82 L998.76 260.1 L999.16 260.38 L999.56 260.65 L999.97 260.91 L1000.38 261.17 L1000.78 261.43 L1001.18 261.69 L1001.57 261.95 L1001.96 262.22 L1002.35 262.49 L1002.73 262.77 L1003.11 263.05 L1003.49 263.34 L1003.88 263.63 L1004.27 263.91 L1004.66 264.2 L1005.06 264.48 L1005.49 264.77 L1005.95 265.08 L1006.42 265.38 L1006.88 265.68 L1007.32 265.97 L1007.72 266.22 L1008.05 266.43 L1008.3 266.59Z" fill="#b49a6d"/>
<path d="M1000.5 258.62 L1000.47 258.42 L1000.44 258.14 L1000.4 257.79 L1000.35 257.41 L1000.3 257.01 L1000.23 256.6 L1000.15 256.19 L1000.06 255.82 L999.93 255.45 L999.78 255.07 L999.62 254.7 L999.44 254.33 L999.27 253.99 L999.12 253.68 L998.99 253.43 L998.9 253.24 L998.44 253.43 L998.51 253.64 L998.62 253.9 L998.75 254.22 L998.88 254.57 L999.02 254.94 L999.14 255.31 L999.25 255.67 L999.33 256 L999.38 256.33 L999.42 256.71 L999.45 257.1 L999.47 257.49 L999.48 257.86 L999.49 258.2 L999.49 258.49 L999.5 258.71Z" fill="#b49a6d"/>
<path d="M1009.48 265.98 L1009.15 265.92 L1008.71 265.84 L1008.2 265.75 L1007.64 265.65 L1007.06 265.54 L1006.47 265.41 L1005.92 265.27 L1005.43 265.12 L1004.98 264.94 L1004.53 264.72 L1004.08 264.48 L1003.62 264.21 L1003.14 263.94 L1002.66 263.68 L1002.15 263.43 L1001.63 263.21 L1001.1 263.03 L1000.58 262.87 L1000.05 262.74 L999.52 262.62 L999 262.5 L998.48 262.4 L997.96 262.29 L997.44 262.18 L996.91 262.07 L996.38 261.98 L995.84 261.9 L995.32 261.82 L994.8 261.74 L994.3 261.64 L993.81 261.52 L993.33 261.37 L992.87 261.19 L992.42 260.97 L991.96 260.72 L991.5 260.46 L991.03 260.18 L990.55 259.91 L990.05 259.66 L989.54 259.45 L989 259.26 L988.41 259.09 L987.81 258.93 L987.21 258.78 L986.65 258.66 L986.14 258.54 L985.72 258.45 L985.41 258.38 L985.26 258.96 L985.58 259.04 L986 259.15 L986.5 259.28 L987.05 259.42 L987.63 259.58 L988.21 259.75 L988.77 259.94 L989.27 260.13 L989.73 260.34 L990.18 260.59 L990.63 260.86 L991.08 261.14 L991.55 261.43 L992.02 261.71 L992.52 261.97 L993.03 262.19 L993.56 262.37 L994.09 262.51 L994.63 262.64 L995.16 262.74 L995.69 262.84 L996.21 262.93 L996.72 263.04 L997.22 263.15 L997.74 263.28 L998.25 263.4 L998.77 263.53 L999.28 263.65 L999.78 263.79 L1000.27 263.93 L1000.75 264.09 L1001.21 264.26 L1001.66 264.47 L1002.1 264.7 L1002.55 264.97 L1003.01 265.25 L1003.47 265.53 L1003.96 265.81 L1004.46 266.07 L1004.99 266.3 L1005.55 266.5 L1006.15 266.67 L1006.77 266.83 L1007.37 266.97 L1007.95 267.09 L1008.46 267.19 L1008.88 267.28 L1009.19 267.35Z" fill="#b49a6d"/>
<path d="M997.13 262.21 L996.78 262.37 L996.32 262.59 L995.77 262.85 L995.17 263.13 L994.52 263.43 L993.87 263.72 L993.23 264 L992.63 264.24 L992.03 264.46 L991.37 264.69 L990.69 264.91 L990.01 265.12 L989.37 265.32 L988.79 265.5 L988.3 265.64 L987.93 265.76 L988.07 266.24 L988.44 266.15 L988.93 266.02 L989.52 265.88 L990.18 265.71 L990.87 265.53 L991.57 265.34 L992.25 265.14 L992.89 264.95 L993.51 264.73 L994.18 264.48 L994.86 264.22 L995.52 263.95 L996.15 263.69 L996.71 263.46 L997.18 263.27 L997.53 263.13Z" fill="#b49a6d"/>
<path d="M1009.17 268.65 L1008.81 268.75 L1008.34 268.88 L1007.78 269.04 L1007.17 269.22 L1006.52 269.39 L1005.86 269.56 L1005.23 269.7 L1004.65 269.81 L1004.09 269.88 L1003.5 269.9 L1002.88 269.9 L1002.25 269.9 L1001.62 269.91 L1000.99 269.95 L1000.39 270.04 L999.83 270.22 L999.32 270.49 L998.9 270.82 L998.53 271.19 L998.2 271.58 L997.91 271.97 L997.63 272.36 L997.35 272.73 L997.06 273.07 L996.72 273.42 L996.35 273.81 L995.97 274.2 L995.6 274.6 L995.24 274.97 L994.92 275.3 L994.66 275.58 L994.45 275.79 L994.88 276.21 L995.09 276.01 L995.37 275.75 L995.7 275.43 L996.07 275.07 L996.47 274.7 L996.86 274.32 L997.25 273.95 L997.62 273.6 L997.96 273.25 L998.28 272.87 L998.58 272.49 L998.87 272.13 L999.17 271.8 L999.48 271.51 L999.81 271.28 L1000.17 271.11 L1000.59 271 L1001.08 270.95 L1001.63 270.94 L1002.23 270.96 L1002.86 271 L1003.5 271.02 L1004.16 271.03 L1004.8 270.98 L1005.45 270.89 L1006.12 270.77 L1006.81 270.63 L1007.48 270.48 L1008.11 270.33 L1008.68 270.2 L1009.15 270.09 L1009.5 270.01Z" fill="#b49a6d"/>
<path d="M1009.49 270.19 L1009.29 270.41 L1009.04 270.71 L1008.75 271.05 L1008.43 271.42 L1008.08 271.8 L1007.73 272.16 L1007.38 272.49 L1007.05 272.75 L1006.72 272.95 L1006.35 273.13 L1005.93 273.3 L1005.49 273.46 L1005.03 273.63 L1004.56 273.82 L1004.1 274.04 L1003.66 274.3 L1003.27 274.59 L1002.9 274.88 L1002.55 275.18 L1002.22 275.51 L1001.89 275.86 L1001.57 276.22 L1001.26 276.62 L1000.94 277.05 L1000.63 277.53 L1000.33 278.05 L1000.05 278.59 L999.77 279.15 L999.5 279.71 L999.22 280.27 L998.93 280.8 L998.63 281.31 L998.28 281.82 L997.89 282.37 L997.48 282.93 L997.06 283.48 L996.66 283.99 L996.3 284.46 L995.99 284.85 L995.77 285.15 L996.23 285.52 L996.47 285.23 L996.79 284.86 L997.17 284.41 L997.59 283.9 L998.04 283.37 L998.48 282.81 L998.9 282.27 L999.28 281.74 L999.62 281.21 L999.95 280.67 L1000.26 280.11 L1000.56 279.55 L1000.85 279.01 L1001.14 278.5 L1001.43 278.04 L1001.73 277.62 L1002.03 277.24 L1002.34 276.88 L1002.64 276.56 L1002.94 276.26 L1003.26 275.98 L1003.58 275.72 L1003.91 275.47 L1004.26 275.24 L1004.62 275.04 L1005 274.88 L1005.43 274.73 L1005.88 274.58 L1006.34 274.43 L1006.82 274.26 L1007.29 274.05 L1007.75 273.79 L1008.19 273.47 L1008.62 273.11 L1009.02 272.72 L1009.41 272.33 L1009.76 271.95 L1010.07 271.61 L1010.32 271.34 L1010.51 271.14Z" fill="#b49a6d"/>
<path d="M1010.67 270.89 L1010.49 271.17 L1010.25 271.54 L1009.96 271.99 L1009.64 272.49 L1009.3 273.01 L1008.95 273.55 L1008.62 274.07 L1008.32 274.56 L1008.04 275.01 L1007.75 275.46 L1007.45 275.91 L1007.15 276.37 L1006.86 276.84 L1006.57 277.34 L1006.31 277.86 L1006.06 278.41 L1005.85 278.99 L1005.67 279.59 L1005.51 280.19 L1005.37 280.8 L1005.24 281.41 L1005.11 282.02 L1004.97 282.61 L1004.83 283.18 L1004.65 283.77 L1004.42 284.41 L1004.16 285.08 L1003.91 285.75 L1003.68 286.41 L1003.52 287.03 L1003.45 287.61 L1003.54 288.17 L1003.88 288.63 L1004.34 288.88 L1004.84 288.98 L1005.37 289.01 L1005.9 288.98 L1006.42 288.94 L1006.91 288.9 L1007.34 288.88 L1007.77 288.87 L1008.24 288.85 L1008.72 288.83 L1009.2 288.78 L1009.67 288.72 L1010.11 288.63 L1010.52 288.5 L1010.88 288.31 L1011.16 288.04 L1011.35 287.71 L1011.44 287.37 L1011.48 287.04 L1011.5 286.73 L1011.53 286.44 L1011.57 286.19 L1011.64 285.97 L1011.76 285.75 L1011.92 285.49 L1012.1 285.23 L1012.29 284.98 L1012.48 284.73 L1012.65 284.51 L1012.8 284.33 L1012.9 284.18 L1012.43 283.82 L1012.32 283.95 L1012.17 284.13 L1011.99 284.34 L1011.79 284.59 L1011.58 284.85 L1011.38 285.12 L1011.19 285.4 L1011.03 285.69 L1010.91 286.01 L1010.84 286.34 L1010.8 286.66 L1010.77 286.96 L1010.73 287.22 L1010.67 287.43 L1010.58 287.58 L1010.46 287.69 L1010.24 287.79 L1009.93 287.88 L1009.55 287.94 L1009.13 287.98 L1008.68 288.01 L1008.22 288.02 L1007.76 288.01 L1007.32 288.01 L1006.86 288.02 L1006.36 288.04 L1005.86 288.07 L1005.38 288.07 L1004.97 288.04 L1004.66 287.97 L1004.51 287.89 L1004.46 287.83 L1004.45 287.63 L1004.51 287.24 L1004.67 286.72 L1004.89 286.12 L1005.16 285.48 L1005.44 284.81 L1005.71 284.15 L1005.93 283.51 L1006.1 282.9 L1006.26 282.29 L1006.41 281.69 L1006.57 281.09 L1006.72 280.51 L1006.89 279.95 L1007.07 279.42 L1007.27 278.92 L1007.5 278.45 L1007.75 278 L1008.02 277.56 L1008.31 277.12 L1008.61 276.69 L1008.92 276.25 L1009.23 275.81 L1009.54 275.35 L1009.86 274.88 L1010.2 274.37 L1010.56 273.85 L1010.91 273.34 L1011.25 272.86 L1011.55 272.42 L1011.81 272.05 L1012 271.78Z" fill="#b49a6d"/>
<path d="M1012.68 271.59 L1012.82 271.93 L1013 272.38 L1013.22 272.92 L1013.47 273.53 L1013.73 274.16 L1014.01 274.81 L1014.29 275.44 L1014.56 276.03 L1014.87 276.6 L1015.21 277.16 L1015.56 277.7 L1015.9 278.23 L1016.22 278.74 L1016.49 279.22 L1016.7 279.68 L1016.83 280.1 L1016.88 280.5 L1016.88 280.9 L1016.82 281.3 L1016.73 281.71 L1016.6 282.13 L1016.46 282.57 L1016.31 283.01 L1016.17 283.45 L1016.04 283.88 L1015.88 284.29 L1015.7 284.71 L1015.51 285.13 L1015.32 285.56 L1015.14 286.01 L1014.98 286.46 L1014.84 286.92 L1014.73 287.42 L1014.65 287.95 L1014.58 288.49 L1014.52 289.02 L1014.47 289.52 L1014.43 289.97 L1014.4 290.35 L1014.37 290.63 L1014.96 290.7 L1015.01 290.42 L1015.05 290.04 L1015.11 289.59 L1015.18 289.1 L1015.25 288.58 L1015.34 288.06 L1015.44 287.57 L1015.56 287.12 L1015.7 286.71 L1015.86 286.3 L1016.05 285.89 L1016.25 285.48 L1016.46 285.05 L1016.66 284.62 L1016.85 284.18 L1017.01 283.73 L1017.16 283.3 L1017.33 282.88 L1017.49 282.44 L1017.65 281.98 L1017.78 281.5 L1017.87 280.99 L1017.89 280.46 L1017.84 279.9 L1017.69 279.33 L1017.46 278.76 L1017.17 278.2 L1016.86 277.65 L1016.53 277.1 L1016.21 276.55 L1015.91 276.03 L1015.66 275.51 L1015.43 274.95 L1015.18 274.33 L1014.94 273.69 L1014.7 273.05 L1014.48 272.44 L1014.28 271.89 L1014.11 271.43 L1013.99 271.08Z" fill="#b49a6d"/>
<path d="M1014.48 270.78 L1014.75 270.94 L1015.12 271.15 L1015.56 271.41 L1016.06 271.7 L1016.59 272.01 L1017.14 272.31 L1017.68 272.6 L1018.21 272.86 L1018.73 273.08 L1019.26 273.28 L1019.78 273.45 L1020.28 273.62 L1020.77 273.78 L1021.24 273.95 L1021.69 274.13 L1022.1 274.34 L1022.5 274.57 L1022.89 274.85 L1023.29 275.15 L1023.7 275.48 L1024.12 275.82 L1024.55 276.16 L1025.02 276.49 L1025.51 276.8 L1026.01 277.07 L1026.52 277.31 L1027.02 277.53 L1027.52 277.73 L1028.01 277.92 L1028.48 278.11 L1028.94 278.31 L1029.38 278.53 L1029.81 278.76 L1030.24 279.01 L1030.68 279.28 L1031.11 279.55 L1031.56 279.83 L1032.02 280.11 L1032.49 280.39 L1032.99 280.66 L1033.5 280.91 L1034.03 281.15 L1034.55 281.37 L1035.08 281.58 L1035.59 281.79 L1036.1 282.01 L1036.58 282.24 L1037.05 282.48 L1037.49 282.75 L1037.92 283.05 L1038.36 283.39 L1038.81 283.74 L1039.28 284.09 L1039.76 284.44 L1040.28 284.76 L1040.83 285.05 L1041.41 285.28 L1042.01 285.45 L1042.59 285.59 L1043.17 285.7 L1043.73 285.81 L1044.27 285.93 L1044.78 286.07 L1045.25 286.25 L1045.72 286.47 L1046.19 286.72 L1046.66 287 L1047.13 287.3 L1047.6 287.62 L1048.07 287.93 L1048.54 288.24 L1049.01 288.52 L1049.46 288.79 L1049.9 289.05 L1050.33 289.31 L1050.76 289.57 L1051.19 289.82 L1051.63 290.06 L1052.08 290.29 L1052.56 290.51 L1053.05 290.7 L1053.55 290.87 L1054.05 291.02 L1054.54 291.16 L1055.02 291.29 L1055.48 291.43 L1055.93 291.59 L1056.36 291.76 L1056.77 291.97 L1057.18 292.2 L1057.58 292.45 L1057.99 292.72 L1058.41 292.99 L1058.84 293.27 L1059.29 293.54 L1059.75 293.79 L1060.22 294.04 L1060.69 294.28 L1061.17 294.52 L1061.66 294.76 L1062.16 294.99 L1062.67 295.2 L1063.2 295.39 L1063.73 295.55 L1064.29 295.68 L1064.85 295.76 L1065.4 295.81 L1065.95 295.85 L1066.49 295.88 L1067.02 295.92 L1067.53 295.98 L1068.02 296.08 L1068.51 296.2 L1069 296.35 L1069.49 296.51 L1069.97 296.69 L1070.46 296.88 L1070.95 297.07 L1071.44 297.26 L1071.94 297.45 L1072.45 297.65 L1073.01 297.87 L1073.57 298.1 L1074.14 298.33 L1074.66 298.55 L1075.14 298.75 L1075.54 298.91 L1075.85 299.04 L1076.15 298.3 L1075.85 298.17 L1075.46 298 L1074.98 297.79 L1074.45 297.57 L1073.89 297.33 L1073.33 297.09 L1072.77 296.86 L1072.25 296.65 L1071.76 296.46 L1071.28 296.26 L1070.79 296.05 L1070.29 295.86 L1069.79 295.66 L1069.28 295.48 L1068.76 295.32 L1068.23 295.18 L1067.68 295.06 L1067.12 294.99 L1066.57 294.94 L1066.02 294.89 L1065.49 294.85 L1064.97 294.8 L1064.47 294.72 L1063.99 294.6 L1063.52 294.45 L1063.04 294.27 L1062.57 294.06 L1062.1 293.84 L1061.63 293.61 L1061.16 293.36 L1060.7 293.11 L1060.25 292.87 L1059.82 292.63 L1059.41 292.37 L1059 292.1 L1058.59 291.82 L1058.17 291.54 L1057.74 291.26 L1057.3 291 L1056.82 290.76 L1056.33 290.55 L1055.84 290.37 L1055.34 290.21 L1054.85 290.06 L1054.37 289.92 L1053.9 289.78 L1053.46 289.62 L1053.03 289.44 L1052.61 289.24 L1052.19 289.02 L1051.78 288.78 L1051.37 288.54 L1050.96 288.28 L1050.53 288.02 L1050.1 287.75 L1049.65 287.48 L1049.21 287.2 L1048.76 286.9 L1048.3 286.58 L1047.83 286.25 L1047.34 285.93 L1046.83 285.62 L1046.31 285.32 L1045.76 285.06 L1045.18 284.84 L1044.6 284.67 L1044.01 284.53 L1043.44 284.41 L1042.89 284.29 L1042.36 284.16 L1041.86 284 L1041.4 283.81 L1040.97 283.58 L1040.54 283.3 L1040.1 282.98 L1039.67 282.64 L1039.22 282.28 L1038.76 281.92 L1038.27 281.57 L1037.76 281.25 L1037.23 280.96 L1036.7 280.7 L1036.17 280.46 L1035.64 280.23 L1035.12 280.01 L1034.62 279.8 L1034.14 279.57 L1033.68 279.34 L1033.24 279.09 L1032.8 278.83 L1032.37 278.55 L1031.93 278.27 L1031.49 277.98 L1031.04 277.7 L1030.58 277.42 L1030.1 277.15 L1029.6 276.9 L1029.1 276.67 L1028.6 276.46 L1028.12 276.26 L1027.64 276.06 L1027.18 275.86 L1026.74 275.64 L1026.33 275.41 L1025.93 275.15 L1025.54 274.86 L1025.15 274.54 L1024.74 274.21 L1024.32 273.86 L1023.88 273.51 L1023.41 273.18 L1022.91 272.87 L1022.39 272.6 L1021.87 272.38 L1021.34 272.18 L1020.83 272 L1020.33 271.83 L1019.85 271.66 L1019.39 271.48 L1018.95 271.28 L1018.48 271.05 L1017.98 270.77 L1017.47 270.48 L1016.96 270.17 L1016.48 269.88 L1016.04 269.62 L1015.67 269.39 L1015.39 269.22Z" fill="#b49a6d"/>
<path d="M1054.69 290.5 L1054.97 290.48 L1055.33 290.45 L1055.77 290.43 L1056.26 290.39 L1056.78 290.35 L1057.31 290.3 L1057.82 290.25 L1058.3 290.18 L1058.76 290.1 L1059.21 290 L1059.66 289.89 L1060.1 289.78 L1060.53 289.66 L1060.96 289.55 L1061.39 289.45 L1061.82 289.37 L1062.28 289.29 L1062.78 289.22 L1063.29 289.15 L1063.8 289.09 L1064.28 289.04 L1064.71 288.99 L1065.08 288.95 L1065.36 288.92 L1065.31 288.42 L1065.03 288.44 L1064.67 288.46 L1064.23 288.49 L1063.74 288.52 L1063.23 288.56 L1062.71 288.6 L1062.19 288.65 L1061.72 288.71 L1061.26 288.78 L1060.81 288.86 L1060.37 288.95 L1059.92 289.05 L1059.49 289.14 L1059.05 289.22 L1058.62 289.3 L1058.19 289.35 L1057.74 289.4 L1057.24 289.43 L1056.73 289.45 L1056.21 289.47 L1055.73 289.48 L1055.29 289.49 L1054.92 289.49 L1054.64 289.5Z" fill="#b49a6d"/>
<path d="M1065.45 295.15 L1065.81 295.06 L1066.28 294.92 L1066.83 294.77 L1067.45 294.59 L1068.1 294.42 L1068.76 294.25 L1069.4 294.11 L1070 293.99 L1070.6 293.9 L1071.25 293.83 L1071.93 293.77 L1072.61 293.72 L1073.25 293.67 L1073.82 293.64 L1074.31 293.61 L1074.68 293.58 L1074.66 293.08 L1074.29 293.09 L1073.81 293.09 L1073.23 293.1 L1072.58 293.11 L1071.9 293.12 L1071.2 293.15 L1070.53 293.19 L1069.89 293.25 L1069.26 293.34 L1068.59 293.45 L1067.91 293.59 L1067.24 293.73 L1066.61 293.87 L1066.04 294 L1065.57 294.1 L1065.22 294.18Z" fill="#b49a6d"/>
<path d="M1016.23 270.6 L1016.11 270.81 L1015.94 271 L1015.73 271.17 L1015.52 271.32 L1015.31 271.46 L1015.08 271.59 L1014.84 271.7 L1014.6 271.79 L1014.34 271.83 L1014.08 271.85 L1013.82 271.87 L1013.56 271.94 L1013.34 272.09 L1013.12 272.29 L1012.91 272.49 L1012.67 272.62 L1012.4 272.67 L1012.11 272.68 L1011.82 272.64 L1011.54 272.58 L1011.28 272.48 L1011.02 272.34 L1010.77 272.19 L1010.53 272.05 L1010.27 271.94 L1010.02 271.83 L1009.78 271.72 L1009.56 271.58 L1009.37 271.4 L1009.2 271.2 L1009.04 270.98 L1008.9 270.77 L1008.78 270.55 L1008.68 270.33 L1008.58 270.12 L1008.45 269.91 L1008.27 269.73 L1008.06 269.56 L1007.85 269.39 L1007.68 269.2 L1007.52 268.99 L1007.37 268.75 L1007.26 268.51 L1007.21 268.28 L1007.29 268.05 L1007.46 267.83 L1007.62 267.6 L1007.7 267.36 L1007.61 267.09 L1007.43 266.79 L1007.26 266.5 L1007.21 266.26 L1007.36 266.07 L1007.62 265.92 L1007.91 265.79 L1008.16 265.64 L1008.33 265.46 L1008.47 265.28 L1008.6 265.1 L1008.77 264.95 L1008.97 264.85 L1009.21 264.78 L1009.44 264.71 L1009.64 264.56 L1009.78 264.29 L1009.88 263.94 L1010 263.61 L1010.17 263.38 L1010.41 263.31 L1010.71 263.34 L1011.03 263.4 L1011.34 263.43 L1011.62 263.41 L1011.91 263.37 L1012.19 263.34 L1012.46 263.36 L1012.74 263.43 L1013.01 263.55 L1013.27 263.69 L1013.51 263.86 L1013.7 264.07 L1013.86 264.32 L1014.02 264.57 L1014.2 264.77 L1014.43 264.9 L1014.68 264.99 L1014.93 265.07 L1015.17 265.18 L1015.39 265.32 L1015.61 265.48 L1015.81 265.66 L1015.96 265.87 L1016.02 266.1 L1016.01 266.36 L1016.01 266.62 L1016.09 266.86 L1016.32 267.08 L1016.66 267.28 L1016.97 267.48 L1017.14 267.7 L1017.12 267.94 L1016.96 268.19 L1016.76 268.44 L1016.6 268.68 L1016.47 268.9 L1016.36 269.1 L1016.26 269.3 L1016.2 269.53 L1016.19 269.79 L1016.23 270.07 L1016.26 270.35Z" fill="#b49a6d"/>
<circle cx="1012" cy="268" r="2.1" fill="#a9b5cc" stroke="#5a6070" stroke-width="0.5"/>
<path d="M1105.64 275.82 L1105.35 275.72 L1104.96 275.58 L1104.5 275.42 L1103.99 275.24 L1103.45 275.04 L1102.91 274.84 L1102.39 274.65 L1101.92 274.46 L1101.48 274.27 L1101.04 274.06 L1100.6 273.85 L1100.15 273.62 L1099.69 273.4 L1099.21 273.18 L1098.72 272.97 L1098.21 272.77 L1097.68 272.61 L1097.14 272.48 L1096.62 272.38 L1096.12 272.29 L1095.63 272.2 L1095.17 272.09 L1094.74 271.97 L1094.34 271.83 L1093.95 271.64 L1093.57 271.41 L1093.17 271.14 L1092.76 270.84 L1092.33 270.53 L1091.88 270.22 L1091.4 269.92 L1090.88 269.67 L1090.35 269.47 L1089.83 269.31 L1089.31 269.19 L1088.81 269.08 L1088.32 268.99 L1087.84 268.88 L1087.38 268.77 L1086.92 268.62 L1086.45 268.45 L1085.96 268.25 L1085.47 268.04 L1084.97 267.81 L1084.47 267.58 L1083.97 267.34 L1083.47 267.1 L1082.97 266.85 L1082.49 266.61 L1082 266.36 L1081.52 266.11 L1081.03 265.85 L1080.55 265.59 L1080.06 265.33 L1079.57 265.07 L1079.08 264.81 L1078.59 264.55 L1078.11 264.29 L1077.62 264.03 L1077.13 263.77 L1076.64 263.5 L1076.15 263.25 L1075.65 262.99 L1075.14 262.74 L1074.64 262.5 L1074.14 262.27 L1073.63 262.04 L1073.12 261.81 L1072.61 261.59 L1072.09 261.37 L1071.58 261.16 L1071.06 260.95 L1070.54 260.74 L1070.01 260.55 L1069.49 260.37 L1068.97 260.19 L1068.45 260.01 L1067.93 259.83 L1067.41 259.65 L1066.88 259.45 L1066.35 259.24 L1065.8 259.02 L1065.25 258.8 L1064.7 258.57 L1064.14 258.34 L1063.59 258.1 L1063.04 257.86 L1062.5 257.62 L1061.97 257.37 L1061.44 257.1 L1060.91 256.83 L1060.38 256.54 L1059.84 256.26 L1059.29 255.99 L1058.73 255.73 L1058.15 255.5 L1057.57 255.28 L1056.97 255.09 L1056.37 254.91 L1055.77 254.74 L1055.17 254.59 L1054.58 254.44 L1054 254.31 L1053.43 254.19 L1052.87 254.08 L1052.32 254 L1051.79 253.95 L1051.27 253.89 L1050.77 253.84 L1050.28 253.78 L1049.8 253.7 L1049.32 253.59 L1048.86 253.45 L1048.39 253.27 L1047.92 253.07 L1047.45 252.86 L1046.97 252.64 L1046.48 252.42 L1045.98 252.21 L1045.48 252.03 L1044.94 251.86 L1044.37 251.69 L1043.78 251.53 L1043.2 251.38 L1042.65 251.25 L1042.16 251.13 L1041.74 251.03 L1041.44 250.95 L1041.23 251.72 L1041.54 251.8 L1041.96 251.91 L1042.45 252.04 L1042.99 252.18 L1043.56 252.34 L1044.13 252.5 L1044.69 252.67 L1045.19 252.84 L1045.66 253.02 L1046.13 253.22 L1046.6 253.44 L1047.07 253.67 L1047.56 253.89 L1048.05 254.11 L1048.56 254.31 L1049.08 254.48 L1049.61 254.61 L1050.13 254.71 L1050.65 254.78 L1051.17 254.84 L1051.68 254.9 L1052.2 254.96 L1052.71 255.04 L1053.23 255.15 L1053.78 255.27 L1054.35 255.41 L1054.92 255.56 L1055.5 255.72 L1056.08 255.89 L1056.66 256.07 L1057.22 256.27 L1057.77 256.47 L1058.3 256.7 L1058.82 256.95 L1059.35 257.22 L1059.87 257.5 L1060.4 257.79 L1060.93 258.08 L1061.47 258.36 L1062.02 258.63 L1062.58 258.89 L1063.13 259.14 L1063.69 259.39 L1064.25 259.63 L1064.8 259.87 L1065.36 260.11 L1065.91 260.33 L1066.45 260.55 L1066.99 260.77 L1067.52 260.97 L1068.05 261.16 L1068.57 261.34 L1069.08 261.53 L1069.59 261.71 L1070.09 261.91 L1070.59 262.11 L1071.09 262.32 L1071.6 262.53 L1072.09 262.76 L1072.59 262.98 L1073.09 263.21 L1073.58 263.44 L1074.07 263.68 L1074.56 263.92 L1075.05 264.17 L1075.53 264.42 L1076.01 264.69 L1076.49 264.95 L1076.97 265.22 L1077.45 265.49 L1077.94 265.76 L1078.42 266.03 L1078.91 266.29 L1079.39 266.56 L1079.87 266.83 L1080.36 267.1 L1080.84 267.36 L1081.34 267.63 L1081.83 267.89 L1082.33 268.15 L1082.83 268.4 L1083.33 268.65 L1083.83 268.9 L1084.35 269.15 L1084.86 269.39 L1085.38 269.62 L1085.89 269.84 L1086.42 270.04 L1086.95 270.22 L1087.48 270.36 L1088 270.48 L1088.49 270.59 L1088.97 270.69 L1089.42 270.81 L1089.84 270.94 L1090.24 271.1 L1090.63 271.3 L1091.01 271.54 L1091.41 271.82 L1091.81 272.12 L1092.24 272.44 L1092.69 272.76 L1093.17 273.05 L1093.69 273.32 L1094.23 273.52 L1094.76 273.68 L1095.29 273.81 L1095.8 273.91 L1096.3 274.01 L1096.78 274.11 L1097.23 274.23 L1097.65 274.36 L1098.08 274.53 L1098.51 274.72 L1098.94 274.93 L1099.38 275.15 L1099.83 275.38 L1100.29 275.62 L1100.76 275.85 L1101.24 276.06 L1101.74 276.27 L1102.28 276.49 L1102.83 276.7 L1103.38 276.9 L1103.89 277.09 L1104.35 277.26 L1104.74 277.4 L1105.02 277.51Z" fill="#b49a6d"/>
<path d="M1059.81 257.54 L1059.5 257.68 L1059.1 257.86 L1058.62 258.08 L1058.08 258.33 L1057.51 258.59 L1056.94 258.85 L1056.38 259.1 L1055.86 259.34 L1055.34 259.57 L1054.78 259.82 L1054.21 260.08 L1053.64 260.33 L1053.1 260.57 L1052.62 260.79 L1052.21 260.97 L1051.9 261.1 L1052.1 261.56 L1052.41 261.45 L1052.82 261.29 L1053.32 261.1 L1053.87 260.89 L1054.45 260.67 L1055.04 260.45 L1055.62 260.23 L1056.15 260.03 L1056.68 259.82 L1057.26 259.6 L1057.85 259.37 L1058.43 259.15 L1058.98 258.93 L1059.47 258.74 L1059.88 258.58 L1060.19 258.46Z" fill="#b49a6d"/>
<path d="M1049.14 253.54 L1048.88 253.66 L1048.53 253.81 L1048.11 254 L1047.65 254.21 L1047.16 254.44 L1046.66 254.67 L1046.18 254.91 L1045.74 255.14 L1045.3 255.39 L1044.84 255.66 L1044.37 255.95 L1043.92 256.24 L1043.49 256.51 L1043.1 256.76 L1042.78 256.96 L1042.54 257.12 L1042.79 257.55 L1043.05 257.41 L1043.38 257.22 L1043.78 257 L1044.23 256.76 L1044.7 256.51 L1045.17 256.26 L1045.64 256.02 L1046.07 255.81 L1046.51 255.62 L1047 255.42 L1047.5 255.22 L1047.99 255.03 L1048.47 254.86 L1048.89 254.7 L1049.25 254.56 L1049.53 254.46Z" fill="#b49a6d"/>
<path d="M1106.55 276.24 L1106.35 275.98 L1106.08 275.64 L1105.76 275.23 L1105.39 274.77 L1105 274.28 L1104.59 273.8 L1104.17 273.33 L1103.75 272.9 L1103.29 272.51 L1102.78 272.16 L1102.27 271.85 L1101.78 271.56 L1101.34 271.27 L1100.96 270.99 L1100.68 270.72 L1100.5 270.44 L1100.41 270.14 L1100.38 269.77 L1100.4 269.33 L1100.48 268.86 L1100.59 268.34 L1100.71 267.81 L1100.81 267.26 L1100.88 266.72 L1100.9 266.18 L1100.9 265.65 L1100.9 265.11 L1100.89 264.59 L1100.9 264.09 L1100.92 263.62 L1100.97 263.18 L1101.06 262.78 L1101.18 262.44 L1101.34 262.11 L1101.53 261.8 L1101.75 261.5 L1101.98 261.2 L1102.22 260.9 L1102.47 260.57 L1102.69 260.23 L1102.91 259.87 L1103.13 259.48 L1103.36 259.08 L1103.58 258.69 L1103.79 258.31 L1103.98 257.98 L1104.14 257.7 L1104.26 257.49 L1103.74 257.18 L1103.61 257.39 L1103.45 257.66 L1103.25 257.99 L1103.03 258.36 L1102.79 258.74 L1102.55 259.13 L1102.31 259.5 L1102.1 259.84 L1101.88 260.15 L1101.65 260.44 L1101.4 260.73 L1101.14 261.04 L1100.89 261.36 L1100.66 261.72 L1100.45 262.11 L1100.27 262.55 L1100.15 263.03 L1100.08 263.53 L1100.03 264.05 L1100.01 264.58 L1099.99 265.11 L1099.98 265.63 L1099.96 266.14 L1099.92 266.63 L1099.85 267.1 L1099.73 267.59 L1099.6 268.11 L1099.47 268.65 L1099.36 269.2 L1099.31 269.76 L1099.34 270.32 L1099.5 270.89 L1099.8 271.4 L1100.2 271.84 L1100.66 272.21 L1101.15 272.54 L1101.64 272.86 L1102.11 273.17 L1102.53 273.48 L1102.88 273.8 L1103.23 274.18 L1103.6 274.63 L1103.97 275.1 L1104.34 275.58 L1104.68 276.05 L1104.98 276.47 L1105.25 276.83 L1105.45 277.1Z" fill="#b49a6d"/>
<path d="M1108.79 276.55 L1108.73 276.19 L1108.65 275.71 L1108.56 275.15 L1108.46 274.52 L1108.35 273.86 L1108.24 273.18 L1108.14 272.53 L1108.05 271.92 L1107.96 271.34 L1107.86 270.76 L1107.77 270.18 L1107.68 269.6 L1107.6 269.03 L1107.52 268.46 L1107.45 267.89 L1107.4 267.31 L1107.34 266.71 L1107.27 266.08 L1107.2 265.44 L1107.14 264.83 L1107.11 264.24 L1107.11 263.71 L1107.16 263.24 L1107.24 262.87 L1107.38 262.58 L1107.56 262.32 L1107.79 262.08 L1108.08 261.85 L1108.41 261.63 L1108.77 261.41 L1109.14 261.17 L1109.51 260.91 L1109.87 260.62 L1110.26 260.3 L1110.66 259.98 L1111.04 259.69 L1111.4 259.43 L1111.7 259.26 L1111.88 259.18 L1111.83 259.16 L1111.69 259.05 L1111.7 259.11 L1111.71 259.38 L1111.69 259.75 L1111.66 260.19 L1111.64 260.65 L1111.64 261.12 L1111.71 261.56 L1111.85 261.96 L1112.04 262.32 L1112.24 262.63 L1112.43 262.93 L1112.61 263.2 L1112.75 263.47 L1112.84 263.74 L1112.89 264.02 L1112.88 264.35 L1112.82 264.72 L1112.72 265.14 L1112.59 265.58 L1112.44 266.04 L1112.29 266.51 L1112.15 266.99 L1112.04 267.47 L1111.96 267.93 L1111.88 268.39 L1111.82 268.85 L1111.76 269.31 L1111.7 269.76 L1111.63 270.21 L1111.56 270.65 L1111.46 271.09 L1111.35 271.55 L1111.21 272.04 L1111.05 272.54 L1110.89 273.04 L1110.73 273.51 L1110.59 273.94 L1110.47 274.3 L1110.38 274.57 L1110.95 274.76 L1111.04 274.5 L1111.17 274.14 L1111.33 273.72 L1111.5 273.25 L1111.68 272.75 L1111.85 272.24 L1112.01 271.73 L1112.14 271.26 L1112.25 270.8 L1112.34 270.34 L1112.43 269.88 L1112.5 269.42 L1112.57 268.97 L1112.65 268.52 L1112.73 268.07 L1112.82 267.64 L1112.93 267.21 L1113.08 266.76 L1113.23 266.3 L1113.4 265.84 L1113.55 265.37 L1113.67 264.91 L1113.76 264.44 L1113.78 263.98 L1113.72 263.53 L1113.59 263.12 L1113.41 262.76 L1113.22 262.43 L1113.03 262.13 L1112.87 261.85 L1112.74 261.59 L1112.65 261.34 L1112.62 261.05 L1112.63 260.68 L1112.66 260.26 L1112.7 259.83 L1112.73 259.4 L1112.72 258.98 L1112.6 258.55 L1112.17 258.17 L1111.66 258.15 L1111.24 258.3 L1110.83 258.53 L1110.42 258.8 L1109.99 259.11 L1109.57 259.43 L1109.18 259.73 L1108.83 259.99 L1108.51 260.21 L1108.16 260.42 L1107.78 260.65 L1107.39 260.9 L1107.01 261.19 L1106.65 261.53 L1106.33 261.96 L1106.09 262.46 L1105.94 263.03 L1105.86 263.63 L1105.84 264.26 L1105.86 264.9 L1105.9 265.56 L1105.96 266.2 L1106.01 266.83 L1106.05 267.43 L1106.09 268.02 L1106.14 268.61 L1106.21 269.21 L1106.28 269.8 L1106.36 270.38 L1106.43 270.97 L1106.51 271.55 L1106.59 272.13 L1106.66 272.74 L1106.75 273.4 L1106.84 274.08 L1106.93 274.75 L1107.02 275.38 L1107.09 275.95 L1107.16 276.43 L1107.21 276.78Z" fill="#b49a6d"/>
<path d="M1109.23 277.75 L1109.42 277.48 L1109.68 277.11 L1109.97 276.68 L1110.3 276.21 L1110.65 275.72 L1111.01 275.23 L1111.37 274.77 L1111.71 274.36 L1112.05 273.99 L1112.41 273.63 L1112.79 273.28 L1113.18 272.93 L1113.58 272.57 L1113.99 272.21 L1114.39 271.84 L1114.78 271.46 L1115.16 271.08 L1115.54 270.7 L1115.92 270.31 L1116.3 269.92 L1116.68 269.52 L1117.04 269.11 L1117.38 268.69 L1117.7 268.27 L1117.99 267.82 L1118.24 267.38 L1118.47 266.93 L1118.68 266.48 L1118.88 266.04 L1119.08 265.61 L1119.29 265.18 L1119.51 264.77 L1119.76 264.34 L1120.05 263.87 L1120.35 263.4 L1120.65 262.93 L1120.94 262.49 L1121.2 262.09 L1121.42 261.75 L1121.58 261.5 L1121.08 261.17 L1120.91 261.41 L1120.68 261.74 L1120.41 262.12 L1120.1 262.56 L1119.78 263.02 L1119.45 263.48 L1119.15 263.95 L1118.86 264.39 L1118.61 264.82 L1118.37 265.25 L1118.15 265.69 L1117.94 266.12 L1117.72 266.54 L1117.49 266.95 L1117.24 267.35 L1116.97 267.73 L1116.66 268.11 L1116.33 268.49 L1115.97 268.86 L1115.6 269.23 L1115.22 269.59 L1114.82 269.96 L1114.43 270.33 L1114.04 270.69 L1113.65 271.04 L1113.26 271.38 L1112.85 271.71 L1112.44 272.05 L1112.02 272.4 L1111.6 272.76 L1111.2 273.13 L1110.8 273.53 L1110.4 273.96 L1110 274.44 L1109.61 274.93 L1109.23 275.42 L1108.88 275.89 L1108.56 276.31 L1108.3 276.66 L1108.1 276.92Z" fill="#b49a6d"/>
<path d="M1109.67 278.61 L1109.94 278.46 L1110.29 278.25 L1110.69 278.01 L1111.14 277.75 L1111.62 277.48 L1112.1 277.21 L1112.57 276.98 L1113.01 276.78 L1113.43 276.62 L1113.87 276.48 L1114.32 276.36 L1114.8 276.24 L1115.28 276.12 L1115.77 275.99 L1116.27 275.84 L1116.75 275.66 L1117.22 275.46 L1117.68 275.25 L1118.13 275.04 L1118.58 274.8 L1119.03 274.56 L1119.46 274.3 L1119.89 274.03 L1120.29 273.74 L1120.68 273.42 L1121.05 273.09 L1121.4 272.74 L1121.73 272.39 L1122.05 272.03 L1122.37 271.68 L1122.68 271.33 L1122.99 270.99 L1123.34 270.65 L1123.72 270.29 L1124.13 269.92 L1124.54 269.55 L1124.92 269.18 L1125.25 268.82 L1125.51 268.47 L1125.69 268.11 L1125.7 267.71 L1125.53 267.37 L1125.28 267.16 L1125.01 267 L1124.73 266.88 L1124.48 266.77 L1124.26 266.66 L1124.1 266.54 L1123.95 266.38 L1123.78 266.19 L1123.6 265.99 L1123.43 265.79 L1123.27 265.59 L1123.12 265.41 L1123 265.26 L1122.9 265.14 L1122.43 265.52 L1122.52 265.64 L1122.64 265.79 L1122.78 265.97 L1122.94 266.18 L1123.11 266.4 L1123.29 266.62 L1123.47 266.83 L1123.66 267.03 L1123.9 267.22 L1124.17 267.38 L1124.44 267.51 L1124.69 267.63 L1124.87 267.74 L1124.97 267.82 L1124.99 267.85 L1124.98 267.89 L1124.89 268.06 L1124.68 268.32 L1124.37 268.63 L1124 268.96 L1123.59 269.31 L1123.17 269.67 L1122.76 270.03 L1122.38 270.38 L1122.04 270.72 L1121.71 271.07 L1121.38 271.41 L1121.06 271.75 L1120.73 272.07 L1120.4 272.38 L1120.06 272.67 L1119.71 272.93 L1119.33 273.18 L1118.93 273.42 L1118.52 273.64 L1118.1 273.86 L1117.67 274.06 L1117.23 274.25 L1116.79 274.43 L1116.35 274.6 L1115.92 274.75 L1115.47 274.87 L1115.01 274.97 L1114.53 275.08 L1114.04 275.18 L1113.54 275.29 L1113.04 275.43 L1112.54 275.6 L1112.04 275.81 L1111.52 276.05 L1111 276.31 L1110.49 276.57 L1110.02 276.83 L1109.6 277.06 L1109.26 277.25 L1109 277.39Z" fill="#b49a6d"/>
<path d="M1110 280.7 L1110.36 280.69 L1110.84 280.68 L1111.41 280.67 L1112.04 280.66 L1112.71 280.65 L1113.39 280.64 L1114.04 280.64 L1114.65 280.64 L1115.23 280.65 L1115.8 280.66 L1116.38 280.69 L1116.97 280.71 L1117.55 280.74 L1118.14 280.75 L1118.74 280.77 L1119.34 280.76 L1119.94 280.74 L1120.54 280.69 L1121.13 280.63 L1121.71 280.56 L1122.28 280.51 L1122.84 280.47 L1123.4 280.47 L1123.95 280.5 L1124.5 280.57 L1125.06 280.68 L1125.64 280.81 L1126.22 280.97 L1126.8 281.14 L1127.39 281.31 L1127.98 281.49 L1128.57 281.66 L1129.19 281.82 L1129.84 281.97 L1130.5 282.13 L1131.15 282.29 L1131.76 282.45 L1132.32 282.62 L1132.79 282.8 L1133.14 282.97 L1133.38 283.15 L1133.52 283.31 L1133.61 283.48 L1133.66 283.67 L1133.7 283.89 L1133.73 284.15 L1133.76 284.42 L1133.84 284.7 L1133.92 284.97 L1134.01 285.25 L1134.08 285.54 L1134.16 285.83 L1134.22 286.11 L1134.28 286.36 L1134.33 286.57 L1134.37 286.74 L1134.96 286.6 L1134.92 286.44 L1134.88 286.23 L1134.83 285.98 L1134.77 285.69 L1134.7 285.39 L1134.63 285.09 L1134.55 284.79 L1134.47 284.53 L1134.42 284.3 L1134.4 284.07 L1134.38 283.81 L1134.34 283.53 L1134.26 283.23 L1134.11 282.92 L1133.86 282.62 L1133.52 282.36 L1133.09 282.13 L1132.57 281.92 L1131.99 281.72 L1131.36 281.53 L1130.7 281.35 L1130.05 281.18 L1129.41 281 L1128.81 280.83 L1128.24 280.65 L1127.66 280.46 L1127.07 280.26 L1126.48 280.07 L1125.88 279.89 L1125.28 279.73 L1124.67 279.6 L1124.05 279.5 L1123.43 279.45 L1122.82 279.44 L1122.21 279.46 L1121.62 279.5 L1121.03 279.55 L1120.46 279.59 L1119.89 279.62 L1119.33 279.63 L1118.76 279.62 L1118.19 279.59 L1117.61 279.55 L1117.03 279.51 L1116.45 279.47 L1115.86 279.43 L1115.27 279.4 L1114.68 279.37 L1114.06 279.35 L1113.39 279.34 L1112.71 279.33 L1112.04 279.32 L1111.4 279.31 L1110.83 279.31 L1110.36 279.3 L1110 279.3Z" fill="#b49a6d"/>
<path d="M1109.01 282.62 L1109.25 282.74 L1109.56 282.9 L1109.94 283.1 L1110.36 283.31 L1110.81 283.54 L1111.25 283.77 L1111.69 283.99 L1112.09 284.2 L1112.46 284.41 L1112.83 284.62 L1113.21 284.84 L1113.58 285.06 L1113.97 285.28 L1114.36 285.5 L1114.76 285.71 L1115.17 285.91 L1115.58 286.09 L1115.98 286.25 L1116.38 286.41 L1116.78 286.55 L1117.18 286.69 L1117.59 286.84 L1118.01 287 L1118.46 287.17 L1118.93 287.36 L1119.43 287.56 L1119.95 287.77 L1120.47 287.98 L1121 288.2 L1121.53 288.43 L1122.05 288.66 L1122.55 288.9 L1123.05 289.14 L1123.55 289.4 L1124.06 289.66 L1124.55 289.93 L1125.05 290.2 L1125.53 290.47 L1125.99 290.75 L1126.44 291.02 L1126.87 291.29 L1127.27 291.56 L1127.66 291.85 L1128.05 292.13 L1128.43 292.42 L1128.83 292.7 L1129.23 292.98 L1129.66 293.24 L1130.12 293.49 L1130.62 293.75 L1131.13 294 L1131.65 294.23 L1132.13 294.45 L1132.57 294.65 L1132.93 294.81 L1133.2 294.94 L1133.46 294.4 L1133.19 294.26 L1132.83 294.09 L1132.4 293.88 L1131.93 293.65 L1131.43 293.4 L1130.93 293.14 L1130.45 292.88 L1130.03 292.63 L1129.64 292.37 L1129.26 292.1 L1128.89 291.82 L1128.51 291.52 L1128.13 291.22 L1127.74 290.92 L1127.33 290.61 L1126.89 290.32 L1126.44 290.03 L1125.97 289.73 L1125.49 289.44 L1124.99 289.15 L1124.5 288.86 L1123.99 288.58 L1123.49 288.3 L1122.98 288.04 L1122.47 287.78 L1121.94 287.52 L1121.41 287.28 L1120.88 287.04 L1120.35 286.81 L1119.84 286.58 L1119.35 286.37 L1118.88 286.16 L1118.42 285.97 L1117.99 285.79 L1117.58 285.63 L1117.18 285.48 L1116.8 285.33 L1116.42 285.17 L1116.05 285.01 L1115.69 284.83 L1115.32 284.64 L1114.95 284.43 L1114.59 284.22 L1114.22 283.99 L1113.86 283.76 L1113.48 283.53 L1113.1 283.3 L1112.72 283.07 L1112.31 282.84 L1111.88 282.6 L1111.44 282.35 L1111 282.11 L1110.58 281.88 L1110.21 281.68 L1109.9 281.51 L1109.66 281.38Z" fill="#b49a6d"/>
<path d="M1107.29 283.04 L1107.46 283.34 L1107.68 283.75 L1107.94 284.22 L1108.24 284.75 L1108.54 285.32 L1108.85 285.89 L1109.15 286.44 L1109.42 286.96 L1109.69 287.46 L1109.96 287.96 L1110.22 288.45 L1110.49 288.95 L1110.74 289.44 L1110.97 289.93 L1111.19 290.41 L1111.38 290.89 L1111.55 291.36 L1111.68 291.84 L1111.8 292.34 L1111.91 292.85 L1112.02 293.37 L1112.14 293.9 L1112.28 294.43 L1112.46 294.97 L1112.7 295.54 L1113.02 296.1 L1113.36 296.65 L1113.69 297.16 L1113.96 297.64 L1114.14 298.03 L1114.21 298.31 L1114.2 298.45 L1114.1 298.57 L1113.83 298.73 L1113.39 298.89 L1112.84 299.04 L1112.22 299.18 L1111.58 299.32 L1110.94 299.48 L1110.36 299.67 L1109.84 299.89 L1109.33 300.1 L1108.83 300.32 L1108.32 300.54 L1107.82 300.77 L1107.32 301.01 L1106.82 301.25 L1106.33 301.51 L1105.81 301.78 L1105.27 302.09 L1104.71 302.42 L1104.16 302.74 L1103.65 303.05 L1103.19 303.33 L1102.81 303.57 L1102.52 303.74 L1102.82 304.26 L1103.11 304.09 L1103.51 303.87 L1103.98 303.61 L1104.5 303.31 L1105.05 303.01 L1105.61 302.71 L1106.15 302.42 L1106.66 302.17 L1107.15 301.94 L1107.65 301.72 L1108.14 301.5 L1108.64 301.29 L1109.15 301.09 L1109.65 300.89 L1110.16 300.69 L1110.66 300.51 L1111.18 300.35 L1111.77 300.22 L1112.41 300.11 L1113.05 299.98 L1113.67 299.84 L1114.24 299.65 L1114.75 299.35 L1115.13 298.88 L1115.25 298.29 L1115.15 297.71 L1114.92 297.16 L1114.63 296.61 L1114.31 296.07 L1114 295.54 L1113.74 295.04 L1113.56 294.58 L1113.43 294.12 L1113.32 293.63 L1113.22 293.12 L1113.13 292.61 L1113.03 292.08 L1112.92 291.54 L1112.79 291 L1112.62 290.45 L1112.42 289.91 L1112.2 289.38 L1111.97 288.85 L1111.72 288.33 L1111.47 287.82 L1111.22 287.31 L1110.97 286.8 L1110.72 286.3 L1110.46 285.77 L1110.18 285.2 L1109.89 284.61 L1109.6 284.04 L1109.32 283.5 L1109.07 283.01 L1108.86 282.6 L1108.71 282.29Z" fill="#b49a6d"/>
<path d="M1104.96 281.41 L1104.75 281.54 L1104.47 281.73 L1104.12 281.95 L1103.73 282.19 L1103.32 282.46 L1102.91 282.74 L1102.51 283.03 L1102.14 283.32 L1101.8 283.62 L1101.48 283.93 L1101.18 284.24 L1100.88 284.56 L1100.6 284.86 L1100.32 285.16 L1100.04 285.44 L1099.74 285.7 L1099.43 285.97 L1099.11 286.25 L1098.81 286.51 L1098.5 286.76 L1098.2 287 L1097.88 287.21 L1097.54 287.39 L1097.18 287.55 L1096.79 287.67 L1096.35 287.76 L1095.87 287.82 L1095.36 287.87 L1094.84 287.91 L1094.31 287.96 L1093.77 288.02 L1093.24 288.1 L1092.71 288.21 L1092.14 288.33 L1091.56 288.47 L1090.99 288.61 L1090.46 288.74 L1089.97 288.86 L1089.57 288.97 L1089.27 289.04 L1089.4 289.63 L1089.71 289.56 L1090.12 289.48 L1090.6 289.38 L1091.14 289.27 L1091.71 289.16 L1092.29 289.05 L1092.85 288.95 L1093.36 288.87 L1093.86 288.81 L1094.37 288.78 L1094.89 288.76 L1095.42 288.74 L1095.95 288.71 L1096.48 288.66 L1096.99 288.58 L1097.49 288.45 L1097.94 288.28 L1098.37 288.07 L1098.76 287.84 L1099.12 287.59 L1099.47 287.33 L1099.8 287.07 L1100.12 286.81 L1100.45 286.55 L1100.79 286.27 L1101.12 285.98 L1101.43 285.68 L1101.73 285.38 L1102.03 285.08 L1102.32 284.8 L1102.62 284.54 L1102.91 284.3 L1103.25 284.07 L1103.63 283.82 L1104.03 283.57 L1104.43 283.33 L1104.82 283.1 L1105.17 282.9 L1105.48 282.73 L1105.7 282.59Z" fill="#b49a6d"/>
<path d="M1104.48 280.76 L1104.19 280.87 L1103.81 281.02 L1103.37 281.19 L1102.88 281.38 L1102.36 281.57 L1101.84 281.75 L1101.33 281.9 L1100.87 282.02 L1100.42 282.09 L1099.96 282.14 L1099.48 282.16 L1098.99 282.17 L1098.48 282.19 L1097.97 282.21 L1097.46 282.27 L1096.95 282.36 L1096.43 282.5 L1095.89 282.67 L1095.35 282.88 L1094.82 283.09 L1094.33 283.3 L1093.89 283.49 L1093.52 283.65 L1093.25 283.77 L1093.42 284.23 L1093.71 284.14 L1094.09 284 L1094.54 283.83 L1095.04 283.65 L1095.56 283.48 L1096.1 283.31 L1096.61 283.17 L1097.09 283.08 L1097.54 283.02 L1098.01 283 L1098.49 283.01 L1098.98 283.02 L1099.49 283.04 L1100 283.05 L1100.52 283.03 L1101.04 282.97 L1101.57 282.87 L1102.13 282.74 L1102.69 282.58 L1103.23 282.42 L1103.74 282.26 L1104.2 282.11 L1104.58 281.99 L1104.86 281.9Z" fill="#b49a6d"/>
<path d="M1105.42 282.27 L1105.24 282.55 L1104.99 282.91 L1104.7 283.35 L1104.38 283.84 L1104.03 284.36 L1103.68 284.88 L1103.35 285.4 L1103.04 285.88 L1102.75 286.35 L1102.46 286.81 L1102.19 287.28 L1101.91 287.74 L1101.63 288.2 L1101.36 288.66 L1101.08 289.11 L1100.78 289.56 L1100.48 290.02 L1100.18 290.49 L1099.88 290.97 L1099.58 291.43 L1099.27 291.87 L1098.96 292.29 L1098.65 292.66 L1098.34 292.98 L1098.03 293.27 L1097.7 293.51 L1097.37 293.73 L1097.02 293.93 L1096.67 294.11 L1096.3 294.28 L1095.92 294.44 L1095.55 294.6 L1095.17 294.74 L1094.78 294.86 L1094.38 294.96 L1093.97 295.06 L1093.54 295.15 L1093.11 295.25 L1092.68 295.38 L1092.26 295.52 L1091.83 295.7 L1091.39 295.91 L1090.94 296.13 L1090.5 296.36 L1090.1 296.58 L1089.73 296.78 L1089.43 296.94 L1089.2 297.07 L1089.47 297.6 L1089.71 297.49 L1090.02 297.33 L1090.39 297.14 L1090.8 296.94 L1091.23 296.73 L1091.68 296.53 L1092.11 296.35 L1092.51 296.2 L1092.89 296.08 L1093.29 295.98 L1093.7 295.9 L1094.12 295.82 L1094.55 295.73 L1094.99 295.64 L1095.42 295.52 L1095.84 295.38 L1096.25 295.23 L1096.64 295.07 L1097.04 294.91 L1097.43 294.72 L1097.83 294.51 L1098.22 294.27 L1098.61 294 L1098.99 293.68 L1099.37 293.32 L1099.73 292.91 L1100.08 292.47 L1100.42 292.02 L1100.75 291.55 L1101.07 291.08 L1101.39 290.62 L1101.7 290.18 L1102.01 289.73 L1102.32 289.27 L1102.62 288.82 L1102.91 288.36 L1103.2 287.91 L1103.49 287.46 L1103.79 287.01 L1104.08 286.57 L1104.4 286.11 L1104.75 285.61 L1105.11 285.1 L1105.47 284.6 L1105.82 284.12 L1106.12 283.7 L1106.38 283.34 L1106.58 283.06Z" fill="#b49a6d"/>
<path d="M1118.2 286.85 L1118.3 287.09 L1118.43 287.41 L1118.58 287.79 L1118.76 288.22 L1118.94 288.67 L1119.14 289.13 L1119.35 289.58 L1119.55 289.99 L1119.77 290.38 L1120 290.76 L1120.24 291.12 L1120.48 291.48 L1120.72 291.83 L1120.95 292.18 L1121.15 292.53 L1121.34 292.89 L1121.51 293.28 L1121.68 293.72 L1121.84 294.18 L1121.99 294.64 L1122.12 295.08 L1122.24 295.48 L1122.35 295.82 L1122.43 296.07 L1122.91 295.93 L1122.84 295.68 L1122.75 295.34 L1122.65 294.93 L1122.54 294.48 L1122.41 294 L1122.27 293.52 L1122.11 293.05 L1121.95 292.62 L1121.76 292.22 L1121.56 291.82 L1121.34 291.44 L1121.12 291.07 L1120.89 290.71 L1120.68 290.35 L1120.48 289.99 L1120.3 289.62 L1120.13 289.23 L1119.96 288.8 L1119.78 288.34 L1119.62 287.89 L1119.47 287.46 L1119.34 287.07 L1119.22 286.74 L1119.13 286.49Z" fill="#b49a6d"/>
<path d="M1110.43 281.65 L1110.22 281.77 L1110.03 281.9 L1109.88 282.04 L1109.75 282.24 L1109.69 282.56 L1109.69 282.94 L1109.67 283.3 L1109.55 283.53 L1109.29 283.56 L1108.93 283.46 L1108.55 283.32 L1108.22 283.24 L1107.95 283.23 L1107.72 283.25 L1107.49 283.28 L1107.25 283.34 L1107 283.45 L1106.74 283.6 L1106.48 283.73 L1106.22 283.77 L1105.98 283.7 L1105.74 283.54 L1105.5 283.37 L1105.24 283.24 L1104.94 283.22 L1104.61 283.26 L1104.29 283.27 L1104.03 283.2 L1103.88 282.98 L1103.8 282.67 L1103.72 282.35 L1103.57 282.1 L1103.28 281.96 L1102.91 281.89 L1102.56 281.81 L1102.33 281.67 L1102.26 281.43 L1102.31 281.13 L1102.38 280.81 L1102.39 280.52 L1102.3 280.28 L1102.15 280.06 L1102 279.84 L1101.87 279.61 L1101.75 279.36 L1101.63 279.09 L1101.54 278.83 L1101.52 278.57 L1101.58 278.33 L1101.71 278.1 L1101.86 277.87 L1101.98 277.63 L1102.05 277.37 L1102.09 277.1 L1102.14 276.84 L1102.24 276.61 L1102.4 276.41 L1102.61 276.23 L1102.84 276.07 L1103.09 275.96 L1103.39 275.93 L1103.72 275.95 L1104.04 275.96 L1104.3 275.89 L1104.48 275.66 L1104.59 275.34 L1104.7 275.03 L1104.87 274.82 L1105.12 274.75 L1105.42 274.77 L1105.73 274.84 L1106.02 274.9 L1106.3 274.96 L1106.56 275.03 L1106.82 275.11 L1107.08 275.2 L1107.32 275.29 L1107.55 275.4 L1107.78 275.49 L1108.04 275.55 L1108.34 275.55 L1108.68 275.49 L1109 275.46 L1109.28 275.5 L1109.49 275.65 L1109.66 275.88 L1109.82 276.13 L1110.01 276.35 L1110.25 276.52 L1110.52 276.67 L1110.78 276.82 L1110.99 277 L1111.12 277.23 L1111.21 277.49 L1111.28 277.76 L1111.36 278.03 L1111.49 278.28 L1111.64 278.53 L1111.76 278.78 L1111.82 279.03 L1111.78 279.28 L1111.66 279.53 L1111.53 279.79 L1111.46 280.04 L1111.49 280.32 L1111.58 280.62 L1111.65 280.9 L1111.61 281.13 L1111.4 281.3 L1111.07 281.42 L1110.72 281.52Z" fill="#b49a6d"/>
<circle cx="1106.67" cy="279.33" r="2.1" fill="#a9b5cc" stroke="#5a6070" stroke-width="0.5"/>
<path d="M1035.88 320.23 L1036.24 320.27 L1036.72 320.34 L1037.31 320.43 L1037.97 320.52 L1038.67 320.61 L1039.4 320.69 L1040.11 320.74 L1040.8 320.75 L1041.46 320.71 L1042.11 320.63 L1042.74 320.53 L1043.35 320.42 L1043.95 320.3 L1044.54 320.19 L1045.11 320.11 L1045.67 320.05 L1046.25 320.01 L1046.83 319.99 L1047.42 319.98 L1048.01 319.97 L1048.59 319.98 L1049.18 320 L1049.76 320.03 L1050.34 320.06 L1050.91 320.12 L1051.48 320.2 L1052.07 320.3 L1052.66 320.41 L1053.26 320.52 L1053.88 320.62 L1054.5 320.7 L1055.14 320.76 L1055.78 320.79 L1056.42 320.79 L1057.05 320.78 L1057.67 320.76 L1058.28 320.73 L1058.87 320.71 L1059.42 320.71 L1059.95 320.73 L1060.46 320.77 L1060.95 320.83 L1061.43 320.9 L1061.91 320.98 L1062.4 321.07 L1062.89 321.15 L1063.4 321.22 L1063.92 321.27 L1064.44 321.3 L1064.95 321.33 L1065.46 321.34 L1065.97 321.34 L1066.48 321.34 L1066.99 321.34 L1067.49 321.34 L1068 321.33 L1068.52 321.32 L1069.03 321.29 L1069.54 321.25 L1070.04 321.22 L1070.54 321.19 L1071.03 321.17 L1071.5 321.16 L1071.98 321.18 L1072.44 321.22 L1072.92 321.28 L1073.4 321.36 L1073.89 321.45 L1074.38 321.55 L1074.89 321.64 L1075.41 321.72 L1075.93 321.78 L1076.44 321.82 L1076.94 321.86 L1077.45 321.89 L1077.95 321.91 L1078.46 321.93 L1078.98 321.94 L1079.5 321.93 L1080.02 321.92 L1080.56 321.88 L1081.09 321.83 L1081.63 321.77 L1082.16 321.7 L1082.69 321.63 L1083.22 321.56 L1083.74 321.5 L1084.26 321.45 L1084.78 321.4 L1085.31 321.36 L1085.83 321.32 L1086.35 321.29 L1086.88 321.26 L1087.4 321.23 L1087.93 321.2 L1088.45 321.18 L1088.98 321.16 L1089.5 321.14 L1090.03 321.13 L1090.55 321.11 L1091.07 321.11 L1091.6 321.1 L1092.12 321.11 L1092.64 321.12 L1093.15 321.14 L1093.67 321.18 L1094.19 321.23 L1094.72 321.29 L1095.26 321.34 L1095.8 321.38 L1096.35 321.4 L1096.91 321.39 L1097.47 321.35 L1098.02 321.27 L1098.55 321.17 L1099.08 321.05 L1099.6 320.95 L1100.11 320.85 L1100.62 320.78 L1101.11 320.74 L1101.65 320.73 L1102.23 320.76 L1102.83 320.8 L1103.43 320.86 L1104.01 320.92 L1104.52 320.98 L1104.96 321.03 L1105.29 321.06 L1105.38 320.27 L1105.05 320.23 L1104.62 320.18 L1104.1 320.11 L1103.52 320.04 L1102.91 319.97 L1102.28 319.92 L1101.67 319.88 L1101.08 319.88 L1100.53 319.91 L1099.98 319.98 L1099.44 320.08 L1098.91 320.18 L1098.38 320.28 L1097.87 320.37 L1097.37 320.44 L1096.87 320.47 L1096.37 320.47 L1095.86 320.45 L1095.35 320.4 L1094.83 320.34 L1094.3 320.28 L1093.76 320.22 L1093.22 320.17 L1092.68 320.13 L1092.14 320.12 L1091.6 320.1 L1091.07 320.1 L1090.54 320.1 L1090.01 320.1 L1089.48 320.11 L1088.95 320.12 L1088.42 320.14 L1087.88 320.15 L1087.35 320.17 L1086.82 320.19 L1086.29 320.22 L1085.76 320.24 L1085.23 320.28 L1084.7 320.31 L1084.17 320.35 L1083.63 320.39 L1083.09 320.45 L1082.55 320.51 L1082.02 320.58 L1081.5 320.64 L1080.98 320.69 L1080.48 320.73 L1079.98 320.75 L1079.48 320.76 L1078.99 320.76 L1078.5 320.74 L1078.01 320.72 L1077.52 320.69 L1077.03 320.66 L1076.54 320.61 L1076.06 320.56 L1075.58 320.5 L1075.1 320.42 L1074.62 320.32 L1074.13 320.22 L1073.62 320.12 L1073.11 320.03 L1072.59 319.95 L1072.06 319.9 L1071.53 319.88 L1071 319.88 L1070.48 319.89 L1069.97 319.91 L1069.46 319.94 L1068.96 319.97 L1068.47 319.99 L1067.98 319.99 L1067.49 319.99 L1066.99 319.99 L1066.49 319.98 L1065.99 319.98 L1065.5 319.96 L1065.01 319.94 L1064.52 319.92 L1064.04 319.88 L1063.57 319.83 L1063.11 319.76 L1062.64 319.67 L1062.17 319.58 L1061.67 319.49 L1061.16 319.4 L1060.61 319.33 L1060.05 319.27 L1059.45 319.25 L1058.85 319.24 L1058.24 319.25 L1057.62 319.27 L1057.01 319.28 L1056.41 319.29 L1055.82 319.28 L1055.25 319.25 L1054.69 319.18 L1054.12 319.1 L1053.54 318.99 L1052.95 318.88 L1052.35 318.76 L1051.74 318.65 L1051.11 318.55 L1050.48 318.48 L1049.87 318.43 L1049.25 318.39 L1048.64 318.36 L1048.02 318.35 L1047.41 318.34 L1046.79 318.35 L1046.18 318.36 L1045.55 318.39 L1044.91 318.45 L1044.27 318.54 L1043.65 318.64 L1043.05 318.75 L1042.45 318.85 L1041.88 318.94 L1041.32 318.99 L1040.78 319.02 L1040.2 319 L1039.56 318.95 L1038.89 318.87 L1038.22 318.77 L1037.58 318.67 L1037 318.58 L1036.5 318.5 L1036.12 318.44Z" fill="#b49a6d"/>
<path d="M1084.28 320.41 L1084.55 320.22 L1084.9 319.96 L1085.33 319.66 L1085.8 319.31 L1086.3 318.95 L1086.8 318.57 L1087.28 318.19 L1087.73 317.83 L1088.16 317.45 L1088.61 317.03 L1089.06 316.6 L1089.51 316.17 L1089.92 315.76 L1090.29 315.39 L1090.6 315.08 L1090.84 314.85 L1090.5 314.48 L1090.25 314.7 L1089.92 314.99 L1089.53 315.34 L1089.09 315.72 L1088.63 316.12 L1088.16 316.52 L1087.69 316.9 L1087.26 317.24 L1086.81 317.56 L1086.32 317.9 L1085.81 318.25 L1085.3 318.58 L1084.81 318.89 L1084.37 319.17 L1083.99 319.41 L1083.72 319.59Z" fill="#b49a6d"/>
<path d="M1093.63 321.07 L1093.91 320.85 L1094.29 320.56 L1094.74 320.21 L1095.24 319.82 L1095.77 319.42 L1096.3 319.03 L1096.83 318.66 L1097.33 318.33 L1097.85 318.03 L1098.41 317.72 L1099.01 317.41 L1099.6 317.12 L1100.17 316.84 L1100.68 316.59 L1101.11 316.39 L1101.44 316.23 L1101.23 315.77 L1100.9 315.91 L1100.46 316.1 L1099.93 316.32 L1099.35 316.56 L1098.73 316.83 L1098.11 317.11 L1097.51 317.4 L1096.96 317.69 L1096.41 318 L1095.85 318.35 L1095.27 318.73 L1094.72 319.1 L1094.19 319.46 L1093.73 319.79 L1093.34 320.06 L1093.04 320.26Z" fill="#b49a6d"/>
<path d="M1033.26 315.47 L1033.04 315.23 L1032.75 314.92 L1032.4 314.56 L1032.03 314.16 L1031.64 313.73 L1031.25 313.3 L1030.9 312.88 L1030.6 312.49 L1030.36 312.12 L1030.14 311.71 L1029.94 311.27 L1029.72 310.81 L1029.49 310.32 L1029.22 309.82 L1028.89 309.33 L1028.5 308.87 L1028.04 308.44 L1027.54 308.06 L1027.02 307.71 L1026.48 307.38 L1025.93 307.06 L1025.38 306.75 L1024.86 306.44 L1024.35 306.12 L1023.8 305.79 L1023.22 305.47 L1022.64 305.14 L1022.07 304.83 L1021.54 304.52 L1021.07 304.22 L1020.69 303.93 L1020.42 303.66 L1020.28 303.43 L1020.2 303.21 L1020.17 302.95 L1020.18 302.66 L1020.21 302.32 L1020.25 301.95 L1020.25 301.55 L1020.18 301.12 L1020.03 300.7 L1019.81 300.31 L1019.58 299.95 L1019.36 299.62 L1019.19 299.32 L1019.08 299.09 L1019.05 298.96 L1019.06 298.9 L1019.15 298.82 L1019.39 298.68 L1019.77 298.55 L1020.23 298.41 L1020.74 298.27 L1021.26 298.11 L1021.77 297.92 L1022.24 297.66 L1022.64 297.36 L1023 297.02 L1023.33 296.66 L1023.65 296.3 L1023.95 295.95 L1024.26 295.62 L1024.57 295.32 L1024.89 295.06 L1025.27 294.83 L1025.7 294.61 L1026.16 294.39 L1026.63 294.19 L1027.08 294.01 L1027.5 293.86 L1027.85 293.72 L1028.11 293.61 L1027.89 293.05 L1027.63 293.15 L1027.28 293.28 L1026.86 293.42 L1026.4 293.59 L1025.9 293.78 L1025.41 293.99 L1024.93 294.22 L1024.5 294.48 L1024.1 294.77 L1023.74 295.1 L1023.4 295.45 L1023.08 295.8 L1022.76 296.14 L1022.45 296.46 L1022.13 296.74 L1021.81 296.98 L1021.44 297.16 L1021 297.31 L1020.51 297.45 L1020 297.57 L1019.5 297.7 L1019.04 297.86 L1018.61 298.08 L1018.27 298.43 L1018.13 298.9 L1018.18 299.35 L1018.34 299.74 L1018.55 300.11 L1018.76 300.47 L1018.97 300.8 L1019.12 301.11 L1019.21 301.36 L1019.24 301.61 L1019.23 301.89 L1019.19 302.21 L1019.14 302.58 L1019.12 302.98 L1019.16 303.42 L1019.3 303.89 L1019.58 304.34 L1019.96 304.74 L1020.42 305.12 L1020.93 305.47 L1021.49 305.82 L1022.06 306.16 L1022.63 306.49 L1023.18 306.82 L1023.69 307.16 L1024.2 307.5 L1024.74 307.83 L1025.27 308.16 L1025.8 308.48 L1026.29 308.8 L1026.75 309.13 L1027.16 309.46 L1027.5 309.8 L1027.78 310.15 L1028.02 310.53 L1028.23 310.94 L1028.43 311.39 L1028.62 311.86 L1028.83 312.34 L1029.08 312.84 L1029.38 313.33 L1029.72 313.8 L1030.09 314.27 L1030.48 314.74 L1030.88 315.2 L1031.25 315.62 L1031.59 315.99 L1031.87 316.3 L1032.07 316.53Z" fill="#b49a6d"/>
<path d="M1034.67 316.2 L1034.77 315.83 L1034.91 315.34 L1035.07 314.76 L1035.25 314.11 L1035.45 313.43 L1035.65 312.74 L1035.85 312.08 L1036.05 311.46 L1036.24 310.84 L1036.43 310.19 L1036.62 309.54 L1036.81 308.91 L1037.02 308.32 L1037.23 307.79 L1037.46 307.34 L1037.7 307.01 L1037.95 306.79 L1038.24 306.64 L1038.57 306.53 L1038.96 306.46 L1039.38 306.41 L1039.83 306.35 L1040.3 306.27 L1040.75 306.13 L1041.16 305.96 L1041.56 305.78 L1041.95 305.6 L1042.34 305.41 L1042.72 305.22 L1043.1 305.02 L1043.47 304.82 L1043.85 304.62 L1044.25 304.41 L1044.67 304.17 L1045.1 303.93 L1045.53 303.68 L1045.93 303.45 L1046.28 303.24 L1046.59 303.06 L1046.81 302.93 L1046.52 302.4 L1046.29 302.53 L1045.98 302.69 L1045.61 302.89 L1045.21 303.1 L1044.78 303.33 L1044.34 303.56 L1043.91 303.77 L1043.51 303.97 L1043.13 304.15 L1042.75 304.33 L1042.37 304.51 L1041.99 304.69 L1041.61 304.86 L1041.23 305.02 L1040.84 305.17 L1040.47 305.31 L1040.11 305.4 L1039.71 305.46 L1039.29 305.49 L1038.83 305.53 L1038.36 305.6 L1037.88 305.73 L1037.4 305.97 L1036.97 306.32 L1036.6 306.79 L1036.29 307.33 L1036.02 307.92 L1035.78 308.55 L1035.55 309.2 L1035.33 309.85 L1035.12 310.48 L1034.91 311.07 L1034.68 311.69 L1034.45 312.36 L1034.22 313.05 L1034 313.73 L1033.79 314.37 L1033.6 314.95 L1033.45 315.43 L1033.33 315.8Z" fill="#b49a6d"/>
<path d="M1035.17 317.15 L1035.43 316.87 L1035.78 316.5 L1036.19 316.06 L1036.65 315.57 L1037.14 315.04 L1037.63 314.51 L1038.1 313.98 L1038.54 313.5 L1038.95 313.04 L1039.38 312.58 L1039.82 312.12 L1040.27 311.65 L1040.7 311.16 L1041.1 310.66 L1041.48 310.14 L1041.8 309.59 L1042.06 309.02 L1042.26 308.44 L1042.42 307.86 L1042.55 307.29 L1042.65 306.71 L1042.74 306.15 L1042.84 305.59 L1042.95 305.04 L1043.07 304.49 L1043.18 303.94 L1043.3 303.38 L1043.41 302.82 L1043.51 302.26 L1043.61 301.7 L1043.7 301.13 L1043.79 300.57 L1043.88 299.97 L1043.96 299.33 L1044.03 298.67 L1044.1 298.02 L1044.16 297.4 L1044.22 296.85 L1044.26 296.38 L1044.3 296.04 L1043.7 295.96 L1043.65 296.31 L1043.59 296.78 L1043.52 297.33 L1043.44 297.94 L1043.35 298.58 L1043.25 299.23 L1043.15 299.86 L1043.05 300.45 L1042.94 301 L1042.83 301.55 L1042.71 302.1 L1042.59 302.65 L1042.47 303.2 L1042.33 303.75 L1042.2 304.29 L1042.06 304.85 L1041.93 305.41 L1041.81 305.97 L1041.7 306.53 L1041.58 307.08 L1041.45 307.61 L1041.29 308.12 L1041.1 308.61 L1040.87 309.08 L1040.58 309.53 L1040.24 309.98 L1039.85 310.42 L1039.43 310.86 L1038.99 311.3 L1038.53 311.75 L1038.08 312.2 L1037.63 312.66 L1037.18 313.13 L1036.7 313.63 L1036.19 314.14 L1035.69 314.65 L1035.22 315.12 L1034.79 315.55 L1034.43 315.91 L1034.16 316.18Z" fill="#b49a6d"/>
<path d="M1035.58 317.88 L1035.9 317.73 L1036.33 317.51 L1036.83 317.27 L1037.38 316.99 L1037.97 316.72 L1038.56 316.45 L1039.14 316.21 L1039.67 316.02 L1040.19 315.88 L1040.75 315.78 L1041.35 315.7 L1041.96 315.62 L1042.56 315.54 L1043.15 315.43 L1043.71 315.27 L1044.21 315.04 L1044.63 314.72 L1044.96 314.36 L1045.22 313.96 L1045.42 313.56 L1045.6 313.16 L1045.77 312.78 L1045.94 312.42 L1046.15 312.1 L1046.4 311.76 L1046.68 311.39 L1046.99 311.02 L1047.29 310.65 L1047.58 310.3 L1047.84 309.99 L1048.06 309.73 L1048.23 309.53 L1047.77 309.14 L1047.6 309.33 L1047.37 309.58 L1047.1 309.88 L1046.79 310.22 L1046.47 310.58 L1046.15 310.95 L1045.84 311.32 L1045.55 311.68 L1045.3 312.05 L1045.09 312.44 L1044.9 312.83 L1044.72 313.21 L1044.53 313.55 L1044.32 313.85 L1044.08 314.1 L1043.79 314.3 L1043.42 314.45 L1042.96 314.56 L1042.44 314.64 L1041.86 314.69 L1041.24 314.74 L1040.61 314.8 L1039.98 314.89 L1039.38 315.03 L1038.77 315.23 L1038.15 315.46 L1037.52 315.71 L1036.91 315.97 L1036.34 316.23 L1035.83 316.46 L1035.4 316.65 L1035.09 316.79Z" fill="#b49a6d"/>
<path d="M1030.99 316.71 L1030.69 316.56 L1030.29 316.36 L1029.82 316.11 L1029.29 315.84 L1028.72 315.55 L1028.14 315.26 L1027.58 314.99 L1027.05 314.74 L1026.54 314.51 L1026.03 314.29 L1025.53 314.07 L1025.02 313.86 L1024.51 313.65 L1023.99 313.45 L1023.48 313.25 L1022.98 313.05 L1022.48 312.84 L1021.99 312.62 L1021.5 312.4 L1020.98 312.17 L1020.46 311.96 L1019.91 311.77 L1019.34 311.61 L1018.75 311.5 L1018.13 311.43 L1017.51 311.42 L1016.87 311.43 L1016.24 311.48 L1015.6 311.54 L1014.97 311.6 L1014.35 311.67 L1013.74 311.73 L1013.12 311.79 L1012.51 311.87 L1011.89 311.95 L1011.29 312.04 L1010.68 312.13 L1010.08 312.21 L1009.48 312.28 L1008.88 312.33 L1008.25 312.36 L1007.56 312.38 L1006.85 312.38 L1006.15 312.38 L1005.49 312.38 L1004.89 312.37 L1004.38 312.37 L1004 312.37 L1004 312.97 L1004.37 312.98 L1004.87 313 L1005.47 313.02 L1006.14 313.05 L1006.85 313.07 L1007.56 313.08 L1008.26 313.08 L1008.92 313.07 L1009.54 313.03 L1010.16 312.98 L1010.78 312.92 L1011.39 312.85 L1012 312.78 L1012.61 312.71 L1013.21 312.65 L1013.81 312.61 L1014.43 312.57 L1015.06 312.52 L1015.68 312.47 L1016.3 312.43 L1016.91 312.41 L1017.49 312.41 L1018.06 312.44 L1018.59 312.5 L1019.09 312.62 L1019.58 312.77 L1020.07 312.95 L1020.55 313.17 L1021.03 313.4 L1021.52 313.64 L1022.02 313.88 L1022.53 314.11 L1023.04 314.32 L1023.54 314.54 L1024.04 314.76 L1024.54 314.97 L1025.03 315.2 L1025.53 315.42 L1026.02 315.65 L1026.5 315.89 L1027.01 316.14 L1027.55 316.43 L1028.11 316.73 L1028.66 317.03 L1029.18 317.31 L1029.65 317.57 L1030.04 317.79 L1030.34 317.95Z" fill="#b49a6d"/>
<path d="M1018.9 311.56 L1018.56 311.39 L1018.11 311.17 L1017.58 310.92 L1016.99 310.64 L1016.38 310.33 L1015.76 310.01 L1015.17 309.69 L1014.64 309.37 L1014.13 309.03 L1013.58 308.64 L1013.02 308.22 L1012.48 307.79 L1011.97 307.39 L1011.51 307.02 L1011.12 306.71 L1010.83 306.47 L1010.51 306.86 L1010.79 307.1 L1011.16 307.43 L1011.6 307.83 L1012.09 308.26 L1012.62 308.72 L1013.16 309.18 L1013.7 309.61 L1014.23 309.99 L1014.77 310.36 L1015.36 310.72 L1015.97 311.08 L1016.58 311.42 L1017.16 311.74 L1017.68 312.02 L1018.11 312.26 L1018.43 312.44Z" fill="#b49a6d"/>
<path d="M1030.57 318.64 L1030.26 318.69 L1029.85 318.75 L1029.36 318.83 L1028.82 318.91 L1028.24 319 L1027.65 319.09 L1027.09 319.18 L1026.56 319.27 L1026.05 319.36 L1025.55 319.44 L1025.05 319.53 L1024.55 319.61 L1024.05 319.7 L1023.55 319.79 L1023.05 319.89 L1022.54 319.98 L1022.03 320.1 L1021.52 320.23 L1021.03 320.36 L1020.55 320.49 L1020.08 320.61 L1019.61 320.71 L1019.13 320.79 L1018.66 320.82 L1018.16 320.82 L1017.64 320.79 L1017.11 320.73 L1016.56 320.65 L1016 320.55 L1015.44 320.46 L1014.87 320.36 L1014.31 320.28 L1013.76 320.19 L1013.22 320.1 L1012.67 320 L1012.11 319.9 L1011.55 319.81 L1010.99 319.72 L1010.43 319.65 L1009.85 319.61 L1009.25 319.58 L1008.61 319.58 L1007.95 319.59 L1007.3 319.61 L1006.68 319.64 L1006.13 319.67 L1005.67 319.69 L1005.33 319.7 L1005.34 320.3 L1005.69 320.3 L1006.15 320.29 L1006.7 320.28 L1007.31 320.27 L1007.95 320.27 L1008.6 320.28 L1009.22 320.3 L1009.8 320.34 L1010.34 320.41 L1010.88 320.49 L1011.42 320.59 L1011.96 320.7 L1012.51 320.81 L1013.06 320.93 L1013.61 321.04 L1014.17 321.14 L1014.72 321.24 L1015.27 321.36 L1015.83 321.47 L1016.4 321.59 L1016.97 321.69 L1017.54 321.77 L1018.11 321.82 L1018.68 321.84 L1019.24 321.82 L1019.78 321.75 L1020.3 321.66 L1020.81 321.55 L1021.31 321.43 L1021.8 321.31 L1022.27 321.2 L1022.75 321.11 L1023.25 321.03 L1023.74 320.95 L1024.24 320.88 L1024.74 320.81 L1025.24 320.74 L1025.74 320.67 L1026.24 320.6 L1026.74 320.53 L1027.27 320.46 L1027.84 320.39 L1028.42 320.31 L1029 320.24 L1029.55 320.18 L1030.04 320.12 L1030.45 320.07 L1030.76 320.03Z" fill="#b49a6d"/>
<path d="M1030.95 320.08 L1030.71 320.25 L1030.39 320.46 L1030 320.72 L1029.57 321.02 L1029.11 321.34 L1028.65 321.67 L1028.21 322.02 L1027.8 322.37 L1027.43 322.73 L1027.1 323.1 L1026.78 323.49 L1026.48 323.87 L1026.18 324.25 L1025.89 324.61 L1025.59 324.95 L1025.28 325.27 L1024.95 325.57 L1024.59 325.87 L1024.2 326.16 L1023.81 326.45 L1023.41 326.74 L1023.02 327.05 L1022.66 327.37 L1022.34 327.71 L1022.07 328.06 L1021.84 328.42 L1021.65 328.77 L1021.49 329.12 L1021.35 329.47 L1021.21 329.81 L1021.08 330.14 L1020.93 330.47 L1020.76 330.83 L1020.59 331.22 L1020.41 331.61 L1020.24 332.01 L1020.08 332.38 L1019.94 332.72 L1019.82 333 L1019.73 333.21 L1020.27 333.46 L1020.37 333.25 L1020.51 332.98 L1020.67 332.65 L1020.84 332.28 L1021.03 331.9 L1021.22 331.51 L1021.41 331.14 L1021.59 330.79 L1021.76 330.45 L1021.92 330.11 L1022.07 329.78 L1022.22 329.46 L1022.38 329.15 L1022.56 328.85 L1022.76 328.57 L1022.99 328.29 L1023.27 328.03 L1023.6 327.76 L1023.96 327.5 L1024.36 327.23 L1024.77 326.96 L1025.19 326.67 L1025.6 326.37 L1026 326.04 L1026.37 325.69 L1026.71 325.33 L1027.04 324.96 L1027.35 324.59 L1027.66 324.24 L1027.97 323.9 L1028.29 323.58 L1028.61 323.29 L1028.97 323 L1029.39 322.71 L1029.84 322.41 L1030.29 322.12 L1030.73 321.86 L1031.13 321.62 L1031.47 321.41 L1031.72 321.25Z" fill="#b49a6d"/>
<path d="M1032.03 321.04 L1031.9 321.34 L1031.72 321.74 L1031.51 322.22 L1031.27 322.76 L1031.02 323.33 L1030.78 323.92 L1030.54 324.49 L1030.34 325.04 L1030.16 325.57 L1030 326.1 L1029.85 326.62 L1029.71 327.15 L1029.58 327.67 L1029.44 328.18 L1029.29 328.68 L1029.13 329.18 L1028.95 329.67 L1028.74 330.17 L1028.51 330.68 L1028.28 331.19 L1028.06 331.71 L1027.85 332.23 L1027.69 332.74 L1027.57 333.25 L1027.52 333.75 L1027.53 334.23 L1027.57 334.68 L1027.65 335.11 L1027.73 335.51 L1027.8 335.9 L1027.86 336.29 L1027.89 336.67 L1027.89 337.09 L1027.87 337.56 L1027.85 338.04 L1027.81 338.51 L1027.78 338.96 L1027.75 339.37 L1027.72 339.71 L1027.7 339.97 L1028.3 340.03 L1028.33 339.77 L1028.37 339.43 L1028.42 339.03 L1028.47 338.57 L1028.52 338.09 L1028.57 337.6 L1028.6 337.12 L1028.62 336.66 L1028.61 336.22 L1028.56 335.79 L1028.5 335.38 L1028.44 334.98 L1028.39 334.58 L1028.36 334.19 L1028.37 333.81 L1028.43 333.41 L1028.54 333 L1028.71 332.55 L1028.91 332.08 L1029.15 331.6 L1029.4 331.1 L1029.65 330.59 L1029.9 330.07 L1030.12 329.54 L1030.31 329.02 L1030.48 328.5 L1030.65 327.98 L1030.81 327.46 L1030.96 326.95 L1031.13 326.45 L1031.3 325.96 L1031.48 325.47 L1031.7 324.97 L1031.94 324.42 L1032.2 323.87 L1032.47 323.32 L1032.73 322.79 L1032.96 322.33 L1033.16 321.93 L1033.3 321.63Z" fill="#b49a6d"/>
<path d="M1033.2 321.42 L1033.24 321.73 L1033.3 322.13 L1033.36 322.62 L1033.43 323.16 L1033.51 323.73 L1033.58 324.31 L1033.65 324.87 L1033.72 325.4 L1033.79 325.9 L1033.86 326.4 L1033.93 326.9 L1034 327.39 L1034.07 327.88 L1034.13 328.37 L1034.17 328.85 L1034.21 329.32 L1034.21 329.8 L1034.18 330.3 L1034.13 330.83 L1034.08 331.38 L1034.04 331.92 L1034.02 332.46 L1034.05 332.98 L1034.15 333.48 L1034.34 333.92 L1034.58 334.3 L1034.86 334.62 L1035.16 334.88 L1035.46 335.12 L1035.75 335.33 L1036.02 335.53 L1036.26 335.74 L1036.51 336 L1036.78 336.29 L1037.07 336.61 L1037.36 336.93 L1037.66 337.23 L1037.96 337.48 L1038.29 337.67 L1038.7 337.74 L1039.1 337.57 L1039.34 337.29 L1039.49 336.96 L1039.61 336.62 L1039.72 336.26 L1039.83 335.92 L1039.94 335.61 L1040.06 335.36 L1040.23 335.13 L1040.42 334.86 L1040.64 334.6 L1040.86 334.34 L1041.07 334.09 L1041.27 333.87 L1041.43 333.68 L1041.56 333.53 L1041.11 333.13 L1040.98 333.27 L1040.81 333.45 L1040.61 333.66 L1040.38 333.9 L1040.14 334.17 L1039.9 334.44 L1039.67 334.71 L1039.47 334.99 L1039.28 335.31 L1039.13 335.66 L1039 336.02 L1038.88 336.36 L1038.77 336.66 L1038.66 336.86 L1038.6 336.94 L1038.63 336.93 L1038.61 336.91 L1038.46 336.81 L1038.25 336.61 L1038 336.34 L1037.74 336.03 L1037.46 335.7 L1037.19 335.37 L1036.92 335.07 L1036.64 334.81 L1036.35 334.56 L1036.07 334.34 L1035.82 334.12 L1035.6 333.91 L1035.41 333.69 L1035.28 333.45 L1035.18 333.19 L1035.13 332.87 L1035.13 332.47 L1035.16 332.01 L1035.23 331.51 L1035.3 330.97 L1035.38 330.42 L1035.43 329.86 L1035.45 329.3 L1035.44 328.77 L1035.41 328.26 L1035.38 327.74 L1035.33 327.24 L1035.28 326.73 L1035.23 326.23 L1035.18 325.74 L1035.13 325.25 L1035.09 324.72 L1035.04 324.15 L1034.99 323.57 L1034.95 323 L1034.9 322.45 L1034.86 321.97 L1034.82 321.56 L1034.8 321.25Z" fill="#b49a6d"/>
<path d="M1034.82 321.14 L1035.02 321.35 L1035.28 321.63 L1035.6 321.98 L1035.96 322.36 L1036.34 322.76 L1036.73 323.16 L1037.12 323.55 L1037.49 323.9 L1037.85 324.23 L1038.21 324.55 L1038.57 324.87 L1038.94 325.18 L1039.31 325.49 L1039.69 325.79 L1040.07 326.09 L1040.47 326.38 L1040.92 326.67 L1041.4 326.92 L1041.88 327.15 L1042.34 327.36 L1042.76 327.57 L1043.12 327.79 L1043.39 328.01 L1043.56 328.24 L1043.66 328.49 L1043.71 328.81 L1043.69 329.21 L1043.64 329.65 L1043.57 330.14 L1043.51 330.64 L1043.48 331.17 L1043.53 331.68 L1043.66 332.18 L1043.83 332.64 L1044.03 333.08 L1044.24 333.51 L1044.45 333.93 L1044.64 334.34 L1044.79 334.74 L1044.9 335.14 L1044.98 335.57 L1045.02 336.06 L1045.04 336.57 L1045.05 337.08 L1045.05 337.56 L1045.04 338 L1045.03 338.38 L1045.03 338.66 L1045.63 338.67 L1045.64 338.4 L1045.66 338.03 L1045.68 337.58 L1045.71 337.09 L1045.72 336.56 L1045.71 336.02 L1045.68 335.49 L1045.62 334.99 L1045.5 334.52 L1045.34 334.05 L1045.16 333.61 L1044.96 333.17 L1044.77 332.75 L1044.6 332.34 L1044.47 331.93 L1044.38 331.55 L1044.36 331.16 L1044.39 330.73 L1044.47 330.27 L1044.56 329.79 L1044.63 329.3 L1044.67 328.79 L1044.62 328.27 L1044.44 327.76 L1044.12 327.33 L1043.73 326.97 L1043.29 326.68 L1042.82 326.42 L1042.36 326.18 L1041.9 325.95 L1041.49 325.71 L1041.13 325.46 L1040.78 325.18 L1040.42 324.89 L1040.07 324.59 L1039.72 324.28 L1039.38 323.97 L1039.04 323.65 L1038.71 323.32 L1038.37 323 L1038.04 322.65 L1037.68 322.26 L1037.31 321.86 L1036.95 321.45 L1036.61 321.06 L1036.31 320.71 L1036.05 320.42 L1035.85 320.19Z" fill="#b49a6d"/>
<path d="M1037.78 321.4 L1037.63 321.62 L1037.47 321.84 L1037.27 322.03 L1037.04 322.16 L1036.73 322.19 L1036.37 322.15 L1036.02 322.11 L1035.72 322.14 L1035.51 322.3 L1035.36 322.53 L1035.21 322.77 L1035.03 322.93 L1034.79 322.99 L1034.51 322.99 L1034.23 322.96 L1033.96 322.95 L1033.69 322.98 L1033.42 323.01 L1033.15 323.03 L1032.9 323 L1032.66 322.89 L1032.43 322.72 L1032.2 322.55 L1031.98 322.4 L1031.75 322.29 L1031.52 322.19 L1031.29 322.11 L1031.05 322.01 L1030.8 321.91 L1030.54 321.82 L1030.3 321.71 L1030.09 321.56 L1029.94 321.37 L1029.83 321.14 L1029.73 320.9 L1029.6 320.68 L1029.43 320.48 L1029.23 320.29 L1029.04 320.1 L1028.93 319.89 L1028.92 319.66 L1028.98 319.41 L1029.05 319.16 L1029.1 318.91 L1029.1 318.69 L1029.09 318.48 L1029.06 318.26 L1029.02 318.03 L1028.91 317.76 L1028.77 317.48 L1028.65 317.2 L1028.63 316.95 L1028.73 316.74 L1028.92 316.56 L1029.14 316.39 L1029.33 316.21 L1029.48 316.01 L1029.61 315.82 L1029.75 315.62 L1029.9 315.43 L1030.05 315.22 L1030.21 315.01 L1030.39 314.82 L1030.6 314.68 L1030.85 314.61 L1031.14 314.59 L1031.43 314.6 L1031.72 314.61 L1031.99 314.64 L1032.25 314.69 L1032.5 314.73 L1032.76 314.72 L1033.02 314.59 L1033.27 314.39 L1033.53 314.2 L1033.79 314.11 L1034.05 314.15 L1034.31 314.27 L1034.57 314.42 L1034.83 314.55 L1035.09 314.65 L1035.35 314.75 L1035.61 314.85 L1035.85 314.98 L1036.07 315.13 L1036.28 315.31 L1036.48 315.49 L1036.7 315.66 L1036.96 315.82 L1037.25 315.96 L1037.51 316.12 L1037.68 316.32 L1037.73 316.58 L1037.69 316.88 L1037.63 317.19 L1037.65 317.47 L1037.79 317.71 L1037.99 317.93 L1038.18 318.15 L1038.29 318.38 L1038.25 318.61 L1038.13 318.85 L1037.99 319.1 L1037.93 319.35 L1037.98 319.62 L1038.09 319.9 L1038.2 320.19 L1038.24 320.45 L1038.19 320.71 L1038.08 320.95 L1037.94 321.18Z" fill="#b49a6d"/>
<circle cx="1033.33" cy="318.67" r="2.1" fill="#a9b5cc" stroke="#5a6070" stroke-width="0.5"/>
<circle cx="994.7" cy="247.3" r="2.0" fill="#a8374a"/>
<path d="M844.7 448.41 L842.65 446.7 L839.83 444.36 L836.46 441.56 L832.77 438.5 L828.99 435.34 L825.34 432.28 L822.06 429.5 L819.38 427.18 L817.32 425.31 L815.65 423.69 L814.26 422.25 L813.02 420.93 L811.83 419.66 L810.58 418.39 L809.16 417.08 L807.48 415.67 L805.47 414.18 L803.23 412.67 L800.86 411.17 L798.47 409.69 L796.14 408.24 L793.99 406.84 L792.13 405.52 L790.66 404.31 L789.58 403.16 L788.75 402.02 L788.14 400.89 L787.68 399.81 L787.35 398.8 L787.08 397.87 L786.84 397.04 L786.58 396.38 L785.09 396.95 L785.3 397.53 L785.49 398.3 L785.73 399.27 L786.07 400.39 L786.54 401.64 L787.21 402.96 L788.13 404.32 L789.34 405.69 L790.91 407.07 L792.82 408.52 L794.97 410.02 L797.26 411.56 L799.6 413.12 L801.88 414.67 L804 416.19 L805.85 417.67 L807.38 419.04 L808.67 420.31 L809.81 421.54 L810.93 422.82 L812.14 424.2 L813.54 425.74 L815.22 427.48 L817.28 429.48 L819.92 431.92 L823.12 434.83 L826.68 438.01 L830.36 441.3 L833.95 444.48 L837.23 447.39 L839.97 449.82 L841.96 451.59Z" fill="#b1b78a" stroke="#929968" stroke-width="0.55" stroke-linejoin="round"/>
<path d="M848.68 447.27 L849.23 445.28 L850.07 442.52 L851.09 439.2 L852.17 435.54 L853.2 431.75 L854.07 428.05 L854.67 424.64 L854.87 421.69 L854.64 419.23 L854.07 417.1 L853.25 415.25 L852.24 413.62 L851.12 412.14 L849.96 410.72 L848.8 409.27 L847.67 407.67 L846.4 405.79 L844.9 403.72 L843.27 401.56 L841.62 399.41 L840.03 397.38 L838.58 395.54 L837.36 394 L836.48 392.86 L835.19 393.81 L836.03 395 L837.18 396.59 L838.55 398.49 L840.05 400.59 L841.59 402.78 L843.1 404.98 L844.48 407.08 L845.66 409 L846.78 410.73 L847.92 412.3 L849 413.74 L849.95 415.13 L850.74 416.52 L851.33 418 L851.7 419.68 L851.8 421.64 L851.51 424.17 L850.82 427.31 L849.83 430.82 L848.66 434.46 L847.44 438.02 L846.29 441.28 L845.31 444.04 L844.66 446.06Z" fill="#b1b78a" stroke="#929968" stroke-width="0.55" stroke-linejoin="round"/>
<path d="M851.55 449.6 L852.6 448.23 L854.07 446.34 L855.84 444.08 L857.77 441.59 L859.72 439.04 L861.57 436.56 L863.19 434.31 L864.46 432.41 L865.35 430.82 L865.95 429.41 L866.34 428.17 L866.57 427.09 L866.74 426.17 L866.91 425.39 L867.15 424.68 L867.54 423.95 L868.16 423.14 L868.94 422.29 L869.84 421.44 L870.78 420.62 L871.71 419.85 L872.57 419.17 L873.3 418.58 L873.84 418.12 L872.83 416.88 L872.29 417.28 L871.55 417.81 L870.64 418.45 L869.64 419.18 L868.59 419.98 L867.57 420.84 L866.61 421.75 L865.79 422.72 L865.17 423.72 L864.76 424.7 L864.49 425.64 L864.26 426.56 L864 427.48 L863.63 428.47 L863.06 429.6 L862.21 430.92 L860.92 432.62 L859.21 434.72 L857.24 437.04 L855.15 439.45 L853.09 441.8 L851.19 443.95 L849.59 445.75 L848.45 447.07Z" fill="#b1b78a" stroke="#929968" stroke-width="0.55" stroke-linejoin="round"/>
<path d="M867.64 423.66 L867.39 423.22 L867.08 422.62 L866.69 421.88 L866.25 421.06 L865.75 420.19 L865.2 419.32 L864.61 418.5 L863.97 417.75 L863.23 417.09 L862.4 416.45 L861.5 415.85 L860.6 415.29 L859.73 414.78 L858.95 414.33 L858.3 413.95 L857.83 413.67 L857.17 414.67 L857.63 415 L858.26 415.43 L859.01 415.93 L859.82 416.48 L860.64 417.08 L861.43 417.7 L862.14 418.32 L862.7 418.91 L863.18 419.55 L863.64 420.3 L864.07 421.12 L864.48 421.96 L864.85 422.78 L865.17 423.54 L865.46 424.19 L865.69 424.67Z" fill="#b1b78a" stroke="#929968" stroke-width="0.55" stroke-linejoin="round"/>
<path d="M852.56 451.07 L854.59 450.07 L857.48 448.74 L860.95 447.13 L864.74 445.34 L868.57 443.46 L872.17 441.55 L875.3 439.68 L877.73 437.89 L879.36 435.97 L880.21 433.91 L880.44 431.93 L880.35 430.17 L880.19 428.67 L880.17 427.51 L880.34 426.74 L880.83 426.13 L881.94 425.58 L883.67 425.22 L885.85 425.02 L888.28 424.9 L890.79 424.74 L893.24 424.39 L895.5 423.71 L897.41 422.49 L898.8 420.66 L899.81 418.42 L900.57 415.92 L901.13 413.32 L901.56 410.77 L901.89 408.45 L902.17 406.53 L902.45 405.17 L900.89 404.83 L900.55 406.22 L900.19 408.17 L899.79 410.46 L899.29 412.93 L898.66 415.4 L897.89 417.67 L896.97 419.55 L895.93 420.85 L894.6 421.62 L892.78 422.09 L890.58 422.32 L888.18 422.39 L885.72 422.43 L883.33 422.57 L881.11 422.97 L879.17 423.87 L877.84 425.37 L877.3 427.11 L877.26 428.79 L877.36 430.35 L877.39 431.8 L877.21 433.09 L876.7 434.25 L875.6 435.45 L873.52 436.87 L870.54 438.51 L866.99 440.23 L863.18 441.95 L859.37 443.59 L855.86 445.07 L852.89 446.32 L850.78 447.26Z" fill="#b1b78a" stroke="#929968" stroke-width="0.55" stroke-linejoin="round"/>
<path d="M852.88 452.8 L854.47 452.44 L856.61 451.98 L859.16 451.43 L861.99 450.82 L864.99 450.15 L868.01 449.45 L870.95 448.73 L873.66 448.02 L876.35 447.25 L879.2 446.37 L882.1 445.44 L884.94 444.5 L887.62 443.6 L890.03 442.79 L892.04 442.1 L893.56 441.6 L893.1 440.07 L891.55 440.49 L889.49 441.05 L887.05 441.73 L884.33 442.48 L881.45 443.25 L878.53 444 L875.67 444.71 L873 445.31 L870.31 445.86 L867.38 446.4 L864.35 446.92 L861.34 447.41 L858.49 447.86 L855.92 448.26 L853.75 448.6 L852.12 448.87Z" fill="#b1b78a" stroke="#929968" stroke-width="0.55" stroke-linejoin="round"/>
<path d="M851.19 456.94 L852.81 457.3 L854.94 457.8 L857.49 458.4 L860.35 459.06 L863.44 459.74 L866.66 460.39 L869.91 460.98 L873.11 461.45 L876.51 461.82 L880.31 462.15 L884.32 462.42 L888.35 462.66 L892.2 462.86 L895.69 463.03 L898.61 463.17 L900.77 463.3 L900.9 461.7 L898.74 461.47 L895.82 461.19 L892.35 460.85 L888.52 460.47 L884.53 460.04 L880.57 459.57 L876.85 459.08 L873.55 458.55 L870.48 457.95 L867.34 457.23 L864.22 456.44 L861.21 455.62 L858.41 454.83 L855.91 454.11 L853.78 453.5 L852.15 453.06Z" fill="#b1b78a" stroke="#929968" stroke-width="0.55" stroke-linejoin="round"/>
<path d="M842.13 454.95 L840.33 456.26 L837.97 458.09 L835.21 460.26 L832.14 462.59 L828.91 464.92 L825.63 467.07 L822.44 468.87 L819.5 470.15 L816.64 470.91 L813.6 471.3 L810.43 471.42 L807.2 471.36 L803.98 471.21 L800.8 471.09 L797.74 471.11 L794.86 471.38 L792.12 471.9 L789.43 472.57 L786.84 473.34 L784.4 474.16 L782.16 474.96 L780.19 475.69 L778.54 476.3 L777.26 476.74 L777.74 478.26 L779.06 477.87 L780.75 477.31 L782.74 476.65 L784.98 475.94 L787.4 475.23 L789.94 474.58 L792.55 474.02 L795.14 473.62 L797.81 473.48 L800.72 473.57 L803.82 473.8 L807.07 474.06 L810.4 474.25 L813.79 474.25 L817.17 473.93 L820.5 473.18 L823.87 471.86 L827.37 470.05 L830.89 467.92 L834.31 465.64 L837.52 463.37 L840.39 461.3 L842.76 459.59 L844.54 458.39Z" fill="#b1b78a" stroke="#929968" stroke-width="0.55" stroke-linejoin="round"/>
<path d="M841.52 457.49 L841.16 458.35 L840.64 459.49 L840.01 460.88 L839.31 462.46 L838.59 464.17 L837.91 465.96 L837.31 467.8 L836.85 469.62 L836.49 471.5 L836.19 473.56 L835.94 475.71 L835.75 477.88 L835.62 479.99 L835.56 481.94 L835.58 483.66 L835.69 485.11 L835.96 486.29 L836.46 487.24 L837.11 487.92 L837.81 488.37 L838.47 488.63 L839.02 488.79 L839.37 488.9 L839.58 489.02 L840.42 487.65 L840.04 487.42 L839.55 487.22 L839.08 487.05 L838.65 486.84 L838.28 486.58 L837.99 486.22 L837.77 485.71 L837.65 484.89 L837.65 483.66 L837.75 482.04 L837.94 480.18 L838.21 478.16 L838.55 476.07 L838.94 474.02 L839.37 472.09 L839.82 470.38 L840.35 468.81 L841.02 467.19 L841.77 465.57 L842.57 464 L843.35 462.53 L844.07 461.21 L844.69 460.07 L845.15 459.18Z" fill="#b1b78a" stroke="#929968" stroke-width="0.55" stroke-linejoin="round"/>
<path d="M837.64 481.98 L838.32 482.16 L839.23 482.43 L840.32 482.75 L841.55 483.1 L842.83 483.45 L844.13 483.77 L845.38 484.04 L846.53 484.22 L847.64 484.31 L848.78 484.34 L849.9 484.31 L850.99 484.25 L851.99 484.17 L852.89 484.08 L853.63 484.02 L854.19 483.98 L854.15 482.68 L853.57 482.68 L852.81 482.7 L851.92 482.72 L850.93 482.73 L849.89 482.72 L848.82 482.68 L847.78 482.59 L846.8 482.44 L845.78 482.21 L844.63 481.88 L843.41 481.49 L842.18 481.07 L841.01 480.65 L839.94 480.25 L839.04 479.92 L838.36 479.69Z" fill="#b1b78a" stroke="#929968" stroke-width="0.55" stroke-linejoin="round"/>
<circle cx="845.83" cy="451.67" r="5.6" fill="#b1b78a" stroke="#929968" stroke-width="0.5"/>
<circle cx="845.83" cy="451.67" r="2.6" fill="#8e9468" stroke="#6b7050" stroke-width="0.6"/>
<polyline points="1001.67,483.33 1005,483.33 1005,473.33 1010,465 1010.83,446.67 1012.17,393.83 1013,448.33 1013.67,471.67 1014.5,472.17 1019.17,464.17 1019.67,448.33 1020.5,397.83 1021.33,448.33 1022,466.67 1022.83,467.17 1030.83,460.83 1031.33,448.33 1032.17,399.17 1033,448.33 1033.67,465 1034.5,465.5 1043.17,459.58 1043.67,448.33 1044.5,400.33 1045.33,448.33 1046,464.17 1046.83,464.67 1056.17,458.75 1056.67,448.33 1057.5,401.67 1058.33,448.33 1059,463.33 1059.83,463.83 1070.83,457.33 1071.33,448.33 1072.17,403 1073,448.33 1073.67,461.33 1074.5,461.83 1087,456.08 1087.5,448.33 1088.33,404.17 1089.17,448.33 1089.83,460.83 1090.67,461.33 1103.33,455.42 1103.83,448.33 1104.67,404.67 1105.5,448.33 1106.17,460 1107.5,460 1110.83,460.83 1111.67,466.67 1115,471.67 1124.17,476.67" fill="none" stroke="#7a7a7a" stroke-width="1.2" stroke-linejoin="round"/>
<rect x="78.4" y="693.6" width="366" height="269" fill="#fbfaf8" stroke="#050505" stroke-width="2.8"/>
<rect x="98.6" y="780.7" width="29.3" height="72.1" fill="#9db6ca"/>
<rect x="141.8" y="825.5" width="28.6" height="27.3" fill="#9db6ca"/>
<rect x="185.8" y="787.3" width="29.4" height="65.5" fill="#9db6ca"/>
<rect x="229.15" y="852.8" width="29.25" height="20" fill="#9db6ca"/>
<rect x="271" y="808.2" width="30.4" height="44.6" fill="#9db6ca"/>
<rect x="314.6" y="852.8" width="30" height="75" fill="#9db6ca"/>
<rect x="358.2" y="799.1" width="30.4" height="53.7" fill="#9db6ca"/>
<rect x="401.5" y="852.8" width="30.4" height="80.5" fill="#9db6ca"/>
<rect x="78" y="851.8" width="368" height="2" fill="#080808"/>
<text x="88.25" y="746" font-size="13.52" textLength="48" lengthAdjust="spacingAndGlyphs">Gene 1</text>
<text x="175.5" y="746" font-size="13.52" textLength="49.7" lengthAdjust="spacingAndGlyphs">Gene 3</text>
<text x="271.25" y="746" font-size="13.52" textLength="29.3" lengthAdjust="spacingAndGlyphs">Del1</text>
<text x="354.5" y="746" font-size="13.52" textLength="36.8" lengthAdjust="spacingAndGlyphs">PRS1</text>
<text x="131.75" y="765.5" font-size="13.52" textLength="49.5" lengthAdjust="spacingAndGlyphs">Gene 2</text>
<text x="219.2" y="765.5" font-size="13.52" textLength="49" lengthAdjust="spacingAndGlyphs">Gene 4</text>
<text x="311.75" y="765.5" font-size="13.52" textLength="34.99" lengthAdjust="spacingAndGlyphs">Dup1</text>
<text x="397.7" y="765.5" font-size="13.52" textLength="37.8" lengthAdjust="spacingAndGlyphs">PRS2</text>
<text transform="translate(61.3 893) rotate(-90)" x="-0" y="0" font-size="17.15" font-weight="bold" textLength="83" lengthAdjust="spacingAndGlyphs">Readouts</text>
<rect x="575.5" y="691.3" width="16.47" height="14.65" fill="#d59a78"/>
<rect x="591.67" y="691.3" width="16.47" height="14.65" fill="#d59a78"/>
<rect x="607.84" y="691.3" width="16.47" height="14.65" fill="#d59a78"/>
<rect x="624.01" y="691.3" width="16.47" height="14.65" fill="#aa5447"/>
<rect x="640.18" y="691.3" width="16.47" height="14.65" fill="#f5f5f4"/>
<rect x="656.35" y="691.3" width="16.47" height="14.65" fill="#f5f5f4"/>
<rect x="672.52" y="691.3" width="16.47" height="14.65" fill="#9eb8d8"/>
<rect x="688.69" y="691.3" width="16.47" height="14.65" fill="#d6e1ee"/>
<rect x="704.86" y="691.3" width="16.47" height="14.65" fill="#d6e1ee"/>
<rect x="721.03" y="691.3" width="16.47" height="14.65" fill="#d6e1ee"/>
<rect x="737.2" y="691.3" width="16.47" height="14.65" fill="#d6e1ee"/>
<rect x="753.37" y="691.3" width="16.47" height="14.65" fill="#3e50a4"/>
<rect x="769.54" y="691.3" width="16.47" height="14.65" fill="#1c2352"/>
<rect x="785.71" y="691.3" width="16.47" height="14.65" fill="#f5f5f4"/>
<rect x="801.88" y="691.3" width="16.47" height="14.65" fill="#9eb8d8"/>
<rect x="818.05" y="691.3" width="16.47" height="14.65" fill="#9eb8d8"/>
<rect x="834.22" y="691.3" width="16.47" height="14.65" fill="#9eb8d8"/>
<rect x="850.39" y="691.3" width="16.47" height="14.65" fill="#5b7fbb"/>
<rect x="866.56" y="691.3" width="16.47" height="14.65" fill="#5b7fbb"/>
<rect x="882.73" y="691.3" width="16.47" height="14.65" fill="#9eb8d8"/>
<rect x="898.9" y="691.3" width="16.47" height="14.65" fill="#9eb8d8"/>
<rect x="575.5" y="705.65" width="16.47" height="14.65" fill="#aa5447"/>
<rect x="591.67" y="705.65" width="16.47" height="14.65" fill="#d59a78"/>
<rect x="607.84" y="705.65" width="16.47" height="14.65" fill="#d59a78"/>
<rect x="624.01" y="705.65" width="16.47" height="14.65" fill="#aa5447"/>
<rect x="640.18" y="705.65" width="16.47" height="14.65" fill="#f5f5f4"/>
<rect x="656.35" y="705.65" width="16.47" height="14.65" fill="#f5f5f4"/>
<rect x="672.52" y="705.65" width="16.47" height="14.65" fill="#d6e1ee"/>
<rect x="688.69" y="705.65" width="16.47" height="14.65" fill="#d6e1ee"/>
<rect x="704.86" y="705.65" width="16.47" height="14.65" fill="#f5f5f4"/>
<rect x="721.03" y="705.65" width="16.47" height="14.65" fill="#9eb8d8"/>
<rect x="737.2" y="705.65" width="16.47" height="14.65" fill="#d6e1ee"/>
<rect x="753.37" y="705.65" width="16.47" height="14.65" fill="#3e50a4"/>
<rect x="769.54" y="705.65" width="16.47" height="14.65" fill="#1c2352"/>
<rect x="785.71" y="705.65" width="16.47" height="14.65" fill="#d6e1ee"/>
<rect x="801.88" y="705.65" width="16.47" height="14.65" fill="#9eb8d8"/>
<rect x="818.05" y="705.65" width="16.47" height="14.65" fill="#5b7fbb"/>
<rect x="834.22" y="705.65" width="16.47" height="14.65" fill="#9eb8d8"/>
<rect x="850.39" y="705.65" width="16.47" height="14.65" fill="#5b7fbb"/>
<rect x="866.56" y="705.65" width="16.47" height="14.65" fill="#3e50a4"/>
<rect x="882.73" y="705.65" width="16.47" height="14.65" fill="#9eb8d8"/>
<rect x="898.9" y="705.65" width="16.47" height="14.65" fill="#5b7fbb"/>
<rect x="575.5" y="720" width="16.47" height="14.65" fill="#8a2a2e"/>
<rect x="591.67" y="720" width="16.47" height="14.65" fill="#8a2a2e"/>
<rect x="607.84" y="720" width="16.47" height="14.65" fill="#aa5447"/>
<rect x="624.01" y="720" width="16.47" height="14.65" fill="#d59a78"/>
<rect x="640.18" y="720" width="16.47" height="14.65" fill="#d6e1ee"/>
<rect x="656.35" y="720" width="16.47" height="14.65" fill="#d6e1ee"/>
<rect x="672.52" y="720" width="16.47" height="14.65" fill="#f5f5f4"/>
<rect x="688.69" y="720" width="16.47" height="14.65" fill="#efd9c7"/>
<rect x="704.86" y="720" width="16.47" height="14.65" fill="#efd9c7"/>
<rect x="721.03" y="720" width="16.47" height="14.65" fill="#d6e1ee"/>
<rect x="737.2" y="720" width="16.47" height="14.65" fill="#d6e1ee"/>
<rect x="753.37" y="720" width="16.47" height="14.65" fill="#3e50a4"/>
<rect x="769.54" y="720" width="16.47" height="14.65" fill="#1c2352"/>
<rect x="785.71" y="720" width="16.47" height="14.65" fill="#9eb8d8"/>
<rect x="801.88" y="720" width="16.47" height="14.65" fill="#9eb8d8"/>
<rect x="818.05" y="720" width="16.47" height="14.65" fill="#5b7fbb"/>
<rect x="834.22" y="720" width="16.47" height="14.65" fill="#9eb8d8"/>
<rect x="850.39" y="720" width="16.47" height="14.65" fill="#5b7fbb"/>
<rect x="866.56" y="720" width="16.47" height="14.65" fill="#3e50a4"/>
<rect x="882.73" y="720" width="16.47" height="14.65" fill="#5b7fbb"/>
<rect x="898.9" y="720" width="16.47" height="14.65" fill="#5b7fbb"/>
<rect x="575.5" y="734.35" width="16.47" height="14.65" fill="#d59a78"/>
<rect x="591.67" y="734.35" width="16.47" height="14.65" fill="#efd9c7"/>
<rect x="607.84" y="734.35" width="16.47" height="14.65" fill="#d59a78"/>
<rect x="624.01" y="734.35" width="16.47" height="14.65" fill="#efd9c7"/>
<rect x="640.18" y="734.35" width="16.47" height="14.65" fill="#f5f5f4"/>
<rect x="656.35" y="734.35" width="16.47" height="14.65" fill="#efd9c7"/>
<rect x="672.52" y="734.35" width="16.47" height="14.65" fill="#d6e1ee"/>
<rect x="688.69" y="734.35" width="16.47" height="14.65" fill="#efd9c7"/>
<rect x="704.86" y="734.35" width="16.47" height="14.65" fill="#f5f5f4"/>
<rect x="721.03" y="734.35" width="16.47" height="14.65" fill="#9eb8d8"/>
<rect x="737.2" y="734.35" width="16.47" height="14.65" fill="#f5f5f4"/>
<rect x="753.37" y="734.35" width="16.47" height="14.65" fill="#3e50a4"/>
<rect x="769.54" y="734.35" width="16.47" height="14.65" fill="#1c2352"/>
<rect x="785.71" y="734.35" width="16.47" height="14.65" fill="#efd9c7"/>
<rect x="801.88" y="734.35" width="16.47" height="14.65" fill="#d6e1ee"/>
<rect x="818.05" y="734.35" width="16.47" height="14.65" fill="#9eb8d8"/>
<rect x="834.22" y="734.35" width="16.47" height="14.65" fill="#d6e1ee"/>
<rect x="850.39" y="734.35" width="16.47" height="14.65" fill="#9eb8d8"/>
<rect x="866.56" y="734.35" width="16.47" height="14.65" fill="#5b7fbb"/>
<rect x="882.73" y="734.35" width="16.47" height="14.65" fill="#d6e1ee"/>
<rect x="898.9" y="734.35" width="16.47" height="14.65" fill="#9eb8d8"/>
<rect x="575.5" y="748.7" width="16.47" height="14.65" fill="#d59a78"/>
<rect x="591.67" y="748.7" width="16.47" height="14.65" fill="#efd9c7"/>
<rect x="607.84" y="748.7" width="16.47" height="14.65" fill="#d59a78"/>
<rect x="624.01" y="748.7" width="16.47" height="14.65" fill="#f5f5f4"/>
<rect x="640.18" y="748.7" width="16.47" height="14.65" fill="#f5f5f4"/>
<rect x="656.35" y="748.7" width="16.47" height="14.65" fill="#d6e1ee"/>
<rect x="672.52" y="748.7" width="16.47" height="14.65" fill="#9eb8d8"/>
<rect x="688.69" y="748.7" width="16.47" height="14.65" fill="#efd9c7"/>
<rect x="704.86" y="748.7" width="16.47" height="14.65" fill="#efd9c7"/>
<rect x="721.03" y="748.7" width="16.47" height="14.65" fill="#efd9c7"/>
<rect x="737.2" y="748.7" width="16.47" height="14.65" fill="#f5f5f4"/>
<rect x="753.37" y="748.7" width="16.47" height="14.65" fill="#3e50a4"/>
<rect x="769.54" y="748.7" width="16.47" height="14.65" fill="#1c2352"/>
<rect x="785.71" y="748.7" width="16.47" height="14.65" fill="#f5f5f4"/>
<rect x="801.88" y="748.7" width="16.47" height="14.65" fill="#5b7fbb"/>
<rect x="818.05" y="748.7" width="16.47" height="14.65" fill="#5b7fbb"/>
<rect x="834.22" y="748.7" width="16.47" height="14.65" fill="#5b7fbb"/>
<rect x="850.39" y="748.7" width="16.47" height="14.65" fill="#3e50a4"/>
<rect x="866.56" y="748.7" width="16.47" height="14.65" fill="#9eb8d8"/>
<rect x="882.73" y="748.7" width="16.47" height="14.65" fill="#f5f5f4"/>
<rect x="898.9" y="748.7" width="16.47" height="14.65" fill="#f5f5f4"/>
<rect x="575.5" y="763.05" width="16.47" height="14.65" fill="#d59a78"/>
<rect x="591.67" y="763.05" width="16.47" height="14.65" fill="#efd9c7"/>
<rect x="607.84" y="763.05" width="16.47" height="14.65" fill="#efd9c7"/>
<rect x="624.01" y="763.05" width="16.47" height="14.65" fill="#d59a78"/>
<rect x="640.18" y="763.05" width="16.47" height="14.65" fill="#f5f5f4"/>
<rect x="656.35" y="763.05" width="16.47" height="14.65" fill="#d6e1ee"/>
<rect x="672.52" y="763.05" width="16.47" height="14.65" fill="#d6e1ee"/>
<rect x="688.69" y="763.05" width="16.47" height="14.65" fill="#f5f5f4"/>
<rect x="704.86" y="763.05" width="16.47" height="14.65" fill="#f5f5f4"/>
<rect x="721.03" y="763.05" width="16.47" height="14.65" fill="#f5f5f4"/>
<rect x="737.2" y="763.05" width="16.47" height="14.65" fill="#efd9c7"/>
<rect x="753.37" y="763.05" width="16.47" height="14.65" fill="#3e50a4"/>
<rect x="769.54" y="763.05" width="16.47" height="14.65" fill="#1c2352"/>
<rect x="785.71" y="763.05" width="16.47" height="14.65" fill="#d6e1ee"/>
<rect x="801.88" y="763.05" width="16.47" height="14.65" fill="#9eb8d8"/>
<rect x="818.05" y="763.05" width="16.47" height="14.65" fill="#d6e1ee"/>
<rect x="834.22" y="763.05" width="16.47" height="14.65" fill="#9eb8d8"/>
<rect x="850.39" y="763.05" width="16.47" height="14.65" fill="#9eb8d8"/>
<rect x="866.56" y="763.05" width="16.47" height="14.65" fill="#9eb8d8"/>
<rect x="882.73" y="763.05" width="16.47" height="14.65" fill="#d6e1ee"/>
<rect x="898.9" y="763.05" width="16.47" height="14.65" fill="#9eb8d8"/>
<rect x="575.5" y="777.4" width="16.47" height="14.65" fill="#efd9c7"/>
<rect x="591.67" y="777.4" width="16.47" height="14.65" fill="#aa5447"/>
<rect x="607.84" y="777.4" width="16.47" height="14.65" fill="#d59a78"/>
<rect x="624.01" y="777.4" width="16.47" height="14.65" fill="#aa5447"/>
<rect x="640.18" y="777.4" width="16.47" height="14.65" fill="#f5f5f4"/>
<rect x="656.35" y="777.4" width="16.47" height="14.65" fill="#efd9c7"/>
<rect x="672.52" y="777.4" width="16.47" height="14.65" fill="#efd9c7"/>
<rect x="688.69" y="777.4" width="16.47" height="14.65" fill="#efd9c7"/>
<rect x="704.86" y="777.4" width="16.47" height="14.65" fill="#efd9c7"/>
<rect x="721.03" y="777.4" width="16.47" height="14.65" fill="#f5f5f4"/>
<rect x="737.2" y="777.4" width="16.47" height="14.65" fill="#d6e1ee"/>
<rect x="753.37" y="777.4" width="16.47" height="14.65" fill="#5b7fbb"/>
<rect x="769.54" y="777.4" width="16.47" height="14.65" fill="#5b7fbb"/>
<rect x="785.71" y="777.4" width="16.47" height="14.65" fill="#5b7fbb"/>
<rect x="801.88" y="777.4" width="16.47" height="14.65" fill="#d6e1ee"/>
<rect x="818.05" y="777.4" width="16.47" height="14.65" fill="#d6e1ee"/>
<rect x="834.22" y="777.4" width="16.47" height="14.65" fill="#9eb8d8"/>
<rect x="850.39" y="777.4" width="16.47" height="14.65" fill="#5b7fbb"/>
<rect x="866.56" y="777.4" width="16.47" height="14.65" fill="#3e50a4"/>
<rect x="882.73" y="777.4" width="16.47" height="14.65" fill="#5b7fbb"/>
<rect x="898.9" y="777.4" width="16.47" height="14.65" fill="#3e50a4"/>
<rect x="575.5" y="791.75" width="16.47" height="14.65" fill="#efd9c7"/>
<rect x="591.67" y="791.75" width="16.47" height="14.65" fill="#d59a78"/>
<rect x="607.84" y="791.75" width="16.47" height="14.65" fill="#aa5447"/>
<rect x="624.01" y="791.75" width="16.47" height="14.65" fill="#d59a78"/>
<rect x="640.18" y="791.75" width="16.47" height="14.65" fill="#f5f5f4"/>
<rect x="656.35" y="791.75" width="16.47" height="14.65" fill="#d6e1ee"/>
<rect x="672.52" y="791.75" width="16.47" height="14.65" fill="#f5f5f4"/>
<rect x="688.69" y="791.75" width="16.47" height="14.65" fill="#d59a78"/>
<rect x="704.86" y="791.75" width="16.47" height="14.65" fill="#f5f5f4"/>
<rect x="721.03" y="791.75" width="16.47" height="14.65" fill="#f5f5f4"/>
<rect x="737.2" y="791.75" width="16.47" height="14.65" fill="#f5f5f4"/>
<rect x="753.37" y="791.75" width="16.47" height="14.65" fill="#3e50a4"/>
<rect x="769.54" y="791.75" width="16.47" height="14.65" fill="#1c2352"/>
<rect x="785.71" y="791.75" width="16.47" height="14.65" fill="#d6e1ee"/>
<rect x="801.88" y="791.75" width="16.47" height="14.65" fill="#9eb8d8"/>
<rect x="818.05" y="791.75" width="16.47" height="14.65" fill="#f5f5f4"/>
<rect x="834.22" y="791.75" width="16.47" height="14.65" fill="#9eb8d8"/>
<rect x="850.39" y="791.75" width="16.47" height="14.65" fill="#9eb8d8"/>
<rect x="866.56" y="791.75" width="16.47" height="14.65" fill="#5b7fbb"/>
<rect x="882.73" y="791.75" width="16.47" height="14.65" fill="#9eb8d8"/>
<rect x="898.9" y="791.75" width="16.47" height="14.65" fill="#5b7fbb"/>
<rect x="575.5" y="806.1" width="16.47" height="14.65" fill="#f5f5f4"/>
<rect x="591.67" y="806.1" width="16.47" height="14.65" fill="#efd9c7"/>
<rect x="607.84" y="806.1" width="16.47" height="14.65" fill="#aa5447"/>
<rect x="624.01" y="806.1" width="16.47" height="14.65" fill="#d59a78"/>
<rect x="640.18" y="806.1" width="16.47" height="14.65" fill="#d6e1ee"/>
<rect x="656.35" y="806.1" width="16.47" height="14.65" fill="#d6e1ee"/>
<rect x="672.52" y="806.1" width="16.47" height="14.65" fill="#d59a78"/>
<rect x="688.69" y="806.1" width="16.47" height="14.65" fill="#d59a78"/>
<rect x="704.86" y="806.1" width="16.47" height="14.65" fill="#d59a78"/>
<rect x="721.03" y="806.1" width="16.47" height="14.65" fill="#d59a78"/>
<rect x="737.2" y="806.1" width="16.47" height="14.65" fill="#f5f5f4"/>
<rect x="753.37" y="806.1" width="16.47" height="14.65" fill="#d6e1ee"/>
<rect x="769.54" y="806.1" width="16.47" height="14.65" fill="#9eb8d8"/>
<rect x="785.71" y="806.1" width="16.47" height="14.65" fill="#5b7fbb"/>
<rect x="801.88" y="806.1" width="16.47" height="14.65" fill="#9eb8d8"/>
<rect x="818.05" y="806.1" width="16.47" height="14.65" fill="#f5f5f4"/>
<rect x="834.22" y="806.1" width="16.47" height="14.65" fill="#d6e1ee"/>
<rect x="850.39" y="806.1" width="16.47" height="14.65" fill="#9eb8d8"/>
<rect x="866.56" y="806.1" width="16.47" height="14.65" fill="#3e50a4"/>
<rect x="882.73" y="806.1" width="16.47" height="14.65" fill="#3e50a4"/>
<rect x="898.9" y="806.1" width="16.47" height="14.65" fill="#3e50a4"/>
<rect x="575.5" y="820.45" width="16.47" height="14.65" fill="#aa5447"/>
<rect x="591.67" y="820.45" width="16.47" height="14.65" fill="#aa5447"/>
<rect x="607.84" y="820.45" width="16.47" height="14.65" fill="#8a2a2e"/>
<rect x="624.01" y="820.45" width="16.47" height="14.65" fill="#efd9c7"/>
<rect x="640.18" y="820.45" width="16.47" height="14.65" fill="#d59a78"/>
<rect x="656.35" y="820.45" width="16.47" height="14.65" fill="#aa5447"/>
<rect x="672.52" y="820.45" width="16.47" height="14.65" fill="#d59a78"/>
<rect x="688.69" y="820.45" width="16.47" height="14.65" fill="#aa5447"/>
<rect x="704.86" y="820.45" width="16.47" height="14.65" fill="#efd9c7"/>
<rect x="721.03" y="820.45" width="16.47" height="14.65" fill="#efd9c7"/>
<rect x="737.2" y="820.45" width="16.47" height="14.65" fill="#f5f5f4"/>
<rect x="753.37" y="820.45" width="16.47" height="14.65" fill="#3e50a4"/>
<rect x="769.54" y="820.45" width="16.47" height="14.65" fill="#3e50a4"/>
<rect x="785.71" y="820.45" width="16.47" height="14.65" fill="#d6e1ee"/>
<rect x="801.88" y="820.45" width="16.47" height="14.65" fill="#d6e1ee"/>
<rect x="818.05" y="820.45" width="16.47" height="14.65" fill="#d6e1ee"/>
<rect x="834.22" y="820.45" width="16.47" height="14.65" fill="#1c2352"/>
<rect x="850.39" y="820.45" width="16.47" height="14.65" fill="#5b7fbb"/>
<rect x="866.56" y="820.45" width="16.47" height="14.65" fill="#5b7fbb"/>
<rect x="882.73" y="820.45" width="16.47" height="14.65" fill="#9eb8d8"/>
<rect x="898.9" y="820.45" width="16.47" height="14.65" fill="#9eb8d8"/>
<rect x="575.5" y="834.8" width="16.47" height="14.65" fill="#d59a78"/>
<rect x="591.67" y="834.8" width="16.47" height="14.65" fill="#d59a78"/>
<rect x="607.84" y="834.8" width="16.47" height="14.65" fill="#aa5447"/>
<rect x="624.01" y="834.8" width="16.47" height="14.65" fill="#f5f5f4"/>
<rect x="640.18" y="834.8" width="16.47" height="14.65" fill="#d6e1ee"/>
<rect x="656.35" y="834.8" width="16.47" height="14.65" fill="#d59a78"/>
<rect x="672.52" y="834.8" width="16.47" height="14.65" fill="#f5f5f4"/>
<rect x="688.69" y="834.8" width="16.47" height="14.65" fill="#aa5447"/>
<rect x="704.86" y="834.8" width="16.47" height="14.65" fill="#aa5447"/>
<rect x="721.03" y="834.8" width="16.47" height="14.65" fill="#efd9c7"/>
<rect x="737.2" y="834.8" width="16.47" height="14.65" fill="#efd9c7"/>
<rect x="753.37" y="834.8" width="16.47" height="14.65" fill="#5b7fbb"/>
<rect x="769.54" y="834.8" width="16.47" height="14.65" fill="#9eb8d8"/>
<rect x="785.71" y="834.8" width="16.47" height="14.65" fill="#d6e1ee"/>
<rect x="801.88" y="834.8" width="16.47" height="14.65" fill="#f5f5f4"/>
<rect x="818.05" y="834.8" width="16.47" height="14.65" fill="#9eb8d8"/>
<rect x="834.22" y="834.8" width="16.47" height="14.65" fill="#5b7fbb"/>
<rect x="850.39" y="834.8" width="16.47" height="14.65" fill="#3e50a4"/>
<rect x="866.56" y="834.8" width="16.47" height="14.65" fill="#5b7fbb"/>
<rect x="882.73" y="834.8" width="16.47" height="14.65" fill="#d6e1ee"/>
<rect x="898.9" y="834.8" width="16.47" height="14.65" fill="#f5f5f4"/>
<rect x="575.5" y="849.15" width="16.47" height="14.65" fill="#d59a78"/>
<rect x="591.67" y="849.15" width="16.47" height="14.65" fill="#aa5447"/>
<rect x="607.84" y="849.15" width="16.47" height="14.65" fill="#aa5447"/>
<rect x="624.01" y="849.15" width="16.47" height="14.65" fill="#d6e1ee"/>
<rect x="640.18" y="849.15" width="16.47" height="14.65" fill="#f5f5f4"/>
<rect x="656.35" y="849.15" width="16.47" height="14.65" fill="#efd9c7"/>
<rect x="672.52" y="849.15" width="16.47" height="14.65" fill="#d59a78"/>
<rect x="688.69" y="849.15" width="16.47" height="14.65" fill="#8a2a2e"/>
<rect x="704.86" y="849.15" width="16.47" height="14.65" fill="#f5f5f4"/>
<rect x="721.03" y="849.15" width="16.47" height="14.65" fill="#efd9c7"/>
<rect x="737.2" y="849.15" width="16.47" height="14.65" fill="#d6e1ee"/>
<rect x="753.37" y="849.15" width="16.47" height="14.65" fill="#9eb8d8"/>
<rect x="769.54" y="849.15" width="16.47" height="14.65" fill="#d6e1ee"/>
<rect x="785.71" y="849.15" width="16.47" height="14.65" fill="#f5f5f4"/>
<rect x="801.88" y="849.15" width="16.47" height="14.65" fill="#efd9c7"/>
<rect x="818.05" y="849.15" width="16.47" height="14.65" fill="#d6e1ee"/>
<rect x="834.22" y="849.15" width="16.47" height="14.65" fill="#3e50a4"/>
<rect x="850.39" y="849.15" width="16.47" height="14.65" fill="#5b7fbb"/>
<rect x="866.56" y="849.15" width="16.47" height="14.65" fill="#9eb8d8"/>
<rect x="882.73" y="849.15" width="16.47" height="14.65" fill="#d6e1ee"/>
<rect x="898.9" y="849.15" width="16.47" height="14.65" fill="#d6e1ee"/>
<rect x="575.5" y="863.5" width="16.47" height="14.65" fill="#aa5447"/>
<rect x="591.67" y="863.5" width="16.47" height="14.65" fill="#efd9c7"/>
<rect x="607.84" y="863.5" width="16.47" height="14.65" fill="#d59a78"/>
<rect x="624.01" y="863.5" width="16.47" height="14.65" fill="#d59a78"/>
<rect x="640.18" y="863.5" width="16.47" height="14.65" fill="#aa5447"/>
<rect x="656.35" y="863.5" width="16.47" height="14.65" fill="#f5f5f4"/>
<rect x="672.52" y="863.5" width="16.47" height="14.65" fill="#d59a78"/>
<rect x="688.69" y="863.5" width="16.47" height="14.65" fill="#f5f5f4"/>
<rect x="704.86" y="863.5" width="16.47" height="14.65" fill="#d59a78"/>
<rect x="721.03" y="863.5" width="16.47" height="14.65" fill="#efd9c7"/>
<rect x="737.2" y="863.5" width="16.47" height="14.65" fill="#f5f5f4"/>
<rect x="753.37" y="863.5" width="16.47" height="14.65" fill="#f5f5f4"/>
<rect x="769.54" y="863.5" width="16.47" height="14.65" fill="#5b7fbb"/>
<rect x="785.71" y="863.5" width="16.47" height="14.65" fill="#3e50a4"/>
<rect x="801.88" y="863.5" width="16.47" height="14.65" fill="#d6e1ee"/>
<rect x="818.05" y="863.5" width="16.47" height="14.65" fill="#3e50a4"/>
<rect x="834.22" y="863.5" width="16.47" height="14.65" fill="#d6e1ee"/>
<rect x="850.39" y="863.5" width="16.47" height="14.65" fill="#3e50a4"/>
<rect x="866.56" y="863.5" width="16.47" height="14.65" fill="#9eb8d8"/>
<rect x="882.73" y="863.5" width="16.47" height="14.65" fill="#f5f5f4"/>
<rect x="898.9" y="863.5" width="16.47" height="14.65" fill="#efd9c7"/>
<rect x="575.5" y="877.85" width="16.47" height="14.65" fill="#f5f5f4"/>
<rect x="591.67" y="877.85" width="16.47" height="14.65" fill="#d59a78"/>
<rect x="607.84" y="877.85" width="16.47" height="14.65" fill="#d6e1ee"/>
<rect x="624.01" y="877.85" width="16.47" height="14.65" fill="#efd9c7"/>
<rect x="640.18" y="877.85" width="16.47" height="14.65" fill="#d6e1ee"/>
<rect x="656.35" y="877.85" width="16.47" height="14.65" fill="#d6e1ee"/>
<rect x="672.52" y="877.85" width="16.47" height="14.65" fill="#5b7fbb"/>
<rect x="688.69" y="877.85" width="16.47" height="14.65" fill="#9eb8d8"/>
<rect x="704.86" y="877.85" width="16.47" height="14.65" fill="#3e50a4"/>
<rect x="721.03" y="877.85" width="16.47" height="14.65" fill="#f5f5f4"/>
<rect x="737.2" y="877.85" width="16.47" height="14.65" fill="#9eb8d8"/>
<rect x="753.37" y="877.85" width="16.47" height="14.65" fill="#5b7fbb"/>
<rect x="769.54" y="877.85" width="16.47" height="14.65" fill="#3e50a4"/>
<rect x="785.71" y="877.85" width="16.47" height="14.65" fill="#d59a78"/>
<rect x="801.88" y="877.85" width="16.47" height="14.65" fill="#9eb8d8"/>
<rect x="818.05" y="877.85" width="16.47" height="14.65" fill="#9eb8d8"/>
<rect x="834.22" y="877.85" width="16.47" height="14.65" fill="#efd9c7"/>
<rect x="850.39" y="877.85" width="16.47" height="14.65" fill="#efd9c7"/>
<rect x="866.56" y="877.85" width="16.47" height="14.65" fill="#f5f5f4"/>
<rect x="882.73" y="877.85" width="16.47" height="14.65" fill="#d6e1ee"/>
<rect x="898.9" y="877.85" width="16.47" height="14.65" fill="#9eb8d8"/>
<rect x="575.5" y="892.2" width="16.47" height="14.65" fill="#4b151a"/>
<rect x="591.67" y="892.2" width="16.47" height="14.65" fill="#8a2a2e"/>
<rect x="607.84" y="892.2" width="16.47" height="14.65" fill="#d59a78"/>
<rect x="624.01" y="892.2" width="16.47" height="14.65" fill="#4b151a"/>
<rect x="640.18" y="892.2" width="16.47" height="14.65" fill="#d59a78"/>
<rect x="656.35" y="892.2" width="16.47" height="14.65" fill="#d59a78"/>
<rect x="672.52" y="892.2" width="16.47" height="14.65" fill="#efd9c7"/>
<rect x="688.69" y="892.2" width="16.47" height="14.65" fill="#d6e1ee"/>
<rect x="704.86" y="892.2" width="16.47" height="14.65" fill="#9eb8d8"/>
<rect x="721.03" y="892.2" width="16.47" height="14.65" fill="#d6e1ee"/>
<rect x="737.2" y="892.2" width="16.47" height="14.65" fill="#5b7fbb"/>
<rect x="753.37" y="892.2" width="16.47" height="14.65" fill="#1c2352"/>
<rect x="769.54" y="892.2" width="16.47" height="14.65" fill="#3e50a4"/>
<rect x="785.71" y="892.2" width="16.47" height="14.65" fill="#d6e1ee"/>
<rect x="801.88" y="892.2" width="16.47" height="14.65" fill="#d6e1ee"/>
<rect x="818.05" y="892.2" width="16.47" height="14.65" fill="#d6e1ee"/>
<rect x="834.22" y="892.2" width="16.47" height="14.65" fill="#d6e1ee"/>
<rect x="850.39" y="892.2" width="16.47" height="14.65" fill="#f5f5f4"/>
<rect x="866.56" y="892.2" width="16.47" height="14.65" fill="#3e50a4"/>
<rect x="882.73" y="892.2" width="16.47" height="14.65" fill="#5b7fbb"/>
<rect x="898.9" y="892.2" width="16.47" height="14.65" fill="#9eb8d8"/>
<rect x="575.5" y="906.55" width="16.47" height="14.65" fill="#5b7fbb"/>
<rect x="591.67" y="906.55" width="16.47" height="14.65" fill="#5b7fbb"/>
<rect x="607.84" y="906.55" width="16.47" height="14.65" fill="#9eb8d8"/>
<rect x="624.01" y="906.55" width="16.47" height="14.65" fill="#d6e1ee"/>
<rect x="640.18" y="906.55" width="16.47" height="14.65" fill="#9eb8d8"/>
<rect x="656.35" y="906.55" width="16.47" height="14.65" fill="#d6e1ee"/>
<rect x="672.52" y="906.55" width="16.47" height="14.65" fill="#efd9c7"/>
<rect x="688.69" y="906.55" width="16.47" height="14.65" fill="#d6e1ee"/>
<rect x="704.86" y="906.55" width="16.47" height="14.65" fill="#efd9c7"/>
<rect x="721.03" y="906.55" width="16.47" height="14.65" fill="#f5f5f4"/>
<rect x="737.2" y="906.55" width="16.47" height="14.65" fill="#efd9c7"/>
<rect x="753.37" y="906.55" width="16.47" height="14.65" fill="#8a2a2e"/>
<rect x="769.54" y="906.55" width="16.47" height="14.65" fill="#8a2a2e"/>
<rect x="785.71" y="906.55" width="16.47" height="14.65" fill="#f5f5f4"/>
<rect x="801.88" y="906.55" width="16.47" height="14.65" fill="#f5f5f4"/>
<rect x="818.05" y="906.55" width="16.47" height="14.65" fill="#d59a78"/>
<rect x="834.22" y="906.55" width="16.47" height="14.65" fill="#d59a78"/>
<rect x="850.39" y="906.55" width="16.47" height="14.65" fill="#efd9c7"/>
<rect x="866.56" y="906.55" width="16.47" height="14.65" fill="#efd9c7"/>
<rect x="882.73" y="906.55" width="16.47" height="14.65" fill="#efd9c7"/>
<rect x="898.9" y="906.55" width="16.47" height="14.65" fill="#efd9c7"/>
<rect x="575.5" y="920.9" width="16.47" height="14.65" fill="#5b7fbb"/>
<rect x="591.67" y="920.9" width="16.47" height="14.65" fill="#1c2352"/>
<rect x="607.84" y="920.9" width="16.47" height="14.65" fill="#5b7fbb"/>
<rect x="624.01" y="920.9" width="16.47" height="14.65" fill="#d6e1ee"/>
<rect x="640.18" y="920.9" width="16.47" height="14.65" fill="#efd9c7"/>
<rect x="656.35" y="920.9" width="16.47" height="14.65" fill="#9eb8d8"/>
<rect x="672.52" y="920.9" width="16.47" height="14.65" fill="#f5f5f4"/>
<rect x="688.69" y="920.9" width="16.47" height="14.65" fill="#5b7fbb"/>
<rect x="704.86" y="920.9" width="16.47" height="14.65" fill="#f5f5f4"/>
<rect x="721.03" y="920.9" width="16.47" height="14.65" fill="#d6e1ee"/>
<rect x="737.2" y="920.9" width="16.47" height="14.65" fill="#efd9c7"/>
<rect x="753.37" y="920.9" width="16.47" height="14.65" fill="#4b151a"/>
<rect x="769.54" y="920.9" width="16.47" height="14.65" fill="#8a2a2e"/>
<rect x="785.71" y="920.9" width="16.47" height="14.65" fill="#efd9c7"/>
<rect x="801.88" y="920.9" width="16.47" height="14.65" fill="#f5f5f4"/>
<rect x="818.05" y="920.9" width="16.47" height="14.65" fill="#aa5447"/>
<rect x="834.22" y="920.9" width="16.47" height="14.65" fill="#6e2a24"/>
<rect x="850.39" y="920.9" width="16.47" height="14.65" fill="#9a2230"/>
<rect x="866.56" y="920.9" width="16.47" height="14.65" fill="#4b151a"/>
<rect x="882.73" y="920.9" width="16.47" height="14.65" fill="#aa5447"/>
<rect x="898.9" y="920.9" width="16.47" height="14.65" fill="#aa5447"/>
<rect x="575.5" y="935.25" width="16.47" height="14.65" fill="#d59a78"/>
<rect x="591.67" y="935.25" width="16.47" height="14.65" fill="#f5f5f4"/>
<rect x="607.84" y="935.25" width="16.47" height="14.65" fill="#d59a78"/>
<rect x="624.01" y="935.25" width="16.47" height="14.65" fill="#d59a78"/>
<rect x="640.18" y="935.25" width="16.47" height="14.65" fill="#aa5447"/>
<rect x="656.35" y="935.25" width="16.47" height="14.65" fill="#8a2a2e"/>
<rect x="672.52" y="935.25" width="16.47" height="14.65" fill="#aa5447"/>
<rect x="688.69" y="935.25" width="16.47" height="14.65" fill="#efd9c7"/>
<rect x="704.86" y="935.25" width="16.47" height="14.65" fill="#f5f5f4"/>
<rect x="721.03" y="935.25" width="16.47" height="14.65" fill="#9eb8d8"/>
<rect x="737.2" y="935.25" width="16.47" height="14.65" fill="#d6e1ee"/>
<rect x="753.37" y="935.25" width="16.47" height="14.65" fill="#d59a78"/>
<rect x="769.54" y="935.25" width="16.47" height="14.65" fill="#efd9c7"/>
<rect x="785.71" y="935.25" width="16.47" height="14.65" fill="#f5f5f4"/>
<rect x="801.88" y="935.25" width="16.47" height="14.65" fill="#aa5447"/>
<rect x="818.05" y="935.25" width="16.47" height="14.65" fill="#efd9c7"/>
<rect x="834.22" y="935.25" width="16.47" height="14.65" fill="#d6e1ee"/>
<rect x="850.39" y="935.25" width="16.47" height="14.65" fill="#9eb8d8"/>
<rect x="866.56" y="935.25" width="16.47" height="14.65" fill="#f5f5f4"/>
<rect x="882.73" y="935.25" width="16.47" height="14.65" fill="#d6e1ee"/>
<rect x="898.9" y="935.25" width="16.47" height="14.65" fill="#efd9c7"/>
<rect x="575.5" y="949.6" width="16.47" height="14.65" fill="#f5f5f4"/>
<rect x="591.67" y="949.6" width="16.47" height="14.65" fill="#f5f5f4"/>
<rect x="607.84" y="949.6" width="16.47" height="14.65" fill="#efd9c7"/>
<rect x="624.01" y="949.6" width="16.47" height="14.65" fill="#9eb8d8"/>
<rect x="640.18" y="949.6" width="16.47" height="14.65" fill="#f5f5f4"/>
<rect x="656.35" y="949.6" width="16.47" height="14.65" fill="#efd9c7"/>
<rect x="672.52" y="949.6" width="16.47" height="14.65" fill="#aa5447"/>
<rect x="688.69" y="949.6" width="16.47" height="14.65" fill="#aa5447"/>
<rect x="704.86" y="949.6" width="16.47" height="14.65" fill="#d59a78"/>
<rect x="721.03" y="949.6" width="16.47" height="14.65" fill="#d59a78"/>
<rect x="737.2" y="949.6" width="16.47" height="14.65" fill="#9eb8d8"/>
<rect x="753.37" y="949.6" width="16.47" height="14.65" fill="#d59a78"/>
<rect x="769.54" y="949.6" width="16.47" height="14.65" fill="#8a2a2e"/>
<rect x="785.71" y="949.6" width="16.47" height="14.65" fill="#d59a78"/>
<rect x="801.88" y="949.6" width="16.47" height="14.65" fill="#d59a78"/>
<rect x="818.05" y="949.6" width="16.47" height="14.65" fill="#f5f5f4"/>
<rect x="834.22" y="949.6" width="16.47" height="14.65" fill="#d59a78"/>
<rect x="850.39" y="949.6" width="16.47" height="14.65" fill="#d59a78"/>
<rect x="866.56" y="949.6" width="16.47" height="14.65" fill="#efd9c7"/>
<rect x="882.73" y="949.6" width="16.47" height="14.65" fill="#efd9c7"/>
<rect x="898.9" y="949.6" width="16.47" height="14.65" fill="#aa5447"/>
<rect x="574.6" y="690.4" width="341.6" height="274" fill="none" stroke="#050505" stroke-width="2.4"/>
<text transform="translate(586.7 683.3) rotate(-90)" x="-0" y="0" font-size="14.53" textLength="65" lengthAdjust="spacingAndGlyphs">Cellular 1</text>
<text transform="translate(602.25 683.3) rotate(-90)" x="-0" y="0" font-size="14.53" textLength="65" lengthAdjust="spacingAndGlyphs">Cellular 2</text>
<text transform="translate(617.8 683.3) rotate(-90)" x="-0" y="0" font-size="14.53" textLength="65" lengthAdjust="spacingAndGlyphs">Cellular 3</text>
<text transform="translate(633.35 683.3) rotate(-90)" x="-0" y="0" font-size="14.53" textLength="65" lengthAdjust="spacingAndGlyphs">Cellular 4</text>
<text transform="translate(648.9 683.3) rotate(-90)" x="-0" y="0" font-size="14.53" textLength="65" lengthAdjust="spacingAndGlyphs">Cellular 5</text>
<text transform="translate(664.45 683.3) rotate(-90)" x="-0" y="0" font-size="14.53" textLength="65" lengthAdjust="spacingAndGlyphs">Cellular 6</text>
<text transform="translate(680 683.3) rotate(-90)" x="-0" y="0" font-size="14.53" textLength="65" lengthAdjust="spacingAndGlyphs">Cellular 7</text>
<text transform="translate(695.55 683.3) rotate(-90)" x="-0" y="0" font-size="14.53" textLength="65" lengthAdjust="spacingAndGlyphs">Cellular 8</text>
<text transform="translate(711.1 683.3) rotate(-90)" x="-0" y="0" font-size="14.53" textLength="65" lengthAdjust="spacingAndGlyphs">Cellular 9</text>
<text transform="translate(726.65 683.3) rotate(-90)" x="-0" y="0" font-size="14.53" textLength="73.5" lengthAdjust="spacingAndGlyphs">Cellular 10</text>
<text transform="translate(742.2 683.3) rotate(-90)" x="-0" y="0" font-size="14.53" textLength="73.5" lengthAdjust="spacingAndGlyphs">Cellular 11</text>
<text transform="translate(757.75 683.3) rotate(-90)" x="-0" y="0" font-size="14.53" textLength="80" lengthAdjust="spacingAndGlyphs">Molecular 1</text>
<text transform="translate(773.3 683.3) rotate(-90)" x="-0" y="0" font-size="14.53" textLength="80" lengthAdjust="spacingAndGlyphs">Molecular 2</text>
<text transform="translate(788.85 683.3) rotate(-90)" x="-0" y="0" font-size="14.53" textLength="80" lengthAdjust="spacingAndGlyphs">Molecular 3</text>
<text transform="translate(804.4 683.3) rotate(-90)" x="-0" y="0" font-size="14.53" textLength="80" lengthAdjust="spacingAndGlyphs">Molecular 4</text>
<text transform="translate(819.95 683.3) rotate(-90)" x="-0" y="0" font-size="14.53" textLength="80" lengthAdjust="spacingAndGlyphs">Molecular 5</text>
<text transform="translate(835.5 683.3) rotate(-90)" x="-0" y="0" font-size="14.53" textLength="80" lengthAdjust="spacingAndGlyphs">Molecular 6</text>
<text transform="translate(851.05 683.3) rotate(-90)" x="-0" y="0" font-size="14.53" textLength="80" lengthAdjust="spacingAndGlyphs">Molecular 7</text>
<text transform="translate(866.6 683.3) rotate(-90)" x="-0" y="0" font-size="14.53" textLength="80" lengthAdjust="spacingAndGlyphs">Molecular 8</text>
<text transform="translate(882.15 683.3) rotate(-90)" x="-0" y="0" font-size="14.53" textLength="80" lengthAdjust="spacingAndGlyphs">Molecular 9</text>
<text transform="translate(897.7 683.3) rotate(-90)" x="-0" y="0" font-size="14.53" textLength="88.5" lengthAdjust="spacingAndGlyphs">Molecular 10</text>
<text transform="translate(913.25 683.3) rotate(-90)" x="-0" y="0" font-size="14.53" textLength="88.5" lengthAdjust="spacingAndGlyphs">Molecular 11</text>
<text x="922.1" y="702.6" font-size="13.66" textLength="47.51" lengthAdjust="spacingAndGlyphs">Gene 1</text>
<text x="922.1" y="717.06" font-size="13.66" textLength="47.51" lengthAdjust="spacingAndGlyphs">Gene 2</text>
<text x="922.1" y="731.52" font-size="13.66" textLength="47.51" lengthAdjust="spacingAndGlyphs">Gene 3</text>
<text x="922.1" y="745.98" font-size="13.66" textLength="47.51" lengthAdjust="spacingAndGlyphs">Gene 4</text>
<text x="922.1" y="760.44" font-size="13.66" textLength="47.51" lengthAdjust="spacingAndGlyphs">Gene 5</text>
<text x="922.1" y="774.9" font-size="13.66" textLength="33.81" lengthAdjust="spacingAndGlyphs">Del 1</text>
<text x="922.1" y="789.36" font-size="13.66" textLength="33.81" lengthAdjust="spacingAndGlyphs">Del 2</text>
<text x="922.1" y="803.82" font-size="13.66" textLength="34.62" lengthAdjust="spacingAndGlyphs">Dup1</text>
<text x="922.1" y="818.28" font-size="13.66" textLength="34.62" lengthAdjust="spacingAndGlyphs">Dup2</text>
<text x="922.1" y="832.74" font-size="13.66" textLength="37.83" lengthAdjust="spacingAndGlyphs">PRS1</text>
<text x="922.1" y="847.2" font-size="13.66" textLength="37.83" lengthAdjust="spacingAndGlyphs">PRS2</text>
<text x="922.1" y="861.66" font-size="13.66" textLength="37.83" lengthAdjust="spacingAndGlyphs">PRS3</text>
<text x="922.1" y="876.12" font-size="13.66" textLength="37.83" lengthAdjust="spacingAndGlyphs">PRS3</text>
<text x="922.1" y="890.58" font-size="13.66" textLength="37.83" lengthAdjust="spacingAndGlyphs">PRS4</text>
<text x="922.1" y="905.04" font-size="13.66" textLength="43.48" lengthAdjust="spacingAndGlyphs">Gene6</text>
<text x="922.1" y="919.5" font-size="13.66" textLength="43.48" lengthAdjust="spacingAndGlyphs">Gene7</text>
<text x="922.1" y="933.96" font-size="13.66" textLength="29.79" lengthAdjust="spacingAndGlyphs">Del3</text>
<text x="922.1" y="948.42" font-size="13.66" textLength="34.62" lengthAdjust="spacingAndGlyphs">Dup3</text>
<text x="922.1" y="962.88" font-size="13.66" textLength="37.83" lengthAdjust="spacingAndGlyphs">PRS5</text>
<path d="M975.3 698H985.1M975.3 713.8H985.1M985.1 698V713.8M985.1 705.9H1002.2M975.3 728.2H1002.2M1002.2 705.9V728.2M1002.2 717.05H1007.5M975.3 742.3H1007.5M1007.5 717.05V742.3M975.3 755.9H999.4M975.3 770.5H999.4M999.4 755.9V770.5M1007.5 729.67H1015M999.4 763.2H1015M1015 729.67V763.2M975.3 785.5H1002.2M975.3 799.6H1002.2M1002.2 785.5V799.6M1002.2 792.55H1012.2M975.3 813.6H1012.2M1012.2 792.55V813.6M975.3 843.8H1006.4M975.3 859.2H1006.4M1006.4 843.8V859.2M975.3 828.7H1009.9M1006.4 851.5H1009.9M1009.9 828.7V851.5M1012.2 803.08H1023.2M1009.9 840.1H1023.2M1023.2 803.08V840.1M1023.2 821.59H1030.9M975.3 873.7H1030.9M1030.9 821.59V873.7M1015 746.44H1036M1030.9 847.64H1036M1036 746.44V847.64M975.3 888.9H1038.3M975.3 902.9H1038.3M1038.3 888.9V902.9M1036 797.04H1056.3M1038.3 895.9H1056.3M1056.3 797.04V895.9M975.3 917.8H1020.4M975.3 931.6H1020.4M1020.4 917.8V931.6M975.3 947H1026.7M975.3 962.4H1026.7M1026.7 947V962.4M1020.4 924.7H1066.3M1026.7 954.7H1066.3M1066.3 924.7V954.7M1056.3 846.47H1114.2M1066.3 939.7H1114.2M1114.2 846.47V939.7" fill="none" stroke="#0a0a0a" stroke-width="1.9" stroke-linecap="square"/>
<text transform="translate(1135.6 773.8) rotate(90)" x="-0" y="0" font-size="18.6" font-weight="bold" textLength="92" lengthAdjust="spacingAndGlyphs">Genotypes</text>
</svg></body></html>
